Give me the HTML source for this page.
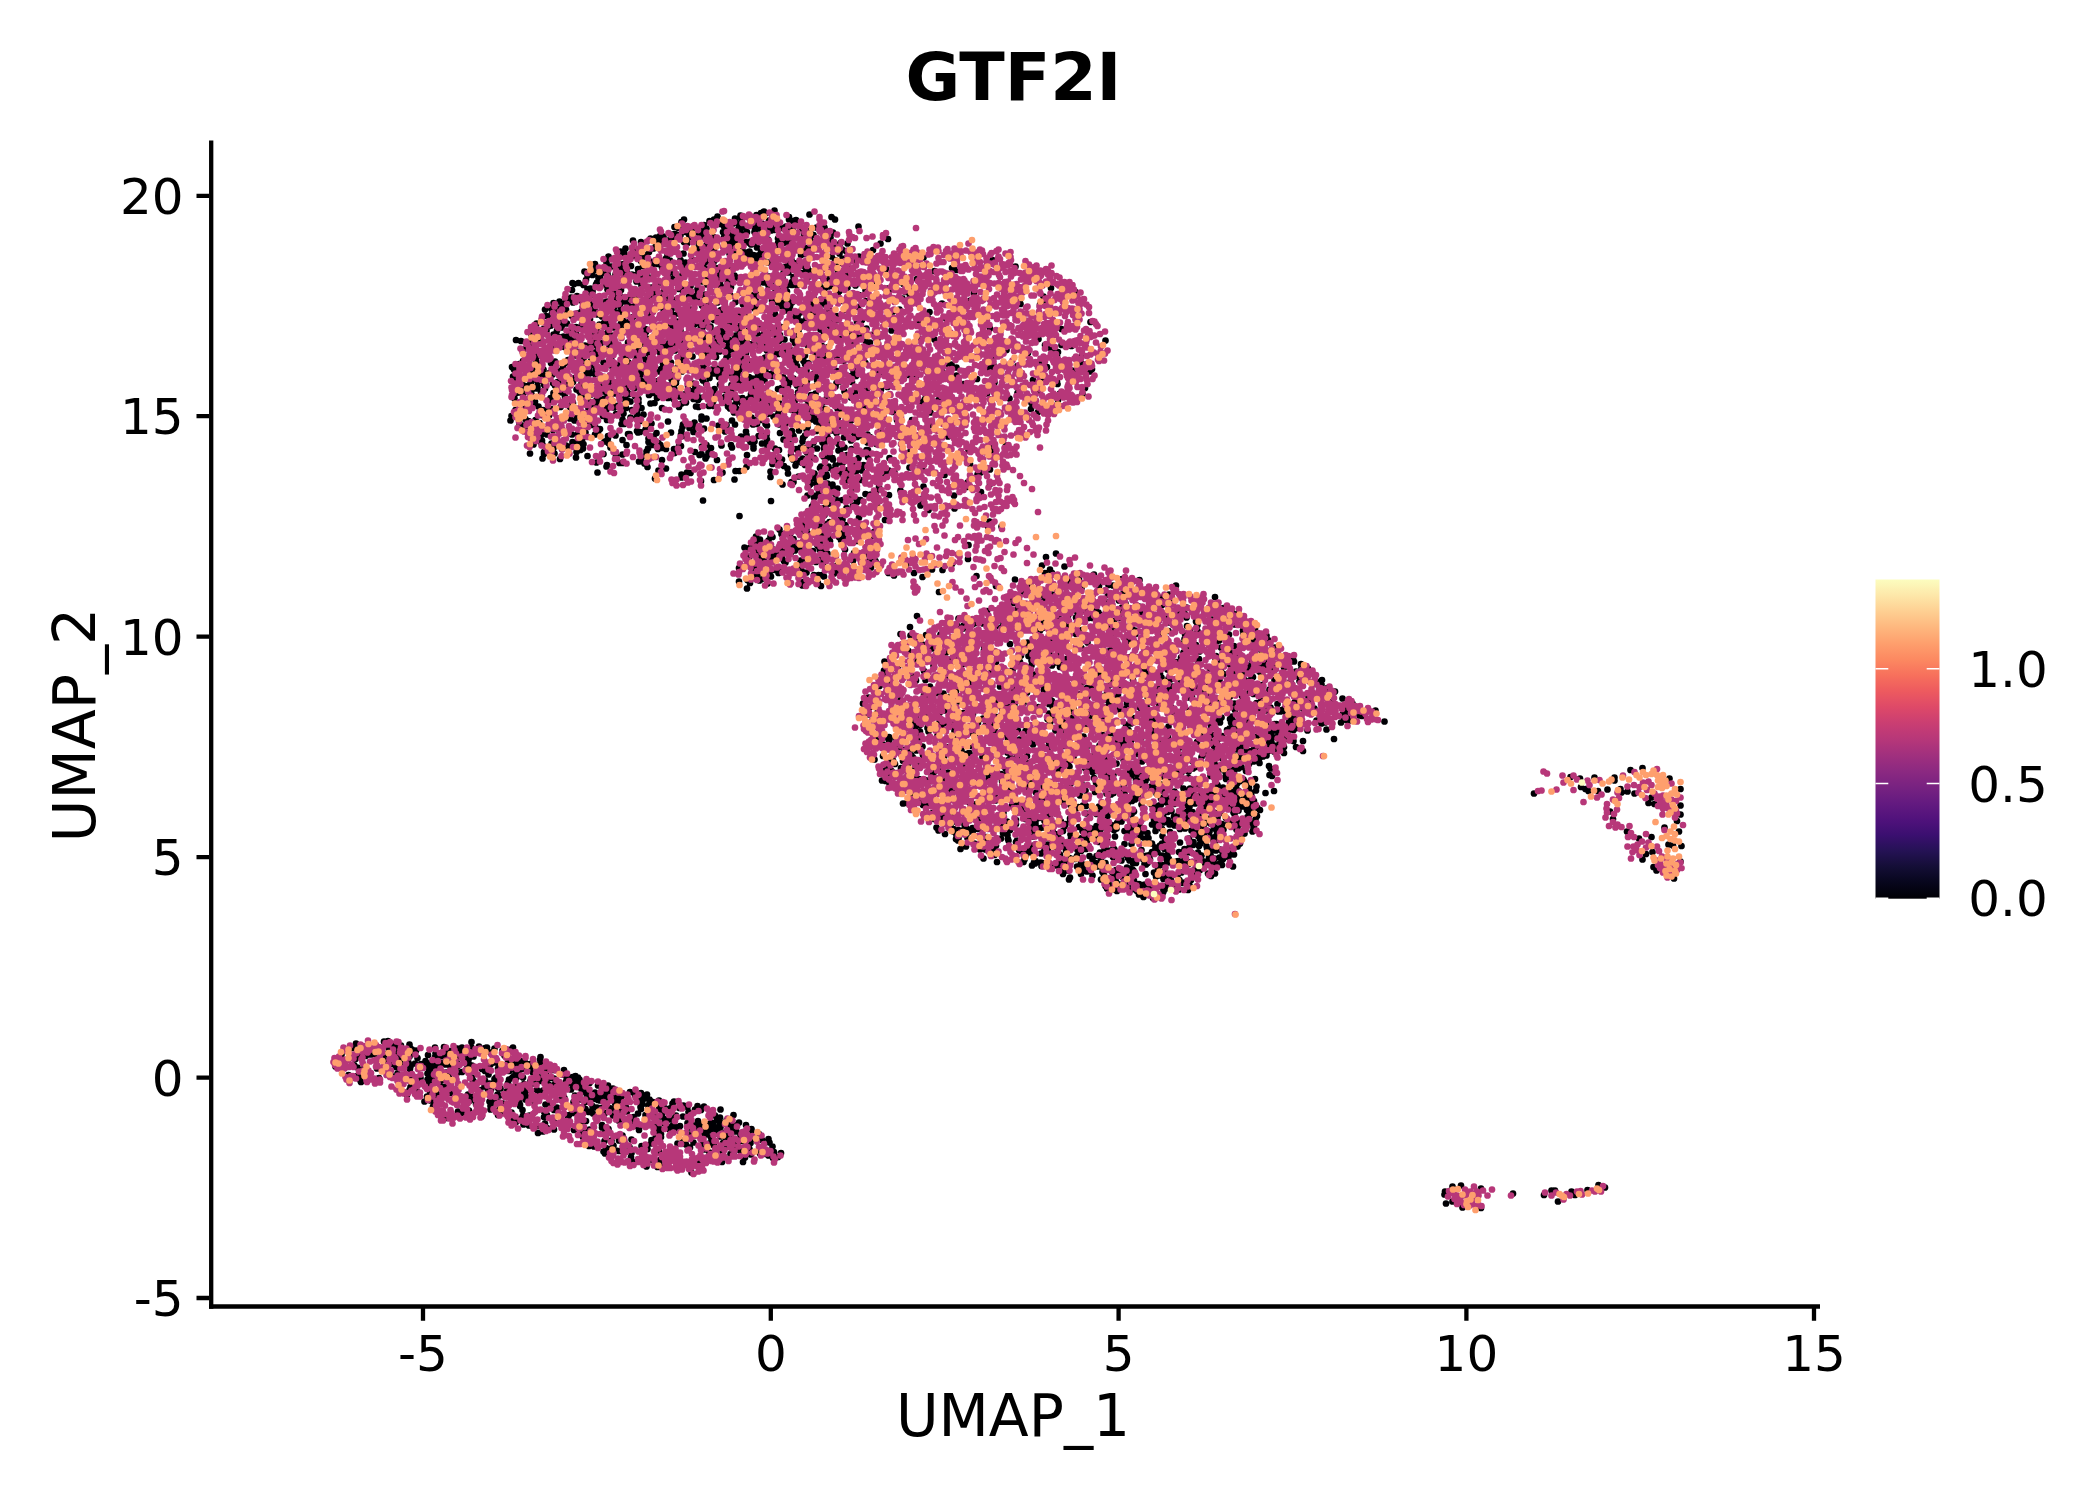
<!DOCTYPE html>
<html lang="en">
<head>
<meta charset="utf-8">
<title>GTF2I</title>
<style>
html,body{margin:0;padding:0;background:#fff;}
body{width:2100px;height:1500px;overflow:hidden;}
svg{display:block;}
text{font-family:"DejaVu Sans","Liberation Sans",sans-serif;fill:#000;}
.tk{font-size:50px;}
.at{font-size:58.3px;}
.tt{font-size:66.7px;font-weight:bold;}
.d{fill:none;stroke-linecap:round;stroke-linejoin:round;stroke-width:13.4;}
</style>
</head>
<body>
<svg width="2100" height="1500" viewBox="0 0 2100 1500">
<defs>
<linearGradient id="mg" x1="0" y1="1" x2="0" y2="0">
<stop offset="0" stop-color="#000004"/>
<stop offset="0.05" stop-color="#07061c"/>
<stop offset="0.1" stop-color="#140e36"/>
<stop offset="0.15" stop-color="#251255"/>
<stop offset="0.2" stop-color="#3b0f70"/>
<stop offset="0.25" stop-color="#51127c"/>
<stop offset="0.3" stop-color="#641a80"/>
<stop offset="0.35" stop-color="#782281"/>
<stop offset="0.4" stop-color="#8c2981"/>
<stop offset="0.45" stop-color="#a1307e"/>
<stop offset="0.5" stop-color="#b73779"/>
<stop offset="0.55" stop-color="#ca3e72"/>
<stop offset="0.6" stop-color="#de4968"/>
<stop offset="0.65" stop-color="#ed5a5f"/>
<stop offset="0.7" stop-color="#f7705c"/>
<stop offset="0.75" stop-color="#fc8961"/>
<stop offset="0.8" stop-color="#fe9f6d"/>
<stop offset="0.85" stop-color="#feb77e"/>
<stop offset="0.9" stop-color="#fecf92"/>
<stop offset="0.95" stop-color="#fde7a9"/>
<stop offset="1" stop-color="#fcfdbf"/>
</linearGradient>
</defs>
<rect width="2100" height="1500" fill="#fff"/>
<text class="tt" x="1013.5" y="100" text-anchor="middle">GTF2I</text>
<g class="d" transform="scale(.5)">
<path stroke="#000004" d="M1670 439h0m-7-5h0m-44-5h0m-41 5h0m0 5h0m-29-18h0m-2 6h0m-15-1h0m-4-3h0m-6 3h0m-9 4h0m-30 8h0m-2-7h0m-11 6h0m-35-4h0m-7 6h0m-60 0h0m-19 15h0m8 2h0m6-12h0m29 15h0m13-7h0m3-2h0m5 7h0m6-15h0m8 3h0m13 3h0m8 5h0m9 1h0m9-7h0m11 0h0m0 10h0m9-2h0m3-2h0m15-4h0m6-1h0m0 11h0m8-2h0m1-4h0m8-5h0m11-7h0m2 14h0m8 5h0m1-9h0m13 5h0m10-3h0m13 5h0m1-16h0m6-2h0m12 17h0m29-2h0m16 0h0m68-2h0m59 25h0m-110-13h0m-5 10h0m-34-5h0m-7-8h0m-12 7h0m-30-5h0m-18 13h0m-4 0h0m-14-16h0m-6 18h0m-27-15h0m-15 0h0m-12 3h0m-8 5h0m-8 0h0m-4-9h0m-1 8h0m-4 2h0m-2-3h0m-2 9h0m-5-5h0m-2-10h0m-19 10h0m-16-6h0m-3 5h0m-5-13h0m-2 12h0m-11-7h0m-7-4h0m-4 13h0m-1-5h0m-6-5h0m-11 6h0m-7 0h0m-4-2h0m-1 8h0m-4-7h0m-4 8h0m-14 0h0m0-4h0m-7-1h0m-8 3h0m-5 4h0m-6-2h0m-50 20h0m15-16h0m16 3h0m25 13h0m5-6h0m2-6h0m2-3h0m10 3h0m42-1h0m7 2h0m17-4h0m5 12h0m16-4h0m15 9h0m21-15h0m7 3h0m6 7h0m1-13h0m3 4h0m3 12h0m2-16h0m2 10h0m11 6h0m8-13h0m5 1h0m4-2h0m1 6h0m7-5h0m5 11h0m42-9h0m2 11h0m9-11h0m8-2h0m8-3h0m23 14h0m7 1h0m7-2h0m1-13h0m4 4h0m1 9h0m32-7h0m11 1h0m12-2h0m3 13h0m11-12h0m51 13h0m15-13h0m86 28h0m-122 2h0m-7-4h0m-24 2h0m-2-13h0m-7 15h0m-6-10h0m-9 13h0m-7-7h0m-55-10h0m0 5h0m-6 2h0m-19 10h0m-56-2h0m-2-3h0m-3-11h0m-4 13h0m-3-6h0m-2 6h0m-6-7h0m-8-7h0m-2 10h0m-1 4h0m-4-12h0m-17 2h0m-6-6h0m-10 6h0m-28 12h0m-34-17h0m-12 17h0m-18-12h0m-32 3h0m-3 7h0m-34-13h0m-6 6h0m-2 4h0m-6 4h0m-6-11h0m-12-6h0m0 11h0m-17-4h0m-8-5h0m-24 10h0m-27 27h0m0-12h0m3 12h0m9-1h0m11-14h0m9 8h0m13-2h0m6-2h0m2 10h0m4-11h0m15 4h0m14 6h0m6-16h0m4 10h0m15-9h0m5 5h0m9 0h0m9 7h0m16-14h0m21-1h0m5 11h0m5-6h0m35 10h0m4-10h0m5-4h0m1 17h0m11-13h0m1 10h0m9 1h0m23-4h0m76-7h0m35 9h0m5-11h0m2 17h0m4-12h0m12-2h0m7 4h0m8 2h0m6 4h0m41 1h0m15-14h0m0 12h0m7-9h0m19 9h0m11-14h0m64 17h0m132-2h0m81-16h0m46 13h0m-118 7h0m-44 2h0m-35 16h0m-141-11h0m-17-2h0m-14 14h0m-3-9h0m-5 10h0m-10-7h0m-22-10h0m-7 13h0m-3-16h0m-9 6h0m-16 8h0m-10-9h0m-10 1h0m-2 9h0m-27-2h0m-65 2h0m-4-4h0m-4 7h0m-9-2h0m-11-12h0m-5 8h0m-1-4h0m-17 9h0m-8 2h0m-49-10h0m-19-5h0m-1 13h0m-5 0h0m-5-7h0m-37 5h0m-11-3h0m-12-4h0m-4 3h0m-7-2h0m-11-5h0m-1 9h0m-3-1h0m-18-3h0m-14 5h0m-2-7h0m-2-5h0m-8 4h0m-4 1h0m-1 7h0m-3 2h0m0-3h0m-12-3h0m-10 1h0m-6-8h0m-25 37h0m1-14h0m3 2h0m9-2h0m10 4h0m5-10h0m3 18h0m6-1h0m11-8h0m2-4h0m17 4h0m4 10h0m24-2h0m3 3h0m31-17h0m8-2h0m2 10h0m20 4h0m16-10h0m21-3h0m18 16h0m9-5h0m14-1h0m14 6h0m9-15h0m10 6h0m24-9h0m2 12h0m0-9h0m0 4h0m7 8h0m9-10h0m6 9h0m54-1h0m6-9h0m6 1h0m9 6h0m7 1h0m20 2h0m11-4h0m8-3h0m1-3h0m0 6h0m10 1h0m45 0h0m2 6h0m9-1h0m7-3h0m5-1h0m9 3h0m24 0h0m16-4h0m20 9h0m15-10h0m29 7h0m5 2h0m27-11h0m295 8h0m49 8h0m-64 9h0m-47 6h0m-92-13h0m-128 6h0m-9-8h0m-6 13h0m-87-7h0m-39-8h0m-4 7h0m-27 9h0m-19 1h0m-55-16h0m-25 3h0m-3 12h0m-28-10h0m-6 10h0m0-6h0m-10-2h0m-41 1h0m-50-2h0m-4 1h0m-11-7h0m-2 17h0m-4-8h0m-2 2h0m-10-1h0m-13-13h0m-15 20h0m-16-4h0m-6-15h0m-7 11h0m-15-6h0m-1 7h0m-5 2h0m-29-1h0m-13 0h0m-3 1h0m-16-5h0m-8 5h0m-2-8h0m-44-4h0m0-2h0m-5 10h0m-26 1h0m-12 3h0m-52 24h0m13-1h0m2 2h0m2-4h0m0-10h0m3 13h0m9-2h0m0-14h0m6 9h0m7 7h0m0-15h0m8-2h0m6 3h0m18-3h0m17 5h0m4 12h0m5-1h0m16-9h0m1-4h0m7-2h0m14 11h0m5-14h0m7 12h0m1-9h0m8 0h0m7 6h0m6 5h0m9-9h0m30 15h0m26-2h0m16 1h0m38 0h0m23-8h0m4 0h0m9-4h0m18-2h0m7 15h0m29-16h0m15 5h0m21 5h0m2 3h0m5-2h0m30-14h0m5 1h0m7 3h0m6 0h0m1 7h0m8-10h0m8 17h0m1-6h0m3-12h0m1 4h0m37 0h0m3-2h0m5 12h0m1-10h0m14 2h0m9 5h0m3-6h0m2 13h0m22-17h0m36 12h0m16-12h0m67 17h0m85-12h0m57-6h0m100 7h0m39 1h0m3-2h0m8-3h0m-199 33h0m-33-13h0m-3 12h0m-70-13h0m-62 17h0m-33-20h0m-17 12h0m-43-7h0m-9-3h0m-9 15h0m-8-13h0m-8 4h0m-2 6h0m-8 0h0m-15-13h0m-22 7h0m-58 3h0m-12 0h0m-4-7h0m-40 7h0m-8 9h0m-21-2h0m-50-11h0m-9 3h0m-17-8h0m-34 10h0m-31 2h0m-26-10h0m-8 1h0m-5-3h0m-23 11h0m-9-4h0m-15 9h0m-17-15h0m-2 3h0m-6 1h0m-11 5h0m-9-4h0m-32 1h0m-1 4h0m-10-1h0m-21 21h0m2-6h0m14 11h0m12-6h0m3-1h0m18-6h0m3 10h0m2-6h0m9-2h0m18 7h0m12-5h0m15-5h0m20 5h0m1 3h0m8-6h0m6 9h0m3-12h0m10 12h0m14-6h0m2-4h0m4 11h0m0-14h0m5 6h0m6-4h0m33 14h0m47-4h0m5-2h0m11-9h0m35 6h0m5-3h0m7 12h0m1-7h0m3 4h0m5-8h0m11 6h0m17 6h0m2-2h0m10-12h0m12 6h0m12 6h0m5-5h0m37 3h0m35 2h0m12-3h0m40-11h0m38 16h0m19-7h0m5 5h0m3-13h0m7-4h0m39 3h0m19 14h0m104-12h0m143 12h0m143 1h0m58-14h0m-104 34h0m-208 1h0m-27-1h0m-59-17h0m-27 15h0m-8-8h0m-22 1h0m-5 7h0m-9-3h0m-11-7h0m-20 12h0m-34-15h0m-50-1h0m-4 16h0m-1-11h0m-2 7h0m-4 5h0m-17 0h0m-9-9h0m-6-3h0m-1 5h0m-11-8h0m-16 6h0m-12-3h0m-16-7h0m-12 19h0m-7-18h0m-2 19h0m-6-9h0m-1 3h0m-12 6h0m-7 0h0m-3-16h0m-7 6h0m-15 1h0m-2-8h0m-15 6h0m-48-8h0m-68 16h0m-1-13h0m-69 7h0m-11-3h0m-18-5h0m-5 16h0m-4-10h0m-33-5h0m-1 14h0m-12-16h0m-1 8h0m-5 7h0m-6-4h0m-3 5h0m-8-5h0m-2-12h0m-7 8h0m-14-8h0m-17 16h0m-13-8h0m-31 11h0m10 2h0m5 17h0m14-7h0m2-10h0m43 11h0m23 1h0m5-9h0m6-5h0m30 11h0m5 5h0m2 4h0m5-15h0m4 0h0m2 5h0m7 3h0m7-7h0m17 6h0m7-6h0m3 7h0m27-8h0m14 12h0m7-4h0m10-6h0m31 9h0m8-6h0m4 9h0m3-10h0m6-5h0m3 10h0m9-5h0m14-6h0m7 17h0m4-8h0m34-11h0m13 12h0m7-10h0m7 10h0m16 1h0m5-5h0m6 10h0m15-16h0m3 12h0m7-6h0m5-4h0m10 3h0m9 3h0m20-5h0m25-4h0m13 14h0m8 1h0m11-11h0m25 4h0m29 2h0m12 2h0m52-10h0m24-1h0m8 2h0m0 11h0m273 4h0m77-10h0m9 5h0m24-5h0m20 2h0m68-11h0m-47 30h0m-48-7h0m-2 7h0m-4-9h0m-54 4h0m-70 10h0m-241-4h0m-71 2h0m-22 1h0m-4-4h0m-7 3h0m-9 3h0m-3-13h0m-19 7h0m-16 3h0m-4-2h0m-1 4h0m-20-15h0m-12 7h0m-3-6h0m-5 4h0m-14 11h0m-1-16h0m-4 14h0m-38-9h0m-6 12h0m-29-17h0m-1 10h0m-3 4h0m-14-12h0m-4-2h0m-3 13h0m-16-3h0m-1-7h0m-12 3h0m-18 6h0m-26 1h0m-9-13h0m-30 4h0m-21 4h0m-4-4h0m-10 9h0m-9-12h0m-3 16h0m0-8h0m-21 8h0m-4-5h0m-25 7h0m-21-11h0m-4-2h0m-2 8h0m-3-11h0m-6 1h0m-20 12h0m-2-6h0m-12-8h0m-1 8h0m-16 9h0m-63-6h0m-4-2h0m-45 22h0m4 5h0m10-11h0m8-6h0m17 11h0m9-11h0m1 13h0m4-6h0m6 9h0m4 1h0m15-13h0m6 1h0m2-4h0m16 12h0m6-9h0m34 4h0m2 8h0m10 0h0m3-7h0m1-9h0m10 16h0m15-13h0m18 9h0m10-4h0m22-5h0m35-5h0m30 18h0m4-10h0m0 12h0m16-15h0m1 10h0m14-3h0m6-9h0m7-3h0m28 19h0m7-5h0m3 1h0m16 4h0m10-2h0m9 0h0m26 2h0m10 0h0m2-6h0m8-4h0m15-4h0m23-2h0m4 14h0m1-14h0m58 7h0m2-9h0m2 11h0m4 8h0m9-18h0m3 6h0m7-2h0m33-5h0m37 1h0m44 4h0m161 2h0m11 1h0m10 6h0m62 0h0m6-3h0m4-7h0m2 5h0m1 9h0m45-2h0m2-5h0m45-4h0m14 6h0m68-8h0m22 12h0m-4 5h0m-32 4h0m-4-6h0m-190 17h0m-41-7h0m-28-7h0m-53 9h0m-14-3h0m-60-4h0m-46 6h0m-5-11h0m-3 10h0m-30-9h0m-37 15h0m-3 3h0m-3-7h0m-3-6h0m-15-6h0m-26 16h0m-16 2h0m-5-5h0m-22-7h0m0 5h0m-10-5h0m-12 6h0m0-10h0m-3 15h0m-3-7h0m-6 7h0m-5-1h0m-4 0h0m-3-3h0m-22-7h0m-2 8h0m-3-7h0m-9-2h0m-15 7h0m-5-5h0m-4 6h0m-1-13h0m-9 6h0m-7 0h0m-2 9h0m-15 1h0m-40-14h0m-11 16h0m-10-10h0m0 9h0m-24-15h0m-30-2h0m-6 2h0m-1 6h0m-8-4h0m-83-3h0m-1 6h0m-11-1h0m-6 0h0m-24 9h0m-22-15h0m-9 1h0m-13 7h0m-6-3h0m-12 5h0m-7-1h0m-10-7h0m-2 16h0m-5-11h0m-37 5h0m7 10h0m12 12h0m1-5h0m8 2h0m5-2h0m3-5h0m3 13h0m5-4h0m4 3h0m1-3h0m1-11h0m12 6h0m2 8h0m16-11h0m4 5h0m5-7h0m11 2h0m9 2h0m11-4h0m7 15h0m10-12h0m3 5h0m37-1h0m10-2h0m8-4h0m27 4h0m4 9h0m15-8h0m2 6h0m14-14h0m10 10h0m2-10h0m21 0h0m23 9h0m8-11h0m2 18h0m3-12h0m24 6h0m10-5h0m4 11h0m5-2h0m11-15h0m6 6h0m17 11h0m11-9h0m23 1h0m11-5h0m8 0h0m21 3h0m2 10h0m24-17h0m27 17h0m7-2h0m9-10h0m4 6h0m4-8h0m14 7h0m7-1h0m8 1h0m5-10h0m19 10h0m5-10h0m33 12h0m2-7h0m6-3h0m25 1h0m58 15h0m13-5h0m152-6h0m62-3h0m77-5h0m19 3h0m29 0h0m1 5h0m55 8h0m-5 12h0m-45-1h0m-4 13h0m-37-19h0m-44 5h0m-16 11h0m-45-10h0m-97 13h0m-27-2h0m-117-17h0m-23 5h0m-1-4h0m-3 7h0m-4 6h0m-13-12h0m-35 12h0m-23-8h0m-9 3h0m-10 8h0m-13-15h0m-3 2h0m-5 13h0m-1-4h0m-20-1h0m-50 5h0m-14 1h0m-4-11h0m-4 9h0m-7 3h0m-6-4h0m-7 1h0m-13-3h0m-2-13h0m-13 13h0m-1-14h0m-21 3h0m0 3h0m-4-3h0m-24 12h0m-6-8h0m-7 11h0m-2-16h0m-14 6h0m-12 5h0m-12 5h0m-11-2h0m-22 0h0m-7-10h0m-4-2h0m-5 6h0m-21 8h0m-7-6h0m-12-4h0m-3-3h0m-6 13h0m-14-11h0m-5 0h0m-4-4h0m-10 10h0m-2 3h0m0-10h0m-5 11h0m-2-14h0m-4-2h0m-1 18h0m-20-10h0m-8 7h0m-10 0h0m-2-5h0m-3-8h0m-29 10h0m-1-10h0m-4 2h0m-8 0h0m-6-1h0m-4 2h0m-6 10h0m-19-12h0m-19 4h0m-16-2h0m-7-1h0m-7 1h0m-4 11h0m2 23h0m21-7h0m16-7h0m2-3h0m7 10h0m9 7h0m15-19h0m1 17h0m19-4h0m19 0h0m4-5h0m2-3h0m31 11h0m4-13h0m5 4h0m4 2h0m3-10h0m5 5h0m9 10h0m6 4h0m6-7h0m7-4h0m2 7h0m9-4h0m10 2h0m3-3h0m2 6h0m3-15h0m6 2h0m3 17h0m13-15h0m6 11h0m18-9h0m8-1h0m15 10h0m34-2h0m5-7h0m9-2h0m20 8h0m4-13h0m1 14h0m21-2h0m6-7h0m3 7h0m0-11h0m21 4h0m8 8h0m4 4h0m5-6h0m5 2h0m3-10h0m1 15h0m5-17h0m4 5h0m55 0h0m12 11h0m8 3h0m0-14h0m26 14h0m5-15h0m28 0h0m2 11h0m25-10h0m6 12h0m25-1h0m5 2h0m42-2h0m11-2h0m110-11h0m219 14h0m1-12h0m13 18h0m-215 1h0m-37 15h0m-38-16h0m-110 11h0m-18 2h0m-25-2h0m-4-4h0m-6 8h0m0-14h0m-6 15h0m-24-20h0m-1 4h0m-2-2h0m-34 7h0m-9 4h0m-12-5h0m-12 12h0m-14 0h0m-6-5h0m-35-10h0m-55 12h0m-10-4h0m0 6h0m-116-10h0m-13 4h0m0-9h0m0 6h0m-13 5h0m-14-8h0m-2 12h0m-13-11h0m-22-7h0m-4 11h0m-51-1h0m-4-3h0m-11 9h0m-42-6h0m-6-10h0m-9 9h0m-32 8h0m-28-6h0m-2 9h0m18 6h0m10 4h0m3 2h0m5-11h0m14-2h0m8 6h0m27 14h0m13-9h0m30-10h0m23 6h0m6 3h0m4 0h0m8 1h0m10 7h0m14-18h0m29 8h0m5 0h0m32-6h0m11 17h0m5-7h0m7-5h0m33-4h0m29 11h0m1-5h0m13 7h0m10-11h0m1 7h0m18 5h0m29-6h0m14 6h0m2-7h0m11-9h0m6 8h0m36 0h0m8-1h0m17 0h0m3 3h0m25-2h0m7 0h0m6-3h0m41 13h0m2-5h0m17-11h0m3-1h0m4 10h0m2-3h0m16 1h0m25 1h0m20-10h0m92-1h0m68 10h0m34 23h0m-97 1h0m-38-13h0m-21 13h0m-5-5h0m-12 2h0m-9 3h0m-3-1h0m-2-6h0m-4-4h0m-17 12h0m-15-9h0m-9-5h0m-8 15h0m-2-8h0m-21-6h0m-23 9h0m-4 5h0m-8-15h0m-11 11h0m-3-10h0m-17 17h0m-7-13h0m-26 13h0m-1-9h0m-4 0h0m-12 2h0m-19 7h0m-5-9h0m-1-7h0m-10 10h0m-32-10h0m-63 1h0m-20 8h0m-4-10h0m-1 7h0m-20-4h0m-29 1h0m-6 7h0m-10 4h0m-17-13h0m-4 1h0m-2-3h0m-15 6h0m-3 0h0m-25 3h0m-15 5h0m0-4h0m-20-7h0m-6 4h0m-19-4h0m-6 12h0m-9-9h0m-12 1h0m-25-6h0m-25 6h0m-11 0h0m-4 0h0m-13 2h0m1 18h0m13-6h0m4-2h0m1 8h0m18-2h0m4 9h0m21-2h0m4-3h0m5 2h0m8-9h0m6 1h0m9 1h0m1 14h0m5-3h0m1-9h0m42-5h0m8 3h0m4 9h0m24-15h0m8 10h0m43 7h0m1-13h0m8 6h0m11 8h0m1-12h0m4 4h0m1 4h0m3 2h0m7 2h0m16 0h0m10-6h0m4 0h0m42 1h0m9-3h0m9 6h0m21-5h0m19-1h0m2 5h0m37-11h0m6 13h0m0-4h0m2-10h0m15 4h0m9-1h0m2 8h0m15 3h0m8 3h0m19-16h0m15 14h0m9-3h0m4-12h0m6 13h0m10 0h0m6-11h0m7 12h0m11-12h0m3 11h0m1-9h0m0 13h0m28-12h0m12 7h0m13-14h0m1 17h0m32-13h0m18 3h0m229 8h0m30-5h0m-24 14h0m-51-4h0m-116 1h0m-42 14h0m-43-16h0m0 14h0m-1-6h0m-2-8h0m-16 16h0m-23-6h0m-4 2h0m-10-11h0m-3 0h0m-11 18h0m-1-3h0m-6-9h0m-3-2h0m-1 10h0m-8-2h0m-19 3h0m-9 2h0m-5-13h0m-9 12h0m-10-17h0m-9 19h0m-4-9h0m-18 9h0m-11 1h0m-59-10h0m-60 10h0m-12-12h0m-5-3h0m-4 8h0m-2 4h0m-8-9h0m-4 2h0m-9-6h0m-41 2h0m-56-3h0m-1 8h0m-47-2h0m-13 3h0m-25-4h0m-32 4h0m-22-8h0m-1 11h0m-32 3h0m-11-11h0m-21-3h0m0 4h0m-3 9h0m-25-10h0m133 18h0m20 8h0m1-3h0m25-4h0m6 0h0m33-3h0m4-3h0m7 7h0m6 7h0m29-14h0m8 17h0m161-3h0m52-6h0m23 4h0m7 5h0m16-6h0m6-9h0m6 3h0m7 5h0m30 6h0m2-3h0m15 0h0m0 3h0m9 4h0m5-9h0m10-6h0m4 1h0m21 5h0m21-1h0m92 5h0m25 0h0m96-7h0m40 11h0m-19 6h0m-6 4h0m-66 1h0m-100-5h0m-11-4h0m-9 5h0m-45-5h0m-12 2h0m-9 3h0m-7-6h0m-3 15h0m-12-8h0m-27 5h0m-1-3h0m-4 5h0m-3-4h0m-16 7h0m-1-10h0m-10 12h0m-22-6h0m-21-6h0m-35-4h0m0 11h0m-62-12h0m-8 0h0m-2 17h0m-24-14h0m-64 1h0m-7-1h0m-11 10h0m0-6h0m-46-8h0m-7 16h0m-115-12h0m207 17h0m26-2h0m137 9h0m18-5h0m4 0h0m30 2h0m1 5h0m3-3h0m12-1h0m10 4h0m12-4h0m2 7h0m6-2h0m2-3h0m10 8h0m21-16h0m11 14h0m14-15h0m37 14h0m89-1h0m86 1h0m2-9h0m45 3h0m-18 16h0m-54 7h0m-67 7h0m-40-17h0m-23 9h0m-26-5h0m-11 4h0m-10-1h0m-10 12h0m-8-1h0m-12-5h0m-30-5h0m-8-7h0m-25 1h0m-6 8h0m-4 4h0m-13-4h0m-209 10h0m136 1h0m82 11h0m3-4h0m21 7h0m7-8h0m10-1h0m5 2h0m6-8h0m9-1h0m8 16h0m13-5h0m8-7h0m40 6h0m87 1h0m68 6h0m-52 3h0m-139 15h0m-33 4h0m-3-6h0m-33-3h0m-170 2h0m80 27h0m44-11h0m6 8h0m4 1h0m1-7h0m24-3h0m0 5h0m7 3h0m9-7h0m5-4h0m32 6h0m32 3h0m47-13h0m206 13h0m3-10h0m24 10h0m-255 11h0m-5 8h0m-51 5h0m-3-9h0m-8-6h0m-3 12h0m-21 2h0m-11-5h0m-7 4h0m-23-8h0m-13 0h0m-16 11h0m-7-10h0m-17 0h0m-18 6h0m-4-1h0m-21 6h0m-8-6h0m-23 22h0m10 1h0m11-6h0m7-1h0m2-6h0m18-2h0m10 18h0m16-8h0m2 9h0m17-15h0m2 6h0m7 4h0m5-5h0m0 5h0m8-1h0m31-3h0m3-8h0m1 13h0m6-9h0m15-5h0m22-2h0m8 19h0m25-17h0m222 8h0m175 17h0m-20 7h0m-156 4h0m-198-8h0m-30-4h0m-53 1h0m-9-5h0m-2 3h0m-1 13h0m-3-18h0m-14 2h0m-16 15h0m-20-16h0m-8 4h0m-18 10h0m-7-5h0m-2 4h0m-8-5h0m-4 6h0m-15 1h0m-5-7h0m-2 6h0m-6-7h0m-3-5h0m-13 10h0m-21 23h0m31 0h0m16-11h0m23 15h0m20-18h0m3 3h0m30-4h0m1 13h0m30-10h0m15 1h0m27 6h0m32-10h0m34-1h0m2 15h0m9-13h0m62 6h0m51 11h0m40-11h0m180 3h0m16 8h0m29-6h0m150 27h0m-35-2h0m-56-9h0m-30 9h0m-54-12h0m-14 4h0m0-4h0m-60 13h0m-77-7h0m-68-12h0m-40 14h0m-17-8h0m-40 5h0m-11-5h0m-77 4h0m-27-5h0m-5 2h0m-20 6h0m-4-3h0m-7 0h0m-9 0h0m-15-5h0m-9-2h0m-43-2h0m-4 5h0m-15 7h0m-2-10h0m-11 11h0m-6-9h0m-1 14h0m-8-6h0m-5 0h0m-31 10h0m16 14h0m1-17h0m5 6h0m19-5h0m16 6h0m66-3h0m4 7h0m4-8h0m27 3h0m6 6h0m350 0h0m69-1h0m78-9h0m24 14h0m35-4h0m19-2h0m9 1h0m126 0h0m78 23h0m-92-5h0m-14 6h0m-76 3h0m-1-12h0m-31 4h0m-112-1h0m-23 1h0m-34-7h0m-169 1h0m144 17h0m5 5h0m8 12h0m53-16h0m62 17h0m29-10h0m13 8h0m23-12h0m23-4h0m6 14h0m7-8h0m27 6h0m2 7h0m44-10h0m20-9h0m29 14h0m74 1h0m30 10h0m-12 0h0m-41 13h0m-51-4h0m-3-7h0m-14-6h0m-22 15h0m-48-12h0m-8 6h0m-34-9h0m-5 14h0m-37-6h0m-5-5h0m-3-1h0m-9 12h0m-8 0h0m-5-13h0m-18 0h0m-2 12h0m-16-3h0m-19 1h0m-143-11h0m-57 15h0m-83-5h0m-14 22h0m94-3h0m2 5h0m10 1h0m1-6h0m4 1h0m15-4h0m7-2h0m13 1h0m25 6h0m12-12h0m1 13h0m35-7h0m37 7h0m8-10h0m1 12h0m48-9h0m2 4h0m29 9h0m51-9h0m10 3h0m3-12h0m35 15h0m76-12h0m35 7h0m18-9h0m3 7h0m75-1h0m1-4h0m39 12h0m26 23h0m-3-9h0m-26 8h0m-20-12h0m-1-6h0m-28 8h0m-63-7h0m-15-1h0m-10 7h0m-1 10h0m-32-16h0m-17 5h0m-49 1h0m-1-7h0m-12 16h0m-31-12h0m-66-3h0m-9 6h0m-72-7h0m-199 8h0m-29 1h0m-17 8h0m-14-7h0m-20-3h0m44 21h0m19 8h0m104-5h0m52-4h0m34 6h0m1-9h0m46-4h0m30 17h0m32-2h0m12-11h0m48 14h0m34-16h0m109 5h0m7 11h0m19-9h0m40-6h0m6-3h0m4 14h0m26-3h0m35 1h0m46 5h0m1-3h0m36 22h0m-63-16h0m-19 18h0m-28-4h0m-15-9h0m-29 6h0m-1 7h0m-32-16h0m-1 15h0m-31-13h0m-5 10h0m-102-1h0m-44-11h0m-83 15h0m-15-15h0m-5 11h0m-14-6h0m-37-6h0m-3-1h0m-2 11h0m-15-1h0m-74-11h0m-52 17h0m-15 2h0m-9-14h0m-30 15h0m-45-18h0m-2 3h0m-46 18h0m6 6h0m22 2h0m38-8h0m32 8h0m58-3h0m67-4h0m48 0h0m23 7h0m0-10h0m41 10h0m9-6h0m7 9h0m3-5h0m163 9h0m49 1h0m18-15h0m43-1h0m24 14h0m16-14h0m24 6h0m5 10h0m31-2h0m1-6h0m5 8h0m20-12h0m6-6h0m1 11h0m23-4h0m16 7h0m17-12h0m3 0h0m14 5h0m1 7h0m13 2h0m-18 16h0m-6-10h0m-49-3h0m-20 7h0m-4-4h0m-13 11h0m-5 6h0m-12 0h0m-3-10h0m-14-5h0m-25 3h0m-5-7h0m-3 19h0m-50-1h0m-48 0h0m-4-2h0m-14-2h0m-3-8h0m-25 1h0m-3-6h0m-92 6h0m-6 2h0m-30 9h0m-96-10h0m-43-9h0m-42 4h0m-93 11h0m-39 5h0m-3-18h0m-21 11h0m-59-4h0m0-8h0m-9 31h0m22-10h0m51-1h0m28 12h0m79-12h0m6 4h0m55 8h0m26-2h0m62 9h0m0-7h0m76-8h0m10 11h0m8-1h0m5-4h0m31 0h0m6-6h0m14 7h0m28-12h0m51 18h0m18 1h0m10-6h0m16-7h0m18 11h0m16-2h0m20-3h0m107-2h0m17 9h0m10-19h0m32 3h0m18-1h0m38 2h0m6 5h0m1-9h0m11 16h0m30 21h0m-15-14h0m-53 11h0m-26 1h0m-53-11h0m-31 4h0m-8-3h0m-15 7h0m-24 1h0m-23 4h0m-24-7h0m-5-9h0m-21 3h0m-3 9h0m-4 0h0m-3 2h0m-56-12h0m-8 11h0m-18 0h0m-59-5h0m-7 5h0m-8 2h0m-6 4h0m-1-14h0m-9 7h0m-30 0h0m-19-5h0m-2 1h0m-55 4h0m-45-8h0m-28-3h0m-114 0h0m-15 12h0m-10-7h0m-12-1h0m0-5h0m-17 13h0m-10-4h0m-47 10h0m-64-5h0m-11 12h0m4-5h0m11 12h0m150 3h0m27-14h0m70-1h0m4 6h0m12 10h0m12-10h0m10-7h0m3 8h0m18-2h0m30 7h0m21-6h0m6-6h0m1 11h0m43 6h0m64-5h0m7-5h0m4-7h0m16 17h0m10-1h0m5-11h0m3 1h0m23 7h0m14 0h0m23-9h0m25 8h0m74-1h0m9-6h0m44 0h0m44-1h0m3 2h0m2 7h0m4-13h0m5 16h0m14-3h0m14-7h0m13 10h0m21-13h0m6 6h0m1-8h0m10 14h0m14-15h0m9 15h0m32-13h0m30 14h0m3 1h0m11-12h0m46 14h0m-27 11h0m-5-1h0m-24-1h0m-8 5h0m-2-6h0m-91 5h0m-9 3h0m-3 3h0m0-17h0m-4 11h0m-6-9h0m-8-5h0m-3 3h0m-4 0h0m-25-2h0m-9 3h0m-30 13h0m-23-17h0m-6 13h0m-4 5h0m-17-3h0m-12 2h0m-52-16h0m-30 8h0m-42 11h0m-12-1h0m-13-13h0m-14 10h0m-64 0h0m-16-3h0m-12 1h0m-2-6h0m-25 9h0m-7-1h0m-3-13h0m-33 5h0m0 6h0m-3 6h0m-5-13h0m-3 11h0m-99-4h0m-8-2h0m-22 5h0m-20-9h0m-20-2h0m-37-5h0m-10 5h0m-25 3h0m-22 5h0m-77-9h0m-19 4h0m-4-4h0m92 17h0m6 16h0m3-9h0m7 1h0m15 6h0m24-12h0m4 7h0m9-5h0m8 6h0m5-4h0m42 12h0m9-15h0m16 4h0m12-1h0m6 9h0m110-11h0m22 9h0m5-11h0m43 12h0m82-7h0m5 11h0m5-13h0m41 11h0m34-5h0m85-2h0m15-9h0m3 3h0m14 15h0m5-3h0m3-12h0m7-2h0m2 11h0m23-5h0m39 2h0m16-3h0m4 0h0m0 4h0m6 4h0m15-5h0m1 6h0m3-15h0m9 18h0m3-17h0m3 13h0m40-15h0m4 1h0m6 5h0m7-2h0m3 14h0m29-14h0m11-5h0m7 1h0m69 2h0m-101 35h0m-53-17h0m-40 17h0m0-13h0m-5 4h0m-12-1h0m-2 4h0m-7-11h0m-4 1h0m0 13h0m-2-5h0m-2 8h0m-8-16h0m0 6h0m-11 3h0m-10 3h0m-41-7h0m-27 5h0m-9 8h0m-5-10h0m-6 0h0m-23-4h0m-65 9h0m-31-11h0m-60 7h0m-14-1h0m-12-3h0m-14 3h0m-38 3h0m-36-7h0m-20-5h0m-60 1h0m-12 17h0m-3-18h0m-20 17h0m-4-9h0m-23-6h0m-38 4h0m-7-1h0m-29 12h0m-6-16h0m-2 15h0m-32-6h0m-18-8h0m-17 0h0m-2 12h0m-47 2h0m-13-3h0m-11 1h0m-9-3h0m-12 5h0m8 3h0m12 9h0m12-8h0m17 15h0m13 4h0m37-7h0m52 1h0m47-2h0m119-7h0m3 4h0m31 5h0m1-10h0m29 8h0m49-1h0m23 0h0m33-11h0m4 17h0m0-10h0m10 3h0m5-9h0m11 0h0m20-1h0m39 7h0m37 9h0m36-12h0m26-1h0m8 9h0m47 7h0m5-2h0m0-8h0m4 2h0m24 0h0m4 3h0m20 3h0m1-5h0m5-9h0m5 2h0m10 6h0m2 3h0m5-13h0m8 13h0m19-12h0m5 12h0m14-12h0m0 20h0m-38 4h0m-20-3h0m-11-1h0m-4 9h0m-7 2h0m-6 2h0m-3-7h0m-11 10h0m-4-16h0m-9 0h0m-7 13h0m-9-2h0m-10-2h0m-23 5h0m-11-15h0m-20 7h0m-10 6h0m-44-5h0m-86-1h0m-26 11h0m-37-2h0m-25-4h0m-38 1h0m-43 4h0m-50-6h0m-20 1h0m-13 2h0m-6-10h0m-50 9h0m-26-8h0m-4 1h0m-3 7h0m-9-13h0m-35 14h0m-42-5h0m-13-9h0m-7 14h0m-3-4h0m-3-11h0m-54 12h0m-17 7h0m25 18h0m3-12h0m9-4h0m4 7h0m12 8h0m4-14h0m10 7h0m13 11h0m10-11h0m43 5h0m43-5h0m58 7h0m28 1h0m6-17h0m39 6h0m66 6h0m14-6h0m3 7h0m31 3h0m3-9h0m8 12h0m52-12h0m26 12h0m25-16h0m102 0h0m0 14h0m5-3h0m5-2h0m33-5h0m1 3h0m35 9h0m9-17h0m3 15h0m6-3h0m15-6h0m9-5h0m12 3h0m19 6h0m3 5h0m9 2h0m711 1h0m24-4h0m54 21h0m-110-2h0m-40 0h0m-29 2h0m-19-3h0m-597-2h0m-5-2h0m-29 8h0m-18-16h0m-5 17h0m-19-13h0m-8 8h0m-2-11h0m-2 13h0m-3-9h0m-1 11h0m-1-14h0m0 9h0m-14-11h0m-16 10h0m-44-9h0m0 13h0m-14-11h0m-7-2h0m-24 3h0m-6 7h0m-26 2h0m-20-8h0m-6 2h0m-2 11h0m-5-17h0m-5 8h0m-3-4h0m-32 2h0m-9 7h0m-6-8h0m-20-6h0m-4 14h0m-3-12h0m-64-3h0m-4 0h0m-103 16h0m0-9h0m-12 0h0m-25 10h0m0-8h0m-81-5h0m-4 5h0m-3 8h0m-21-14h0m-4 6h0m-13 10h0m-13-2h0m-4 1h0m-8-4h0m-43-13h0m-2 5h0m-16-5h0m-1 19h0m7 1h0m8 5h0m83-5h0m43 17h0m99-17h0m16 18h0m31-2h0m4-3h0m1-5h0m9-6h0m22 9h0m55-7h0m21 1h0m29-2h0m4 4h0m25 8h0m22 2h0m5-6h0m34-11h0m3 13h0m6-13h0m11 11h0m1 6h0m7-10h0m13 0h0m1 11h0m13-17h0m21 6h0m9 8h0m13 0h0m9-1h0m6-5h0m40-1h0m11 5h0m26 1h0m1-7h0m2-3h0m6-4h0m13 4h0m4 9h0m15-2h0m649 1h0m9 4h0m44 1h0m14-18h0m12 17h0m120 0h0m-58 17h0m-34-8h0m-14-4h0m-12 2h0m-47-3h0m-19 0h0m-109 5h0m-520-5h0m-17 4h0m-19-5h0m-9 11h0m-1-7h0m-4 9h0m-10-7h0m-1 11h0m-11-17h0m-2 14h0m-5-12h0m-11-2h0m-11 10h0m-17-3h0m-12-3h0m-1 15h0m-3-14h0m-6 13h0m-10-7h0m-12-5h0m-5 10h0m-12-14h0m-20 0h0m-1 13h0m-10 1h0m-10-14h0m0 11h0m-6 3h0m-9-10h0m-3-5h0m-34 11h0m-2 3h0m-4 3h0m0-5h0m-21-8h0m-5 1h0m-17-1h0m-5 3h0m-9-2h0m-23-3h0m-19-3h0m-11 10h0m-36 4h0m-33 1h0m-11 1h0m-8-12h0m-82 8h0m-91-4h0m-7-8h0m-69 7h0m-17 19h0m8-1h0m27-5h0m5 9h0m9 2h0m84-7h0m13 3h0m39-7h0m33 10h0m12-6h0m3-3h0m10 11h0m2 5h0m76-13h0m7-1h0m7 6h0m11 7h0m5-3h0m9-3h0m6 1h0m13 4h0m13-3h0m5 2h0m52-8h0m9-5h0m19 7h0m20 0h0m6 3h0m6 8h0m1-4h0m2-5h0m4-2h0m12-4h0m13-3h0m1 6h0m18 1h0m9 2h0m3-11h0m1 13h0m11-6h0m13 11h0m4-9h0m8 5h0m4-5h0m1-5h0m10-4h0m22 13h0m3 1h0m12 3h0m6-2h0m3-6h0m1-7h0m7 11h0m5-12h0m5 19h0m1-18h0m4 12h0m6-10h0m3-2h0m7 14h0m5 4h0m777-14h0m12 2h0m52 3h0m0 18h0m-135 9h0m-6-15h0m-706 9h0m-3 7h0m-8-15h0m-4 6h0m-2-7h0m-2 11h0m-18-13h0m-8 7h0m-2-3h0m-15 11h0m-12-10h0m-5 9h0m-4-9h0m-11 11h0m-23-6h0m-12-7h0m-9-1h0m-3 13h0m-8-14h0m-8 7h0m-9 4h0m-5-11h0m-7 18h0m-1-16h0m-8 11h0m-19 4h0m-40-16h0m-5 6h0m-18 8h0m-30-5h0m-1-6h0m-1-4h0m-15 4h0m-5 2h0m-20-1h0m-33 10h0m-41-3h0m-6-9h0m-15 11h0m-22 3h0m-5-1h0m-44-13h0m-52 6h0m-48 3h0m-21-1h0m-17 5h0m-4-12h0m8 29h0m12-13h0m16 10h0m6 6h0m7-13h0m3 15h0m12-3h0m0-8h0m2 4h0m7 7h0m7-4h0m12 2h0m2-15h0m39 7h0m11-3h0m5-4h0m18-3h0m0 8h0m32 12h0m0-19h0m1 9h0m6-2h0m0-5h0m10 13h0m5-1h0m3-13h0m23 5h0m10-4h0m8 9h0m1-4h0m9-5h0m18 11h0m17 4h0m7-1h0m9 0h0m2-5h0m8 7h0m22-9h0m10 7h0m1-11h0m9-3h0m17 13h0m2-9h0m4-1h0m3 11h0m10-11h0m1 8h0m24-5h0m7-1h0m1 8h0m2-10h0m10 12h0m3-13h0m7-3h0m5 7h0m9-5h0m1 7h0m11 7h0m4-7h0m6 6h0m1-17h0m18 14h0m5 3h0m3-4h0m1-6h0m9 6h0m4-8h0m10 2h0m7 6h0m3 5h0m5-1h0m8-9h0m3 11h0m10-14h0m9 1h0m7 13h0m2-5h0m3-11h0m0 6h0m19-2h0m3-1h0m7 10h0m1-4h0m821 3h0m25-13h0m4 21h0m-55 11h0m-25 3h0m-24-14h0m-749 0h0m-16 4h0m-5 2h0m-9 10h0m-39-3h0m-2-10h0m-4 8h0m0 4h0m-9-4h0m-1 3h0m-1-14h0m-9 1h0m-3 12h0m-7 2h0m-4-6h0m-5-8h0m-8-3h0m-5 16h0m-38-13h0m-15 8h0m-14-10h0m-14 14h0m-2-10h0m-5 11h0m-5-14h0m-4 11h0m-2-5h0m-4 9h0m-17-11h0m-9-5h0m-19 11h0m-2-13h0m-14 20h0m-18-13h0m-1 9h0m-11-14h0m-5 12h0m-3-5h0m-3 8h0m-8-15h0m-1 14h0m-12-4h0m-10 4h0m-1-7h0m-15-7h0m-9 13h0m-6-7h0m-5-4h0m-34-1h0m-6 10h0m-46-13h0m-4 18h0m-1-8h0m-9-4h0m-4 11h0m-25 1h0m-3-4h0m-27-14h0m-6 3h0m-6 13h0m-18 1h0m-4-6h0m-1 7h0m-5-15h0m-17 5h0m-13-7h0m39 20h0m5 17h0m11-5h0m17-6h0m11 12h0m10-19h0m1 19h0m15-4h0m3 1h0m3-5h0m25-10h0m15 3h0m2-3h0m12 19h0m5 0h0m8-2h0m8-7h0m22 8h0m2-10h0m5 0h0m16 5h0m11-5h0m3 3h0m32 3h0m8-15h0m4 10h0m2 8h0m3-8h0m0-10h0m23 4h0m11 13h0m18-1h0m2 3h0m20-11h0m14 0h0m20 12h0m12-16h0m9 3h0m7 8h0m9-4h0m4-4h0m3 2h0m2 9h0m1-16h0m30 3h0m9 13h0m8-1h0m3-7h0m6 0h0m1-6h0m11 8h0m2-4h0m5-6h0m8 10h0m1 5h0m10 1h0m8-17h0m8 18h0m33-8h0m2 2h0m5-6h0m857 2h0m9 2h0m17 1h0m-58 12h0m-13 4h0m-7 11h0m-817-10h0m-8-8h0m-3 13h0m-1-6h0m-10 10h0m-1-14h0m-3 13h0m-3-2h0m-7-14h0m-3 16h0m-7-4h0m-1-4h0m-1-5h0m-2 10h0m-15-3h0m-7-6h0m-14 0h0m-10 1h0m-14-2h0m-20 14h0m-3-8h0m-2 8h0m-2-3h0m-7-4h0m-9-7h0m-11 0h0m-3 5h0m-1 10h0m-5-8h0m-5 1h0m-4 6h0m-16 0h0m-14-2h0m-6-7h0m-24 5h0m-9-13h0m-17 4h0m-7 7h0m-8 6h0m-6-6h0m-17-10h0m-7-2h0m-1 12h0m-4 6h0m-4 0h0m-7-2h0m-7-15h0m-12 8h0m-24-8h0m-14 6h0m-19-2h0m-11 5h0m-3 9h0m-7-17h0m-4-2h0m-49 10h0m-8-9h0m-14 16h0m27 7h0m53 0h0m17 7h0m4-6h0m2 2h0m1-5h0m10 3h0m2 7h0m2-6h0m16 4h0m12 1h0m8-5h0m2 13h0m3-13h0m6-4h0m22 11h0m8-7h0m1 13h0m4-10h0m3 4h0m15-11h0m6 4h0m3 7h0m3-6h0m5-7h0m3 16h0m6-10h0m21 14h0m5-1h0m6-18h0m11 14h0m4 2h0m1-16h0m6 18h0m1-13h0m6 0h0m17 2h0m3 1h0m3-3h0m21 10h0m3-6h0m8 0h0m8-7h0m5 2h0m13-2h0m4-1h0m10 0h0m9 2h0m1 4h0m14 9h0m4-13h0m5 16h0m5-10h0m2 4h0m2-11h0m10-1h0m8 3h0m11 3h0m6 2h0m22 3h0m841 1h0m54-11h0m-13 34h0m-35-16h0m-883 6h0m-4-5h0m-4 10h0m-6-5h0m-31-2h0m-22 0h0m-4 15h0m-4-9h0m-13 0h0m0 9h0m-12-8h0m-1-9h0m-2 15h0m-6-7h0m-9 2h0m-4-8h0m-17 3h0m-24-7h0m-1 3h0m-8-3h0m-5 6h0m-7 8h0m-7-10h0m-10 6h0m-3 6h0m-1-12h0m-17 5h0m-3-6h0m-3 15h0m-17-8h0m-11-8h0m-12 5h0m-22 7h0m-2 4h0m-2-18h0m-10 7h0m85 24h0m3 5h0m3-12h0m5 8h0m3 1h0m4 5h0m3-16h0m7 6h0m20-4h0m2 13h0m2 1h0m5-18h0m10 7h0m6 7h0m1-5h0m5-1h0m11 5h0m25 3h0m4-4h0m0 5h0m3-6h0m14-2h0m11 9h0m8-13h0m3-1h0m7 15h0m4-18h0m1 12h0m1-14h0m-55 23h0m-2 4h0m-19 9h0m-19-2h0m-9-5h0m-4-7h0m-40 0h0m-1529 314h0m7-9h0m56-4h0m8-1h0m2 17h0m8-8h0m5 3h0m2-7h0m9 4h0m17-2h0m1 6h0m4 4h0m46-4h0m18-1h0m21 2h0m6 1h0m7 2h0m2-4h0m19 0h0m0-11h0m15 9h0m12 3h0m4-1h0m15 2h0m32 2h0m5-4h0m55 19h0m-1 5h0m-71-8h0m-4-10h0m-24 4h0m-34 8h0m-9 2h0m-13-4h0m-7-2h0m-6 6h0m-12-13h0m-5 0h0m-2 13h0m0-3h0m-11 0h0m-5 3h0m-6-8h0m-1 7h0m-14-4h0m-21 6h0m-3-15h0m-8 5h0m-5 7h0m-19 6h0m-6-13h0m-1 8h0m-23-6h0m-4 2h0m-17-2h0m-6 1h0m-5 0h0m-7 3h0m-14-1h0m-5 0h0m-1 7h0m-28-9h0m0 8h0m-12 16h0m38-2h0m6 4h0m13 2h0m26 0h0m1-4h0m19-12h0m9 7h0m9 6h0m14-4h0m8-7h0m3 2h0m3 13h0m1-5h0m9-6h0m12 1h0m9-3h0m0 7h0m0-10h0m3 4h0m2 9h0m4-7h0m2 9h0m6-4h0m1-11h0m2 15h0m0-5h0m2-6h0m5 10h0m6-10h0m5-1h0m2 4h0m7-7h0m1 8h0m15-4h0m1 7h0m13-12h0m6 8h0m3-9h0m2 10h0m5 1h0m2 3h0m18 4h0m12-6h0m5-3h0m10-4h0m5 12h0m20-12h0m8 1h0m8 2h0m5 3h0m5-9h0m5 16h0m3-13h0m9 3h0m3 5h0m19-7h0m10 14h0m15 0h0m22 0h0m31 19h0m-3-4h0m-5-3h0m-1 6h0m-5-4h0m-12 0h0m-6-5h0m-19 8h0m-4-1h0m-11-5h0m-5 6h0m-11-3h0m-11-9h0m-20 10h0m-9-10h0m0-4h0m-4 14h0m-2-12h0m-3 9h0m-3 3h0m-7 4h0m0-17h0m-26 13h0m-3 3h0m-12-9h0m-7-7h0m-26 16h0m0-3h0m-20-11h0m-10 2h0m-16 7h0m-6-8h0m-30 5h0m-7 9h0m0-12h0m-14 9h0m-21-4h0m-25-5h0m-13 4h0m-24 5h0m-40-3h0m-4-1h0m-17-2h0m23 10h0m2 4h0m97 16h0m2-6h0m5-5h0m3 5h0m29-5h0m7-9h0m18 13h0m1-13h0m5 14h0m58-12h0m13 18h0m9-7h0m1-12h0m6 19h0m3-13h0m3 12h0m10-16h0m4 13h0m5 1h0m15-11h0m14 7h0m18-5h0m6 7h0m7-13h0m5 5h0m3-3h0m11-2h0m13 0h0m4 7h0m11 1h0m24-7h0m2 4h0m8 12h0m4-10h0m9-7h0m1 12h0m3-4h0m4 8h0m16-12h0m17 5h0m20 0h0m4 8h0m6-2h0m73 22h0m-5-10h0m-4 8h0m-5-6h0m-3-5h0m-12 4h0m-10-6h0m-16 8h0m-9-2h0m-4 5h0m-13-11h0m-6 11h0m-3-12h0m-3 6h0m0 11h0m-4-4h0m-2-4h0m-4-2h0m-4 6h0m-2-11h0m0 13h0m-2-8h0m-6 8h0m-3-13h0m-5 8h0m-3-11h0m-5 2h0m-4 15h0m-12-8h0m-21 5h0m-7 3h0m-36-18h0m-7 6h0m-5-7h0m-17 15h0m-4-1h0m-1-12h0m-1 17h0m-4-9h0m-7-9h0m-26 1h0m-15 9h0m-4-2h0m-48 4h0m-11-4h0m-36-3h0m-26 2h0m-6 6h0m-1-10h0m-7-1h0m-6 10h0m-19-9h0m-21 6h0m35 13h0m12-2h0m5 12h0m0 5h0m3-16h0m71-1h0m12 7h0m27-5h0m2 16h0m0-7h0m6-9h0m9 1h0m10 3h0m32-3h0m2 5h0m0 3h0m28-10h0m23 7h0m10 0h0m7 11h0m6-5h0m33-11h0m19 11h0m5 3h0m0-14h0m14 8h0m9 3h0m2-15h0m4 1h0m1 15h0m18 0h0m8 1h0m3-11h0m4 0h0m5 14h0m2-19h0m10 10h0m2 6h0m26-15h0m2 12h0m1 4h0m3-10h0m12 6h0m1-5h0m8-5h0m12 13h0m0-16h0m2 13h0m7-4h0m0 4h0m12 3h0m6-10h0m3-4h0m11 13h0m8-5h0m8 3h0m15 5h0m5-7h0m5 5h0m2 3h0m6-7h0m33 6h0m26 11h0m-27 5h0m-10-4h0m-53-7h0m-11 9h0m-14-2h0m-9 6h0m-3 2h0m-4-18h0m-6 17h0m-6-8h0m-1-10h0m-1 13h0m-13-3h0m-18 0h0m-15-3h0m-9 7h0m-4 2h0m-9-13h0m-14 16h0m-14-8h0m-16-5h0m-24 1h0m-3-5h0m-5 2h0m-7-1h0m-3 1h0m-18-1h0m-5 3h0m-7 4h0m-2 6h0m-42-6h0m-6 4h0m0-11h0m-29 8h0m-11 5h0m-2-5h0m-1-11h0m-3 17h0m-15 1h0m-4-13h0m-15-4h0m-7 6h0m-3-7h0m-2 10h0m-33 3h0m-25-12h0m-12 5h0m-10-3h0m-23 13h0m139 8h0m15 5h0m11 2h0m17 1h0m15-5h0m4 9h0m14 3h0m1-14h0m39 15h0m14-14h0m6 11h0m4-15h0m7 17h0m25-9h0m0 5h0m13 3h0m20-17h0m25 1h0m12 10h0m5 1h0m31-5h0m8 9h0m10-11h0m4 9h0m7 4h0m5-7h0m4-1h0m5 6h0m7-5h0m15-6h0m3 9h0m5-8h0m12 3h0m1-8h0m7 7h0m4 0h0m1 6h0m8-7h0m4 5h0m3-8h0m3 5h0m3 4h0m2 5h0m3-18h0m4 12h0m0 4h0m3-12h0m0 9h0m12-13h0m5 4h0m3 10h0m5-6h0m12-4h0m14 5h0m11 8h0m34 20h0m-19-10h0m-13 9h0m-2-15h0m-3 9h0m-5-10h0m-14 10h0m-8-8h0m-4 0h0m-9 9h0m-2-11h0m-7 14h0m-1-10h0m-9 8h0m-11-5h0m-8-7h0m0 14h0m-9-6h0m-1-8h0m-5 2h0m-5 4h0m-11-3h0m0-4h0m-11 9h0m-58 5h0m0-6h0m-4-5h0m-7 13h0m-1-12h0m-32-4h0m-15 19h0m-18-8h0m-35-5h0m-44 8h0m-1-8h0m-79-3h0m-10 3h0m102 26h0m10 1h0m21-11h0m3 14h0m10 1h0m1-16h0m4 10h0m11-10h0m21 13h0m24-2h0m12 6h0m7-11h0m1-7h0m5 3h0m47 4h0m11-6h0m1 2h0m5 6h0m8 6h0m7-10h0m19 2h0m4 12h0m10-13h0m8 5h0m18-5h0m7 3h0m17-8h0m4 14h0m0-9h0m10-4h0m15 16h0m2-12h0m23-6h0m15 5h0m6 8h0m17 13h0m-6 8h0m-8-10h0m-1 5h0m-1 7h0m-9-5h0m-5-3h0m-12-1h0m-1-6h0m-17 8h0m-12 6h0m-10-14h0m-13 5h0m-6 2h0m-16-5h0m-26 2h0m-99 15h0m-2-17h0m-55 3h0m-1 8h0m-24-12h0m-6-1h0m-22 6h0m-3-4h0m58 20h0m28 10h0m10-13h0m12 14h0m4-11h0m9 10h0m70-10h0m46 1h0m42 0h0m-103 21h0m1522 28h0m17-2h0m40 6h0m213 3h0m22-10h0m13 5h0m-60 15h0m-7-7h0m-33-2h0m-7 0h0m-15 9h0m-62-3h0m-136-4h0m-1 6h0m3 18h0m13-4h0m20 12h0m37 1h0m154-13h0"/>
<path stroke="#b73779" d="M1639 434h0m0 4h0m-10-15h0m-56 7h0m-20 0h0m-9-1h0m-1 9h0m-4-13h0m-15 10h0m-11 4h0m-1-5h0m-9 1h0m-2-3h0m-1 7h0m-2-10h0m-7 5h0m-5-2h0m-38-10h0m-3 1h0m-125 36h0m44-12h0m5 6h0m6-1h0m5 3h0m6-3h0m3-2h0m5 5h0m9-5h0m18-4h0m4 4h0m7 0h0m2-7h0m22 6h0m3-5h0m2 10h0m7-10h0m17 2h0m10 5h0m4 1h0m6-7h0m15 2h0m8 9h0m4-8h0m8 2h0m1-5h0m5-1h0m8 5h0m6-4h0m17 6h0m13 0h0m7 1h0m5-9h0m5 12h0m6-5h0m25 9h0m1-9h0m9-5h0m184 11h0m-60 10h0m-6 4h0m0 5h0m-21-2h0m-12 3h0m-14-14h0m-9 14h0m-5-2h0m-5 1h0m-1-6h0m-1-5h0m0 16h0m-24-11h0m-14-7h0m-4 8h0m-1-7h0m-2 15h0m-7-9h0m-4-9h0m-2 3h0m-6 13h0m-17-1h0m-3 4h0m-3-17h0m-2 16h0m0-13h0m-10 12h0m-4-12h0m-1 10h0m-3 2h0m-3 0h0m-5-2h0m-1-10h0m-3 5h0m-4 5h0m-2-4h0m-3-11h0m-4 13h0m-1 3h0m-7-6h0m-2-10h0m-21 6h0m-4 8h0m-1-5h0m-6 8h0m-3 0h0m-1-7h0m-7 3h0m-2-3h0m-5 10h0m-14-9h0m-7 2h0m-7-2h0m-3 5h0m-3-13h0m-5-2h0m-13 3h0m0 12h0m-18 2h0m-2-3h0m-7-15h0m-8 15h0m-3 3h0m-1-5h0m-2-8h0m-2 14h0m-14-2h0m-1-17h0m-8 15h0m-3-4h0m-13-11h0m-8 2h0m-4 17h0m-2-6h0m-3 4h0m-13-7h0m-5-4h0m-15-3h0m-90 36h0m32-4h0m4-8h0m9 10h0m5-7h0m3 2h0m9-9h0m4-3h0m3 17h0m19 1h0m9-10h0m1-7h0m2 7h0m5 1h0m5-3h0m3 12h0m9-4h0m18 1h0m14-10h0m19 9h0m10-12h0m1 17h0m4-5h0m4-4h0m2-7h0m8 4h0m12-7h0m0 14h0m12 0h0m14 2h0m10-11h0m5 7h0m17-6h0m10-5h0m4 3h0m7-3h0m1 15h0m2-13h0m3 4h0m1-4h0m1 15h0m5-17h0m1 7h0m2 11h0m5-8h0m1 4h0m15-5h0m10 9h0m5-4h0m7-7h0m3 5h0m0-4h0m11 0h0m1 4h0m4-1h0m3-6h0m14 1h0m9 5h0m3 7h0m0-16h0m0 4h0m6 12h0m3-18h0m2 8h0m7-7h0m1 12h0m3-7h0m6 11h0m1-6h0m7-8h0m4 15h0m6-6h0m2 3h0m3-12h0m22 14h0m48-7h0m46 8h0m3 1h0m1-7h0m3-1h0m21 7h0m4-3h0m28 3h0m8-5h0m9 1h0m19 3h0m14-1h0m9 1h0m19-11h0m23 12h0m37 0h0m24 15h0m0-10h0m-10 3h0m-11 11h0m-3-5h0m-1 3h0m-3-14h0m-10 4h0m-2 3h0m-8 7h0m-7-8h0m-2-7h0m-12 4h0m0 6h0m-11-7h0m-9-3h0m-10 12h0m-1-4h0m0-7h0m-9-1h0m0 17h0m-3 2h0m-1-15h0m-8 2h0m0 10h0m-8-15h0m-4 8h0m-11-8h0m0 14h0m-8-15h0m-8 7h0m-1-4h0m-3 5h0m-14-1h0m-9-4h0m-2 14h0m-1-17h0m-8 4h0m-1 6h0m-5-4h0m-1 10h0m-13-10h0m-4 3h0m-1 9h0m-4-5h0m-6-7h0m-2 12h0m-2-5h0m-13 0h0m-3 3h0m-3-15h0m-2 7h0m-7 3h0m-4 4h0m-9-1h0m-8-12h0m-6 5h0m-1 6h0m-18-1h0m-11-5h0m-2 6h0m-1-13h0m-1 11h0m-21-9h0m-8 1h0m-16 9h0m0-8h0m-5 4h0m-1 9h0m-11-4h0m-7 1h0m-3-10h0m-3 6h0m-2-8h0m-5 4h0m-19-6h0m-8 1h0m-1 7h0m-2 5h0m-5-9h0m-5 11h0m-2-12h0m0 9h0m-6-6h0m-4-7h0m-1 19h0m-6-2h0m-2-14h0m0 3h0m-5-4h0m-2 16h0m-1-8h0m-12-1h0m-2 2h0m-47-3h0m-2 10h0m-8-6h0m-12-9h0m-1 11h0m-9-13h0m-6 4h0m-8 10h0m-2-8h0m-1 11h0m-7-11h0m-5 13h0m-6-18h0m-2 9h0m-6 8h0m-2-3h0m-1-11h0m-2 14h0m0-5h0m-6-5h0m-5 11h0m-3-15h0m-7 5h0m-24 0h0m-2-4h0m-10-2h0m-5 3h0m-6-2h0m-1-4h0m-9 0h0m-3 0h0m-2 18h0m-2-6h0m-7 7h0m-15-4h0m-18 1h0m-3 1h0m-2-10h0m-8-3h0m-1 4h0m-3-1h0m0 10h0m-10-2h0m-12-1h0m-4 0h0m-1-11h0m-2 16h0m-3-4h0m-5 3h0m-17-1h0m-9 17h0m10-1h0m3 3h0m6 2h0m13-8h0m6-4h0m15 1h0m1 6h0m2 4h0m4-18h0m36 12h0m3-6h0m3 11h0m8 3h0m17-13h0m0 13h0m4-17h0m4 8h0m1-4h0m0-3h0m5 13h0m8-12h0m2 12h0m9-12h0m3 9h0m15 2h0m3-4h0m2-9h0m5 9h0m4 2h0m7-2h0m2 3h0m4 1h0m1-11h0m3 15h0m14-8h0m4-2h0m7 10h0m10-7h0m8-8h0m0-3h0m1 17h0m4-9h0m5-9h0m6 18h0m1-7h0m6 3h0m1-12h0m5 4h0m4 6h0m4-5h0m7-3h0m1-5h0m5 6h0m2 7h0m3-6h0m5 6h0m1-4h0m10 0h0m3-8h0m1 18h0m19-5h0m3-6h0m6 5h0m0-12h0m2 14h0m1-3h0m4 0h0m3 3h0m7-14h0m13 4h0m4 15h0m1-10h0m7 3h0m2 2h0m2-3h0m0-11h0m8 4h0m5-4h0m2 6h0m0 5h0m1-9h0m15 7h0m8 4h0m10-7h0m13 1h0m4 0h0m1 4h0m22-2h0m2-8h0m1 18h0m0-10h0m4 9h0m1-12h0m6-4h0m4 13h0m6-5h0m4-10h0m10 3h0m7 1h0m8 12h0m1-6h0m4-5h0m0 10h0m3-7h0m3-3h0m2-5h0m5 16h0m4-16h0m4 3h0m1 12h0m3-15h0m3 6h0m7-2h0m4 10h0m2-6h0m6-4h0m8 1h0m1-5h0m4 3h0m6 6h0m8-5h0m4 15h0m2-12h0m5-6h0m9-2h0m3 13h0m5 1h0m5-7h0m20 0h0m7-3h0m7 0h0m27-2h0m6 11h0m4 0h0m7-3h0m3 6h0m3 3h0m12-3h0m1-11h0m4-2h0m2 14h0m4-13h0m1 14h0m1-4h0m9 0h0m2-11h0m8 4h0m5 1h0m4-3h0m0 5h0m10 6h0m4-8h0m2 4h0m4-3h0m2 2h0m5-1h0m1-5h0m2 2h0m2-7h0m7 16h0m22-14h0m7 7h0m2 7h0m9-2h0m4-3h0m19 7h0m11-7h0m16 24h0m-6-3h0m-10-6h0m-3 10h0m-4-14h0m0 7h0m-7-5h0m-7 7h0m-1-10h0m-1 12h0m-4-3h0m-5-2h0m-1-7h0m-7 2h0m0 5h0m-4 9h0m-2-7h0m-6-5h0m0 15h0m-1-4h0m-6-8h0m-2 11h0m-2-13h0m-7-1h0m-5 1h0m-5 4h0m-1 3h0m-1-11h0m-10 2h0m-11 10h0m-2-4h0m-2-9h0m-8 3h0m-8-2h0m-3 9h0m-2-10h0m-2 15h0m-7-3h0m-2 3h0m-4-3h0m-2 5h0m-6-10h0m-25 10h0m-2-16h0m-3 0h0m-2 17h0m-5-1h0m-4-4h0m-6 5h0m-2-12h0m-8 0h0m0 10h0m-4-9h0m-3 12h0m0-15h0m-4-2h0m-4 0h0m-6 3h0m-1 14h0m0-17h0m-1 14h0m-10-3h0m-4-10h0m-3 1h0m-1 8h0m-6-2h0m-4 2h0m-3 0h0m-3-6h0m0 13h0m-2-18h0m-7-1h0m-2 5h0m-6 8h0m-3 4h0m-9-5h0m-5-10h0m-1 11h0m-7-13h0m-1 15h0m-6 4h0m-6-16h0m-2 10h0m-4 2h0m-15-11h0m-1 15h0m-3-5h0m-9-5h0m-2 8h0m-1-12h0m-4-1h0m-3 1h0m-5 1h0m-4 8h0m-1-4h0m-2-7h0m-5-1h0m-3 11h0m-3-9h0m-8 4h0m-4-1h0m-2-3h0m-5 12h0m-9-3h0m-1-13h0m-2 10h0m0 3h0m-4-9h0m-5 5h0m-3 9h0m-2-8h0m0 4h0m-5 5h0m-1-8h0m-2-11h0m-4 1h0m-11 10h0m-4-12h0m-5 11h0m-5 1h0m-2-7h0m-3 12h0m-1-5h0m-7-1h0m-10-1h0m-6 1h0m-7-4h0m-4 1h0m-3-7h0m-1 18h0m-16-16h0m-3 2h0m-5 5h0m-3 7h0m-5-6h0m-3 4h0m-4-11h0m-3 15h0m-2-8h0m-2 9h0m-3-6h0m-11-10h0m-5 8h0m-2 4h0m-7 1h0m-3-1h0m-2-16h0m-4 15h0m-1-11h0m-9 14h0m-6-5h0m-1 6h0m-8-5h0m-19 2h0m-1-6h0m-2-7h0m-5 8h0m-8-9h0m-2 10h0m0 6h0m0-10h0m-14 10h0m-3-9h0m-3-2h0m-6 3h0m-1-9h0m-9 3h0m-5 15h0m-5-11h0m-9 0h0m-7 7h0m0 3h0m-3-13h0m-4 3h0m-7 6h0m-2-10h0m-2-3h0m-8 16h0m-5-10h0m-17-2h0m0 10h0m-5-8h0m-1 13h0m0-18h0m-2 2h0m-12 4h0m-8 11h0m0-14h0m0 9h0m-10 5h0m-3-15h0m0 12h0m-2-3h0m-3-9h0m-9 2h0m-6 9h0m0 5h0m-6-7h0m-8-3h0m-5 1h0m-3 8h0m-5-2h0m-4 2h0m-3-13h0m-6 6h0m-2-11h0m0 4h0m-1 10h0m-10 2h0m-7-5h0m-1 5h0m-38-11h0m-40 32h0m36-14h0m20 10h0m8 2h0m2-2h0m5-11h0m9 5h0m9 9h0m1-10h0m6-4h0m0 6h0m0 6h0m3-10h0m3 7h0m10-1h0m10 0h0m1-10h0m4 16h0m8 1h0m13 0h0m2-17h0m2 6h0m2-3h0m6 9h0m13 3h0m2-5h0m4 4h0m3-14h0m5 2h0m5 11h0m3 2h0m3 3h0m9-14h0m0 11h0m9-10h0m2-4h0m3 13h0m3-3h0m2-8h0m11 5h0m2 5h0m9-8h0m7-5h0m5 8h0m2-8h0m7 16h0m16 2h0m0-5h0m2-10h0m1-4h0m2 9h0m3-9h0m3 11h0m3-5h0m9 13h0m4 0h0m7-10h0m0 3h0m13-7h0m13 1h0m1 14h0m0-19h0m10 19h0m1-4h0m1-6h0m6-10h0m2 14h0m4-9h0m3 8h0m1-6h0m2 13h0m1-8h0m3-3h0m1-5h0m21-4h0m1 3h0m2 4h0m6 7h0m9-7h0m0 12h0m11-8h0m2 9h0m1-11h0m2-6h0m21 1h0m10 0h0m5 1h0m1 7h0m5-12h0m1 3h0m8 13h0m2-8h0m4 1h0m2 10h0m3 0h0m7 1h0m7-19h0m15 4h0m10 4h0m3-2h0m7-4h0m0 7h0m1 7h0m4-9h0m3 12h0m1-9h0m1-8h0m7-3h0m5 7h0m4-5h0m2 6h0m2-6h0m10 5h0m3-6h0m5 9h0m5-5h0m1 8h0m6-9h0m7 11h0m11-2h0m9 3h0m3 4h0m10-6h0m2-3h0m2-5h0m3 14h0m7-15h0m15 10h0m1-13h0m1 17h0m9-16h0m3 12h0m10 3h0m1-16h0m4 10h0m3-6h0m4 0h0m3 7h0m5-12h0m2 3h0m0 4h0m10 3h0m6-1h0m0-6h0m8 6h0m3 6h0m8-10h0m10-4h0m2 17h0m2-14h0m1 13h0m3-4h0m6-4h0m0 4h0m6-1h0m6-6h0m1-6h0m2 11h0m3-5h0m1 6h0m1 6h0m7-6h0m4-11h0m3 12h0m4-6h0m2-3h0m4 3h0m4-5h0m9 0h0m1 7h0m4 8h0m2-12h0m9 1h0m8-1h0m6 12h0m1-3h0m0-7h0m6 2h0m0-6h0m2 16h0m4-17h0m6 10h0m6 1h0m2-5h0m3-1h0m6 6h0m1 4h0m8-3h0m1-3h0m9-8h0m15-2h0m3 16h0m2-2h0m1-11h0m6 6h0m7-8h0m8 1h0m5 1h0m1-2h0m8 5h0m4 3h0m6-6h0m1 6h0m4-7h0m1 7h0m9-7h0m1 14h0m1-7h0m4-1h0m3 9h0m20 19h0m-4 1h0m-3-14h0m-7 8h0m-6 7h0m-6-18h0m-11 0h0m-2 13h0m-2-7h0m-3 11h0m-3-12h0m0 11h0m-6-10h0m-3 5h0m-11-6h0m-5 9h0m-5 1h0m-10-10h0m-2-5h0m-11 9h0m-5 0h0m-18-6h0m-6 7h0m-2-12h0m-6 14h0m-3-12h0m-1 7h0m-1-4h0m-3 4h0m-7 4h0m-7 5h0m-1-11h0m-5 9h0m-9-7h0m-6 7h0m-9 3h0m-12-2h0m-6-13h0m-5 15h0m-3-4h0m-4-15h0m-2 15h0m-3 5h0m-9-13h0m-6 3h0m-1-5h0m-4-2h0m0 16h0m-6-16h0m-1 2h0m-3 10h0m-14 2h0m-5-10h0m-4-2h0m-3-4h0m-10 1h0m-8 2h0m-5 5h0m-3-8h0m0 10h0m-4 9h0m-12-19h0m-1 7h0m-4 10h0m-6-7h0m-2-10h0m-2 17h0m-1-5h0m-4-3h0m-7-9h0m-1 18h0m-10-16h0m-6 15h0m-1-16h0m-3 11h0m-1-12h0m-10 15h0m-9-7h0m-7 3h0m-13 2h0m-1 6h0m-16-3h0m-3-8h0m-3-4h0m-8 5h0m-7 2h0m-3 5h0m-3-9h0m-2 9h0m-6-11h0m-3 14h0m0-13h0m-9 7h0m-2 5h0m-13-3h0m-9-5h0m-12 2h0m0-6h0m-5 5h0m-7-7h0m-4 13h0m-12-12h0m-2 4h0m-2 7h0m-8-10h0m-4 10h0m-2 2h0m-11-3h0m-1-7h0m-2-4h0m-1 12h0m-3-15h0m-8 12h0m-17-9h0m-8 9h0m-4-11h0m-4 3h0m-1 7h0m-7-5h0m-3 5h0m-7-12h0m-1 11h0m-5 3h0m-9-3h0m-19 2h0m-9-6h0m-4 9h0m-3 3h0m-6-14h0m-9 8h0m-10-13h0m-4 0h0m-6 5h0m-2 13h0m-9-6h0m-4-2h0m-5 6h0m-4-13h0m-1 13h0m-3-13h0m-7 4h0m-15-2h0m-1 5h0m-16-8h0m-5 16h0m-1-18h0m-9 3h0m-4 8h0m-8 4h0m-9-12h0m-5 10h0m-1-10h0m-11 4h0m-3 11h0m-10-14h0m-3 11h0m-4 1h0m-9-11h0m-5-5h0m0 9h0m-3 2h0m-9-9h0m-4 7h0m-8-5h0m-3 3h0m-8 0h0m-11 6h0m-12 2h0m0-10h0m-14 4h0m-2 6h0m-4-12h0m-9 7h0m-10 1h0m-7 2h0m-7-5h0m-7 9h0m-6-5h0m-1-6h0m-9 7h0m-4 3h0m-3-1h0m-7-1h0m-17-7h0m-1 7h0m-35 15h0m14 3h0m1-5h0m14 11h0m10-11h0m17-4h0m2-3h0m12 13h0m1-6h0m2-4h0m10 14h0m12-17h0m2 11h0m5-7h0m3-5h0m1 8h0m3 10h0m9-9h0m5 8h0m0-12h0m3 4h0m0 11h0m3-6h0m3-8h0m6 3h0m4-1h0m11 10h0m5-3h0m11 2h0m0-16h0m9 16h0m2-12h0m3 0h0m4-2h0m7-3h0m0 8h0m3 9h0m3-14h0m5 7h0m2 7h0m3-16h0m5 15h0m4-6h0m1 5h0m8-11h0m9 4h0m1 8h0m8-15h0m4 9h0m1-4h0m8 2h0m2 11h0m0-3h0m7-10h0m3 13h0m5-15h0m1 9h0m3-1h0m10-7h0m4 10h0m3-10h0m9 1h0m5-3h0m2 15h0m5-4h0m5-13h0m6 11h0m2 5h0m1-3h0m11-12h0m8 2h0m2 12h0m2-7h0m0-7h0m4 15h0m3 2h0m5-2h0m3-8h0m18-7h0m5 18h0m4-15h0m2 6h0m1 8h0m6-7h0m1-5h0m4-7h0m10 7h0m8-2h0m3 7h0m2-11h0m4 15h0m10 1h0m1-9h0m5 10h0m4-1h0m21-7h0m15-8h0m10 3h0m4 15h0m7-12h0m5-7h0m0 5h0m2 9h0m11 4h0m6-6h0m0-3h0m4 5h0m2 3h0m14-3h0m6-13h0m0 8h0m4-10h0m12 7h0m15-1h0m5-6h0m2 4h0m4 10h0m8-2h0m13-7h0m2 3h0m3-4h0m10 11h0m0 4h0m9-8h0m0 8h0m2-10h0m1-9h0m5 15h0m5-9h0m7 8h0m3-3h0m5-2h0m13 10h0m1-15h0m20-1h0m3-2h0m1 3h0m1 7h0m2 6h0m2-11h0m1-3h0m1 15h0m2-11h0m3 0h0m2-4h0m9 5h0m29-8h0m3 8h0m5 7h0m7-5h0m11 0h0m13-7h0m5 9h0m2-9h0m3 16h0m7-14h0m1 6h0m6 0h0m2-11h0m1 18h0m4-5h0m1-5h0m10 0h0m3 8h0m5-1h0m1-5h0m8-8h0m3-2h0m1 19h0m14-8h0m3-2h0m8 4h0m0-8h0m9 0h0m3 14h0m4-3h0m1-11h0m6 7h0m0-7h0m7 1h0m5 6h0m0 8h0m5-8h0m2-6h0m18 9h0m3-2h0m24 0h0m12-1h0m7-8h0m2 7h0m9-11h0m2 18h0m10 1h0m3-3h0m2-12h0m10 12h0m8 1h0m1-16h0m4 17h0m8-12h0m2 12h0m4-11h0m2-2h0m8 4h0m5 5h0m0 12h0m-15 1h0m-4 12h0m-3-2h0m-5 2h0m-4-14h0m-1 5h0m-5-9h0m-9 4h0m-2 7h0m0-12h0m-12 6h0m-12 14h0m-6-8h0m-9-4h0m-2 6h0m-11-11h0m-4 12h0m-1 5h0m-10-8h0m-8-5h0m-7 1h0m-7-5h0m-6 12h0m-4 0h0m0 5h0m-1-12h0m-9-2h0m-8 5h0m-3-4h0m-1-4h0m-1 8h0m-3-1h0m-11 8h0m0-9h0m-9 3h0m-11-7h0m-11 2h0m-8-4h0m-5 4h0m-3 7h0m-7-8h0m-1 8h0m-2-3h0m-9 6h0m-2-3h0m-5-12h0m-3 4h0m-7 4h0m-4-1h0m-3 8h0m-3 1h0m-2-12h0m-3 13h0m-1-6h0m-8 0h0m-6-12h0m-7 4h0m-10 14h0m-11-8h0m-6-10h0m-1 15h0m-3-6h0m-2 7h0m-4-5h0m-5 5h0m-11-6h0m-4 5h0m-3-13h0m-7 2h0m-3-2h0m-1 14h0m-5-10h0m-2 8h0m-9 1h0m-6 1h0m-1-14h0m-2-2h0m-8 14h0m-5 0h0m-4-11h0m-4 4h0m-4 11h0m-2-7h0m-9 6h0m-2-4h0m-2 4h0m-3-8h0m-2-6h0m-1 8h0m-2 3h0m-3-10h0m-6 3h0m0-6h0m-2 15h0m-8-1h0m-5-16h0m-1 7h0m-1-4h0m-5-1h0m-2 9h0m-1-10h0m0 17h0m-1-4h0m-9-2h0m-3-4h0m-5 11h0m-8-1h0m-4-4h0m-1-11h0m-3 9h0m-2 3h0m-1-7h0m-1 3h0m-1 8h0m-8-11h0m-1 11h0m-2-13h0m-3-3h0m0 5h0m-5-5h0m-1 9h0m-2 7h0m-4-1h0m0-17h0m-6 14h0m-10-14h0m0 13h0m-2-4h0m-4-6h0m-16 0h0m-3-2h0m-10 6h0m-1 6h0m-14-10h0m-4 9h0m-4 4h0m-2 3h0m-9 0h0m-6-16h0m-1 13h0m0-5h0m-2-11h0m-8 13h0m-1-13h0m-8 0h0m-14 14h0m-9-12h0m-8 17h0m-2-7h0m-1-9h0m-9-3h0m-2 15h0m-2-15h0m-3 11h0m0 7h0m-5-8h0m-1-7h0m0 15h0m-10-12h0m0 7h0m-2-12h0m0 15h0m-1 3h0m-7-8h0m-9 6h0m0-14h0m-5-3h0m-4 12h0m-3-8h0m-3 2h0m-2 10h0m-2-10h0m-1-4h0m-1 6h0m-4-6h0m-1 9h0m-3-8h0m-3 10h0m-1-6h0m-2 4h0m-4-4h0m-7 6h0m0-8h0m-4 14h0m-3-17h0m-4 7h0m-2-8h0m-2 16h0m0-11h0m-7 0h0m-4 8h0m-2-8h0m-14 9h0m-8-9h0m0-4h0m-6 11h0m-3-9h0m-1 15h0m-5-12h0m-4 2h0m-2 6h0m-12-12h0m-2 12h0m-12 0h0m0-12h0m-9 14h0m-4-4h0m-3-12h0m-6 8h0m-2-10h0m-6 16h0m-7-5h0m-1-7h0m-20 5h0m-3 8h0m-6-11h0m0 5h0m-5 6h0m0-15h0m-8 4h0m-1 10h0m-4-16h0m-9 5h0m-11 4h0m-6 2h0m-4-8h0m-1 15h0m-3 2h0m-3-18h0m-1 8h0m-2-10h0m-6 10h0m-5 5h0m-5-8h0m-31-4h0m-4 13h0m-8-6h0m-2-4h0m0 12h0m-22-5h0m-1 5h0m-21 16h0m1 5h0m6-9h0m5 8h0m7 2h0m6-15h0m3 14h0m5-8h0m3-9h0m10 1h0m3 7h0m4 4h0m0-10h0m2 12h0m12-15h0m14 12h0m3 2h0m1-15h0m9 18h0m9-12h0m8 7h0m3 5h0m1-10h0m5 11h0m3-11h0m3 6h0m20 0h0m11 6h0m4-17h0m2 8h0m2-4h0m7 6h0m31 1h0m1-9h0m1 6h0m4 5h0m2-5h0m5-10h0m6 3h0m1 5h0m8-7h0m6 17h0m5-13h0m5-6h0m4 12h0m7-3h0m11-6h0m3 15h0m8-14h0m6-1h0m3 3h0m2 7h0m8 3h0m1-13h0m1 8h0m5-8h0m7 6h0m1-4h0m2 12h0m5-9h0m0-4h0m1 14h0m11-16h0m4-2h0m6 10h0m10-7h0m3 12h0m16 4h0m1-16h0m7 7h0m1-8h0m6 9h0m5 5h0m2-2h0m2-14h0m3 16h0m4 0h0m5-10h0m1 11h0m0-15h0m12-1h0m2 8h0m0 5h0m4-5h0m8 0h0m2 3h0m2-9h0m2 13h0m2-3h0m0-5h0m8-2h0m1 13h0m0-18h0m5 5h0m7 12h0m2-8h0m6-6h0m4 11h0m1-4h0m7 4h0m10-7h0m4 9h0m13 1h0m1-16h0m7-1h0m11 3h0m9 10h0m8-2h0m3 2h0m1-6h0m5 9h0m2-13h0m9 12h0m2-5h0m1-6h0m7-2h0m3 10h0m7-3h0m2-2h0m8-1h0m5 2h0m1 4h0m5-2h0m8 4h0m3-1h0m2-4h0m3 8h0m7 0h0m6 1h0m2-10h0m3 4h0m13-4h0m4 10h0m1-8h0m23-3h0m5 12h0m3-12h0m1 11h0m11-19h0m1 13h0m11-5h0m3-6h0m3 8h0m9 4h0m1-11h0m5 9h0m2-10h0m5 16h0m2-4h0m2-13h0m3 12h0m2-10h0m7 4h0m2 6h0m5-5h0m6 4h0m9 4h0m0-5h0m11-7h0m6 7h0m12 8h0m1-17h0m7-1h0m2 9h0m6 6h0m5-9h0m14-1h0m6 6h0m0-9h0m2 14h0m8-5h0m0-9h0m6 17h0m3-10h0m3-3h0m2 7h0m2-2h0m23-3h0m4 8h0m4-6h0m2-5h0m2-4h0m5 8h0m13 10h0m14-15h0m7-1h0m3 11h0m3-5h0m4 2h0m12-11h0m2 15h0m3 3h0m5-7h0m3-3h0m3-8h0m1 15h0m0-11h0m2 15h0m3-19h0m2 11h0m1-9h0m5 12h0m6-8h0m2 9h0m2-13h0m8 13h0m5-8h0m5-2h0m1 13h0m4-6h0m1-7h0m3 10h0m0-9h0m4 4h0m7 5h0m3-9h0m4-2h0m14 9h0m1-5h0m1-5h0m2 15h0m8-2h0m0-5h0m5 7h0m3-5h0m18 4h0m13-16h0m4 1h0m3 5h0m3 4h0m15 11h0m-10 5h0m-11 3h0m-4 1h0m-4 2h0m-2-12h0m-4 11h0m-2-12h0m-5 0h0m-7 11h0m-32-9h0m-11 16h0m-6-9h0m-3-5h0m-5 6h0m0-3h0m-4 10h0m-3-10h0m-4-2h0m-8 2h0m-2-5h0m-6 6h0m-8 7h0m0-16h0m-2 10h0m-7-6h0m-3 8h0m-2-4h0m-4 2h0m-2-2h0m-3 5h0m-9-3h0m-10-7h0m-1 16h0m-3-2h0m-22-13h0m0 5h0m-1 7h0m-2-3h0m-8 3h0m-13-11h0m-5 12h0m-3-12h0m-4 1h0m-1 11h0m-6 0h0m0-7h0m-16-5h0m-1-4h0m-9 19h0m0-10h0m-16-2h0m-4 6h0m-6-2h0m-5-7h0m-7 8h0m-5-6h0m-4-7h0m-1 5h0m-3 13h0m-11-11h0m-5 3h0m-2-3h0m-5 3h0m-2 6h0m-1-12h0m-3-3h0m0 6h0m-5-3h0m0-4h0m-1 17h0m-10-10h0m-29 1h0m-8-5h0m-5 3h0m-1 11h0m-15 0h0m-3-2h0m-5-5h0m0-9h0m-6 7h0m-1 5h0m-11 5h0m-3-5h0m-11-4h0m-6-8h0m-2 9h0m-2-6h0m-6 15h0m-3-16h0m-7 0h0m-3-2h0m-1 13h0m-7 5h0m-5-4h0m-6-1h0m-1 5h0m-4-13h0m-7-1h0m-5 11h0m-9-3h0m-3-10h0m-7 6h0m-3-5h0m-1-3h0m-4 18h0m-5-5h0m-8-4h0m-7 0h0m-6 10h0m-1-7h0m0-3h0m-6 2h0m-11 5h0m-15-15h0m-1 9h0m-12-5h0m-13 10h0m-2-3h0m-2-9h0m-2 16h0m-6-15h0m-6 3h0m-7-1h0m0 9h0m-4-10h0m-5 7h0m-8 6h0m-10 0h0m-1-14h0m-3 4h0m-9-4h0m-6 4h0m-7 6h0m-1-7h0m-21-1h0m-4-2h0m-4 9h0m-13 6h0m-3-6h0m-2-11h0m-5 1h0m-7 3h0m0 12h0m-5-10h0m-12-4h0m-6 10h0m-1-10h0m-2-3h0m-4 10h0m-2-10h0m-4 0h0m-5 8h0m-7 3h0m-3-5h0m-5 2h0m-7-3h0m-1 11h0m-7-15h0m0 6h0m-3 11h0m-3-16h0m-1 5h0m-6-7h0m-2 13h0m-2-12h0m-9 7h0m-1-7h0m-3 15h0m-1-9h0m-7-8h0m-2 18h0m-3-9h0m-9 10h0m-12-6h0m0-3h0m-2 7h0m-5-17h0m-1 18h0m-3-12h0m-3-4h0m0 7h0m-12-4h0m-3 6h0m-2-8h0m-9 1h0m-5 11h0m-6-14h0m-5 5h0m-3 12h0m-1-5h0m-7 1h0m-10 4h0m-7-11h0m-1-3h0m-5 10h0m-3-2h0m-4 1h0m-1-13h0m-11 10h0m-1-4h0m-1 7h0m-2-3h0m-9-10h0m-3 16h0m-1-5h0m-4 2h0m-7-3h0m-7-4h0m-11-6h0m-15 15h0m-8-2h0m-3 4h0m-4 0h0m-5 1h0m-3-9h0m-6-4h0m-4 3h0m-3 4h0m-4-7h0m-6-4h0m-1 5h0m-2-6h0m-14 3h0m-14 33h0m11-10h0m1-4h0m2 6h0m3 10h0m4-2h0m6-12h0m4 9h0m3-5h0m8-1h0m5-5h0m1 16h0m5-4h0m3 5h0m3-9h0m0-8h0m12 5h0m2 4h0m5 3h0m3-9h0m3-3h0m5 1h0m4 10h0m3 6h0m6-13h0m5 7h0m5-9h0m5 5h0m2-7h0m4 14h0m6-1h0m11-14h0m1 14h0m13-9h0m3 5h0m0 6h0m14-13h0m3-3h0m10 13h0m6-11h0m2 9h0m2 4h0m2-8h0m2 9h0m9-4h0m6 0h0m5-2h0m1-10h0m0 17h0m5-2h0m3-10h0m19-6h0m5 12h0m1-7h0m3 11h0m2-12h0m4 11h0m6-7h0m5 3h0m7-10h0m1 14h0m5-14h0m16 3h0m2-4h0m2 19h0m5-3h0m6-9h0m5 4h0m4 1h0m3-3h0m2 3h0m1-13h0m5 6h0m6 14h0m3-17h0m6 4h0m2 12h0m2-2h0m6 1h0m1-12h0m3 13h0m5-3h0m1-10h0m3 13h0m7-15h0m5 4h0m1 3h0m4 2h0m7 6h0m6-9h0m21-5h0m0 7h0m4-11h0m2 3h0m2 4h0m1 11h0m11-4h0m7-4h0m1 4h0m1-7h0m3 9h0m5 2h0m2-6h0m0 3h0m4-4h0m12-7h0m1 7h0m1-12h0m1 17h0m4-17h0m4 2h0m1 15h0m4-1h0m0-5h0m2-8h0m1 5h0m3 1h0m3-8h0m8 15h0m0-4h0m10 3h0m3-3h0m4 1h0m7-2h0m15 6h0m3-13h0m3 3h0m7 1h0m5-6h0m8 5h0m1 5h0m10-6h0m2 13h0m1-19h0m4 6h0m7 14h0m3-5h0m7 5h0m10-19h0m11 1h0m2 13h0m1-14h0m3 10h0m0-4h0m5 13h0m8-3h0m2-12h0m6 8h0m10-12h0m1 8h0m14 4h0m3 3h0m2 3h0m3-3h0m9-1h0m9 3h0m4-10h0m2 9h0m9-1h0m7-7h0m0-3h0m12 4h0m1 7h0m7-5h0m2-8h0m3 11h0m1-6h0m3-1h0m10 5h0m5 0h0m10-7h0m3 10h0m8-1h0m2-12h0m4 16h0m11-9h0m3 9h0m13-11h0m3 5h0m6-6h0m2-5h0m4 10h0m4-11h0m6 17h0m0-6h0m11-3h0m1-3h0m5 7h0m8 2h0m5-11h0m2 12h0m1-4h0m2-6h0m8 9h0m6-4h0m12-4h0m4 6h0m8 0h0m12-3h0m6-1h0m3 6h0m1-10h0m2 13h0m1-6h0m4-3h0m3 2h0m4-9h0m5 12h0m7-3h0m1-7h0m9 8h0m0-6h0m6 3h0m0 10h0m9-4h0m5 3h0m3-15h0m4 14h0m7-11h0m8-1h0m19 12h0m2-9h0m12 0h0m6 6h0m15-9h0m7 9h0m5-8h0m1 4h0m2-7h0m9-1h0m1 8h0m2-9h0m5-1h0m1 19h0m3-13h0m9 8h0m2-9h0m1 10h0m0-14h0m19 4h0m10 8h0m13 8h0m-5 6h0m-9-4h0m-4 8h0m-1 8h0m-8-14h0m-7 4h0m-7 3h0m-10-7h0m-2 12h0m-4 2h0m-6-6h0m-3 4h0m-19 2h0m-14-1h0m-4-10h0m-3 1h0m-7-2h0m-4 8h0m-11-2h0m-6 4h0m-10-10h0m-11 11h0m-1-18h0m-5 4h0m-4 7h0m-4-4h0m-1-7h0m-4 0h0m-13 2h0m-21 5h0m-6 4h0m-5 2h0m-3-2h0m-2-5h0m-4-5h0m-6 8h0m-1 3h0m-3-6h0m-2-6h0m-1 13h0m-8-4h0m-8-4h0m0 8h0m-11 0h0m-1 4h0m-4 2h0m-2-19h0m-2 16h0m-1-12h0m-8-2h0m-1 12h0m-3-2h0m-4-12h0m-4 14h0m-3-5h0m-3 11h0m-4-14h0m-7 8h0m-3-2h0m-4-7h0m-3 1h0m-8 12h0m-1-17h0m-3 16h0m-3-6h0m-3 7h0m-2-5h0m-9 7h0m-6-13h0m-2 4h0m0 6h0m-6-12h0m-2 14h0m-2-6h0m-8 2h0m-1-7h0m-3 3h0m-3-9h0m0 13h0m-4-10h0m-1 6h0m-5-9h0m-3 10h0m-3-10h0m-1 15h0m-4-7h0m-5 9h0m-1-3h0m-3-5h0m-2-11h0m-8 18h0m-5-3h0m-1-7h0m-4 2h0m-2-9h0m-4 5h0m-4 12h0m-2-12h0m-8-2h0m0 10h0m-9-2h0m0-7h0m-3 15h0m-18-4h0m-3-8h0m-4 4h0m-4-12h0m-2 11h0m-9-1h0m-1 7h0m-8 2h0m-2-16h0m-6 12h0m-1 4h0m-1-9h0m-6-2h0m-8-5h0m-1 4h0m-5 2h0m-1-3h0m-5 10h0m-17-12h0m0 4h0m-6-1h0m-10 9h0m-5-14h0m-19 8h0m-2-8h0m-8 4h0m-5-5h0m-3 2h0m-8 0h0m0 10h0m-3 4h0m-4 3h0m-3-9h0m-4-4h0m-16 9h0m-5-15h0m-2 7h0m-4 4h0m-16 6h0m-3-17h0m-8 16h0m-4-9h0m-1-6h0m-11 14h0m-2-15h0m-7 5h0m-7 5h0m-5 1h0m-1 7h0m-1-4h0m-3-5h0m-18-6h0m-22-4h0m-1 13h0m-2-7h0m-6 7h0m-4 5h0m-15-14h0m-4-1h0m-18 3h0m-3 7h0m-7-11h0m-1 6h0m-5-4h0m-7 11h0m-14-9h0m-1-5h0m-2 14h0m-3 1h0m-1-2h0m-4 3h0m-4-12h0m-1 11h0m-4 3h0m-2-3h0m-11-12h0m-2 15h0m0-4h0m0-9h0m-5 13h0m0-3h0m-15-9h0m-3-4h0m-4 8h0m-11-6h0m-6 6h0m-5-3h0m-7-3h0m-1-4h0m-6 6h0m-2 12h0m-11-15h0m-3 6h0m-1-5h0m-1-5h0m-5 13h0m-2 6h0m-2-14h0m-4-5h0m-2 8h0m-4 3h0m-1-11h0m-2 14h0m-1-9h0m-7 15h0m-10-11h0m-1 3h0m-3-1h0m-8-10h0m-2 11h0m-4-9h0m-6 5h0m-4 5h0m-1-8h0m-11 3h0m0-4h0m-2 12h0m-35-15h0m-7 15h0m-2 2h0m-1-9h0m-2 10h0m-2-10h0m-7 8h0m-2-16h0m-3 2h0m0 8h0m-2-4h0m-2-5h0m-11 1h0m-1 10h0m-1 3h0m-2-13h0m-4 5h0m-5 3h0m0 8h0m-5 0h0m-4-15h0m-14 24h0m8 10h0m3-10h0m6 2h0m5 4h0m7-6h0m1 8h0m23-3h0m1-4h0m0-7h0m18 16h0m3 2h0m6-7h0m3-6h0m25 7h0m0-12h0m8 10h0m0 4h0m1-11h0m6 6h0m0-5h0m3-3h0m0 15h0m1-10h0m2-4h0m0 10h0m5 0h0m10 0h0m0-4h0m10-7h0m5 3h0m4 7h0m1 5h0m5-2h0m5 1h0m5 1h0m2-7h0m5-3h0m8-4h0m3 2h0m0 10h0m5 3h0m10-3h0m3-8h0m9 7h0m9-7h0m4 4h0m1-9h0m1 4h0m6 7h0m2-14h0m5 15h0m2-5h0m2 7h0m8-6h0m3-7h0m0 11h0m3-2h0m4 6h0m3-4h0m1-3h0m0-10h0m5-1h0m17 15h0m3-7h0m1 10h0m6-7h0m15 6h0m9-6h0m6-9h0m3 3h0m1 9h0m6 1h0m4-4h0m3-5h0m5-2h0m1 10h0m5-12h0m4 1h0m7-2h0m5 4h0m1 13h0m12-11h0m14 0h0m4-4h0m2-2h0m4 4h0m0 13h0m1-5h0m9-12h0m4 5h0m1 6h0m7-6h0m1-4h0m13 10h0m0-9h0m4-4h0m1 12h0m6 0h0m0 7h0m6-18h0m3 12h0m2-11h0m6 11h0m4 7h0m1-7h0m1-7h0m5 5h0m7-9h0m3 11h0m4-11h0m6 15h0m4-13h0m11 6h0m4 10h0m3-15h0m9 5h0m1-8h0m3 8h0m7 7h0m15 3h0m9-7h0m4-4h0m8 5h0m5-11h0m4 8h0m2-9h0m2 16h0m3-17h0m5 8h0m4-5h0m2 13h0m4 2h0m1-19h0m2 7h0m8 4h0m5-9h0m8 0h0m3 14h0m4 4h0m3-7h0m12-7h0m1 10h0m3-5h0m1-11h0m10 18h0m1-5h0m1-13h0m4 20h0m13-9h0m7 1h0m5 1h0m6 3h0m2-5h0m9 5h0m4-15h0m2 10h0m1 7h0m4-9h0m9 8h0m4-4h0m7-8h0m6 12h0m2-1h0m10-1h0m5 4h0m4-9h0m4 9h0m0-15h0m3 11h0m7-5h0m4-8h0m3 14h0m4-7h0m11 3h0m0-7h0m4 5h0m4 7h0m3-2h0m1-12h0m5 6h0m4 11h0m5-7h0m3-9h0m9 15h0m6-1h0m34 0h0m5 1h0m7-9h0m9 2h0m5 4h0m0-8h0m4 9h0m1-6h0m1-8h0m3 3h0m7-2h0m7-1h0m5 15h0m2-3h0m8-3h0m1 7h0m6-6h0m3-4h0m6 3h0m0 7h0m7-4h0m0-14h0m12 16h0m1-7h0m12-1h0m3-2h0m4-2h0m3 4h0m2-4h0m9-1h0m1 4h0m4 7h0m5-2h0m8 2h0m1 3h0m0-15h0m16-2h0m2 4h0m4 12h0m0-3h0m6-12h0m1 14h0m3-11h0m0-3h0m8 7h0m0 4h0m2 6h0m2-6h0m4-13h0m1 17h0m0-8h0m14-9h0m2 16h0m10 0h0m5 2h0m2-10h0m3 4h0m1-5h0m4 7h0m3-7h0m1 5h0m14-10h0m10-1h0m-19 30h0m-4 7h0m-13-9h0m0 4h0m-11 5h0m0-13h0m-5 2h0m-1 4h0m-11-5h0m0 7h0m-8 3h0m-2-4h0m-1-5h0m-5-7h0m-8 14h0m-4-12h0m-9 16h0m-3-14h0m-3 11h0m-4 4h0m-7-8h0m-8-7h0m-4 8h0m-6-2h0m-6-3h0m-18 5h0m-4-6h0m-4 12h0m-1-4h0m-8-7h0m-8 8h0m-7-9h0m-13 4h0m-2 2h0m-2-3h0m-4-5h0m-6 12h0m-1-8h0m-4 10h0m-3-13h0m-7 2h0m-12-1h0m-15 9h0m-12-14h0m-1 8h0m-5 2h0m-2-9h0m-6-1h0m-3 14h0m-16-10h0m-3 15h0m-4-12h0m-6 10h0m-1-11h0m-4 12h0m-1-4h0m-4-7h0m-3 5h0m-6-1h0m-2 3h0m-2-8h0m-6 6h0m-5-8h0m-2 12h0m-1-15h0m-11 7h0m-6-1h0m-2-6h0m-9 5h0m0 12h0m-12-12h0m-4 11h0m-3-6h0m-1-5h0m-2 8h0m-10 5h0m-5-2h0m-1-12h0m-3 6h0m-7 2h0m-2-3h0m-3-9h0m-2 10h0m-6-10h0m-7 10h0m-2 6h0m-7-15h0m-4 15h0m-3 0h0m-1-7h0m-5 2h0m-9-2h0m-1-4h0m-5-2h0m-2-3h0m0 6h0m-13 10h0m-7-4h0m-5-5h0m-5 0h0m-3-5h0m0 7h0m-6-5h0m-10-1h0m-7-4h0m-7 9h0m-5 1h0m-2-9h0m-3 14h0m-3-12h0m-9-2h0m-9 7h0m-1 6h0m-4-1h0m-3-3h0m-5-5h0m-1-5h0m-6 10h0m-3-9h0m-3 17h0m-14-18h0m0 13h0m-2-3h0m0-5h0m-10-3h0m-6 16h0m-6-18h0m-1 8h0m-6 4h0m-15-1h0m-4-2h0m-20-8h0m-22 16h0m0-14h0m-4 6h0m-1 8h0m-15-1h0m-7 0h0m-2-14h0m-10 9h0m-2-4h0m-1 7h0m0 4h0m-6-2h0m-9-16h0m-27 12h0m-2-10h0m-8 7h0m-2 3h0m0-5h0m-6 1h0m-9 8h0m-2-16h0m-3 14h0m-2 3h0m-15-16h0m-2 12h0m-4-5h0m-1 4h0m-12-6h0m-1 5h0m-3 1h0m-3-1h0m-1-10h0m-4 14h0m-1-9h0m-1 5h0m-5 7h0m-11-11h0m-4-4h0m-5 8h0m-5 5h0m-2-4h0m-18 6h0m-2-8h0m-2-4h0m-1-6h0m-2 14h0m-2-10h0m-1-4h0m-7 4h0m-4 3h0m-1 9h0m-2-7h0m-1-8h0m-2 8h0m-5-5h0m-6 8h0m-3-11h0m-5 4h0m-4-4h0m-2 12h0m-3-4h0m-13 3h0m-7-3h0m-4-3h0m-20 12h0m-11-1h0m0-4h0m-10 3h0m-1-7h0m-6-9h0m-9 12h0m-2 4h0m-2-12h0m-2-4h0m-2 7h0m-6-3h0m-3 10h0m-4-4h0m-7-6h0m-10 13h0m-7 1h0m-13-19h0m-6 18h0m-3-1h0m-13 1h0m-5-15h0m-2 6h0m-2-9h0m-1 12h0m-5 6h0m-3-6h0m-2-5h0m-1 9h0m-7-9h0m-9 15h0m1 13h0m6-8h0m6 5h0m3-10h0m3 7h0m42-9h0m10 11h0m17-5h0m4 2h0m6 11h0m7-9h0m1-10h0m13 11h0m16 2h0m8-10h0m9 16h0m4-8h0m4-10h0m7 17h0m0-18h0m1 14h0m5-8h0m1-5h0m1 14h0m3-14h0m1 17h0m8-1h0m1-10h0m3-5h0m2 13h0m12-2h0m2-9h0m8 15h0m1-6h0m0-12h0m2 7h0m7 11h0m0-13h0m2-5h0m8 1h0m2 5h0m2 4h0m4 4h0m5-10h0m8 3h0m1 5h0m3 3h0m18-11h0m1 15h0m4-17h0m1-3h0m3 14h0m3 2h0m4-6h0m9 6h0m1-11h0m4 4h0m4 9h0m2-7h0m39-4h0m0 13h0m3-17h0m14 4h0m7 10h0m6 2h0m9-9h0m4 9h0m25-5h0m0-9h0m1 14h0m10-1h0m11-5h0m2-10h0m2 11h0m4 2h0m3-4h0m11-1h0m4-6h0m0 12h0m6-9h0m2 7h0m7-10h0m7-3h0m1 10h0m8 2h0m0-7h0m2 11h0m8-2h0m4-7h0m7-3h0m25 1h0m7 11h0m16-11h0m0-6h0m9 5h0m2 13h0m10-5h0m3-3h0m2 5h0m21 3h0m0-4h0m2-12h0m2-1h0m1 14h0m8 3h0m1-10h0m1-6h0m6 13h0m0-5h0m9 5h0m8-14h0m6 0h0m4 13h0m4-11h0m2-2h0m0 8h0m1-4h0m3-3h0m2-3h0m12 13h0m3 1h0m6 0h0m4-5h0m4-7h0m1 9h0m7-3h0m6 6h0m4-8h0m0-4h0m4-1h0m2 18h0m0-13h0m1 4h0m19-2h0m2 4h0m5-7h0m6 7h0m4 2h0m4-4h0m11-8h0m13 10h0m3 2h0m5-9h0m1 10h0m3-14h0m4-1h0m3 16h0m15 1h0m0-9h0m5 2h0m1-10h0m5 12h0m2 8h0m3-14h0m3 4h0m5-3h0m1 7h0m1 4h0m3-16h0m5 13h0m6 2h0m8 2h0m6-11h0m3-8h0m2 19h0m5-4h0m1-6h0m3-6h0m1 7h0m0 5h0m8 0h0m5 4h0m1-7h0m1-6h0m8 6h0m2-10h0m6 14h0m6 2h0m7-3h0m6 1h0m1-14h0m4 16h0m2-3h0m0-12h0m3 12h0m2-6h0m1-3h0m4 6h0m3-12h0m2 16h0m3 2h0m9-7h0m1-6h0m3-5h0m7 13h0m8-3h0m3-9h0m4 3h0m4 10h0m12-3h0m1 8h0m5-14h0m9 5h0m5-1h0m2 7h0m10-12h0m5 15h0m0-7h0m1-3h0m9-5h0m10 14h0m5-16h0m4 0h0m24 12h0m1-3h0m1-3h0m2 8h0m1-11h0m12-2h0m3 11h0m9 0h0m10-13h0m1 7h0m2 25h0m-12-9h0m-8 10h0m-9 1h0m-3-3h0m-2 6h0m-1-9h0m-5-2h0m0 8h0m-3-11h0m-4 10h0m-3 1h0m-4-12h0m-6 7h0m-3 6h0m-5-3h0m-2-6h0m-7 5h0m-3 2h0m-10 6h0m-3-9h0m-13-3h0m-3-7h0m-1 12h0m-11-2h0m-2-4h0m-10 6h0m-3-3h0m-2-7h0m-6 9h0m-19-3h0m-2-4h0m-2 11h0m-8-13h0m-4 7h0m0 9h0m0-15h0m-3 9h0m-5-3h0m-3-6h0m-8 14h0m-5-15h0m-6 5h0m-2 9h0m-2-8h0m-1 9h0m-2-17h0m-4 17h0m0-10h0m-9 4h0m-3-11h0m-6 7h0m-1 5h0m-15 0h0m-4-11h0m-15 12h0m-4-5h0m-5 1h0m-3-4h0m-3 11h0m-1-10h0m-4 2h0m-1 3h0m-10-4h0m-10 7h0m-6-10h0m0-5h0m0 13h0m-8-7h0m-9-5h0m-1 3h0m-3 11h0m-16-7h0m-2-8h0m-2 17h0m-5-6h0m-2-11h0m-1 16h0m-3-7h0m-2 3h0m-6-3h0m-16 1h0m-1-2h0m-16 6h0m-3-7h0m-5-5h0m-7 15h0m-1-14h0m-4 12h0m0 3h0m-7-10h0m0 6h0m-4-3h0m-6-7h0m-1 12h0m-4-15h0m-1 11h0m-8 2h0m-3 3h0m-4-1h0m-4-15h0m-2 10h0m-5-2h0m-17 5h0m-9 0h0m-8-11h0m-7 6h0m-17 9h0m-6-1h0m-7-4h0m-3 7h0m-4-2h0m-6-16h0m-3 15h0m-6 2h0m-4-11h0m0 8h0m-13-2h0m-1 5h0m-2-15h0m-8 9h0m-4 6h0m-1-14h0m-5-3h0m-14 15h0m-8-10h0m-1 7h0m-5-6h0m-2 12h0m-7-7h0m-4-7h0m-7 5h0m-1-11h0m-2 19h0m0-11h0m-10-5h0m-1 17h0m-20-19h0m-9 15h0m-3-7h0m-8-1h0m-3 4h0m-2-5h0m-2 9h0m0-5h0m-15 6h0m-2-10h0m-3 4h0m-14-7h0m-1 3h0m0 3h0m-2 6h0m-2 3h0m-4-10h0m-3 4h0m-14-10h0m-3 10h0m-8-2h0m-6-2h0m-1 5h0m-11-3h0m-7-8h0m-9 7h0m-1 4h0m-2-6h0m0-7h0m-10 9h0m-6 2h0m-1-11h0m-4 15h0m-3-10h0m-2 5h0m-5-7h0m-5-4h0m-3 0h0m-13 2h0m-6-1h0m-9 4h0m-6 4h0m-8-1h0m-15-1h0m-4-2h0m-8 14h0m-1-6h0m-6-11h0m-11 13h0m-4 3h0m-2-16h0m-16 6h0m-5 3h0m0-5h0m-7 2h0m-9-1h0m0-6h0m-11 3h0m-3-3h0m-19 12h0m-1 5h0m-7-15h0m-2 15h0m-4-18h0m0 19h0m-14 1h0m-30-18h0m-3 8h0m-23 1h0m-5-8h0m-6 14h0m-4-2h0m-19-9h0m-3-6h0m0 10h0m-1 4h0m16 10h0m0 10h0m12-10h0m4 8h0m5 0h0m0-7h0m5 11h0m28-15h0m3 10h0m12-6h0m15 5h0m0-6h0m10 6h0m12-8h0m9 15h0m9-7h0m7-9h0m1 7h0m2 2h0m4 0h0m8-6h0m7 13h0m10-4h0m20 2h0m0-11h0m16 10h0m3-3h0m30 8h0m2-6h0m1-12h0m56 18h0m20-10h0m0-5h0m5 4h0m14-6h0m37 10h0m15-5h0m13 7h0m2 5h0m8-13h0m10-5h0m4 3h0m6 11h0m3 0h0m18 1h0m1-3h0m0-11h0m3 15h0m3-5h0m5-6h0m2 12h0m9-6h0m1 8h0m3-5h0m0-7h0m5 5h0m5 3h0m2-8h0m5-7h0m3 11h0m4 5h0m8-15h0m2 6h0m1 9h0m1-3h0m14 2h0m4 0h0m2-6h0m10-4h0m2 13h0m3-10h0m3-2h0m3 11h0m7-6h0m7 1h0m7 0h0m3 4h0m11-6h0m15 7h0m2-10h0m5-7h0m8 3h0m7-3h0m3 7h0m1-5h0m5 9h0m5-9h0m7 10h0m7-12h0m1 18h0m6 0h0m7 0h0m5-18h0m6 10h0m1 3h0m3 0h0m0-8h0m1 11h0m5-10h0m3-2h0m4-4h0m7 11h0m1 7h0m3-4h0m5-10h0m0 8h0m10-6h0m3-2h0m16-1h0m1 6h0m2-3h0m4 11h0m1-10h0m1-4h0m1 8h0m4-10h0m0 7h0m6 9h0m7-4h0m8-12h0m2 2h0m1 14h0m4-4h0m2 6h0m3-7h0m3-10h0m8 0h0m5 11h0m3 3h0m8-6h0m4-6h0m4 11h0m2-8h0m6 5h0m1-10h0m8 2h0m4 13h0m4 2h0m2-15h0m2 11h0m6-15h0m5 11h0m3-10h0m4 13h0m3 3h0m0-15h0m5 1h0m1 13h0m0-17h0m4 19h0m7-3h0m0-7h0m2-3h0m7-4h0m2 14h0m4-3h0m13-2h0m11 2h0m3-8h0m12 13h0m3-11h0m2 6h0m1-4h0m25 6h0m10-5h0m2 8h0m2-10h0m1 9h0m5-5h0m3 4h0m0-13h0m18-1h0m13-1h0m7 10h0m1-10h0m4 12h0m2 2h0m10 0h0m16 1h0m1-6h0m10 6h0m11-4h0m5-3h0m9-5h0m6 1h0m8-1h0m-45 17h0m-1 7h0m-10-7h0m-2 9h0m-8-3h0m-4-6h0m-9 15h0m-3-2h0m-5-5h0m-9 11h0m-4-10h0m-4-5h0m-5 7h0m-4 3h0m-5-8h0m-5 9h0m-5 3h0m-2-16h0m-1 6h0m-1 5h0m-7-11h0m-13 6h0m-1-4h0m-5-2h0m-1 16h0m-6-18h0m-4 0h0m-2 6h0m-5 8h0m-8-10h0m-1 7h0m-15 7h0m-8-10h0m-13 6h0m-1-4h0m-3 8h0m-5-8h0m-8-4h0m-8-4h0m-11 14h0m-1-16h0m-13 18h0m-1-8h0m-3-10h0m-8 9h0m-14-8h0m-5 8h0m-1-9h0m0 18h0m-4-9h0m-8-1h0m-8-4h0m-1 14h0m-21-17h0m-7 12h0m-8-2h0m-1 3h0m-11-12h0m-14 11h0m-5-11h0m-3 5h0m-1-3h0m-5-4h0m-3 13h0m-6 0h0m-7 3h0m-1-7h0m-5 9h0m-2-10h0m-6-7h0m-1 11h0m-8-5h0m-5 10h0m-2-8h0m-5-6h0m-3 13h0m-3-11h0m-3 5h0m-3 8h0m-17-11h0m-2 8h0m-1-6h0m-7-1h0m-4-5h0m-6 9h0m-3-7h0m-3 3h0m-8 2h0m-6-6h0m-8-2h0m-10 12h0m-2-6h0m-3 6h0m-3-12h0m-1 6h0m-4-7h0m-1 8h0m-14 2h0m-2 6h0m-15-1h0m-3-8h0m-3 9h0m-7 2h0m-2-6h0m-16-11h0m-10 5h0m0-4h0m-1 16h0m-6-12h0m-4-1h0m-3 2h0m-18 10h0m-1-8h0m-7-7h0m-2 15h0m-1-7h0m-4-11h0m-4 11h0m-2-5h0m-11-6h0m-33 4h0m-66 8h0m-28-13h0m-24 15h0m-13-6h0m-1 8h0m-19 2h0m-8 1h0m-8-17h0m-5 16h0m-20-18h0m-6 10h0m-11 2h0m-6-2h0m-3-1h0m-6-1h0m-2-6h0m-5 2h0m-6-1h0m-8 8h0m-3-5h0m-3-5h0m-2 5h0m-8 13h0m-1-14h0m-9-5h0m-5-1h0m-12 2h0m-1 6h0m-11 2h0m-19 6h0m-5-9h0m-1-5h0m-15 11h0m-4 1h0m-10-10h0m-3 7h0m-18-9h0m-8-1h0m-16 1h0m-3 12h0m-3-10h0m7 32h0m3-13h0m15 7h0m2-3h0m8-3h0m4 12h0m5 1h0m11-2h0m4 3h0m10-9h0m2-5h0m4 13h0m3-13h0m2 12h0m3 2h0m1-13h0m4-4h0m7 11h0m2 7h0m3-18h0m10 11h0m6 5h0m12 2h0m3-13h0m2 14h0m6-4h0m9-2h0m5-13h0m8 1h0m1 4h0m2 13h0m4-18h0m25 15h0m1-15h0m31 4h0m6 5h0m16 1h0m24-11h0m3 18h0m20-7h0m49-9h0m3 6h0m5 0h0m18 8h0m1-4h0m27-4h0m18-6h0m4 11h0m4-4h0m11 11h0m29-20h0m2 11h0m11-7h0m4 2h0m6-3h0m6 16h0m13-18h0m22 7h0m12-2h0m0 10h0m4-14h0m0 15h0m8-16h0m4 8h0m5-8h0m8 7h0m47-7h0m4 5h0m5-5h0m3 11h0m12 4h0m1-15h0m5 11h0m6-4h0m2-2h0m7 10h0m0 4h0m3-11h0m1-5h0m10 9h0m1 5h0m4-3h0m11-7h0m4 4h0m1-10h0m3 17h0m7-10h0m1 3h0m0 4h0m4-5h0m4 0h0m6-6h0m7 3h0m5 1h0m0-7h0m3 12h0m4-5h0m2-2h0m7 3h0m8 6h0m8 0h0m4-10h0m5 5h0m0 9h0m16-5h0m4-9h0m12 1h0m7 9h0m9 1h0m5-3h0m1-7h0m2-5h0m7-1h0m5 10h0m2 9h0m14-16h0m1 4h0m6 10h0m2-18h0m6 9h0m3 5h0m4-8h0m4 13h0m7-15h0m5 12h0m2-7h0m6 1h0m2-9h0m15 15h0m0-11h0m3-4h0m1 6h0m2 8h0m2-9h0m0 11h0m11 1h0m0-11h0m1-4h0m14-2h0m0 11h0m1 7h0m2-14h0m6 5h0m4 2h0m3-2h0m10 3h0m1 6h0m1-12h0m21-3h0m3-4h0m4 20h0m1-18h0m2 2h0m7 10h0m16-9h0m2 5h0m12 5h0m15-6h0m3-8h0m-4 20h0m-16 0h0m-1 9h0m-4-9h0m-11 3h0m-9 11h0m-6-9h0m-4 1h0m-7 0h0m-12 4h0m-13 2h0m-2 6h0m-10-9h0m-10 10h0m-4-12h0m-3 5h0m-5-9h0m-3 2h0m-3-4h0m-10 2h0m-7 11h0m-2-13h0m-19 4h0m-10 5h0m-5-8h0m-4 5h0m-4 9h0m-2-16h0m-4 10h0m-4-8h0m-5 2h0m-8 10h0m-10-13h0m-4 13h0m-10 2h0m-2-14h0m-1 13h0m-3 4h0m-5-16h0m0 4h0m-8 3h0m-9-1h0m0 9h0m-8-9h0m-1 6h0m-5 3h0m-6-4h0m-8-1h0m-6-7h0m-5 6h0m-7-5h0m-5-2h0m-3-1h0m-1 9h0m-3-13h0m0 18h0m-1-5h0m-6-9h0m-13 0h0m-5 13h0m-7-2h0m-5 3h0m-2-6h0m-8-3h0m-9-5h0m-1-3h0m0 6h0m-8-7h0m-4 17h0m-7-16h0m-1 13h0m-5-8h0m-8-4h0m-10 14h0m-2-15h0m-15 0h0m-9 6h0m-4 9h0m-7 1h0m-4 0h0m-9-13h0m-11 2h0m-24 13h0m-12-4h0m0-9h0m-5 1h0m-1-3h0m-38-1h0m-6 9h0m-5-1h0m-1-11h0m-16 16h0m-12 0h0m-19 1h0m-4 0h0m-5-2h0m-3-8h0m-5 8h0m-2-14h0m-1 16h0m-19-5h0m-5 2h0m-28 4h0m0-18h0m-6 8h0m-10 11h0m-12-3h0m-1-8h0m-13 5h0m-36 1h0m-25-3h0m-8-6h0m-32 8h0m-21-13h0m-13 4h0m-4 4h0m-46 5h0m-8-2h0m-12 4h0m-18-15h0m-1 5h0m-5 11h0m-13-10h0m-5 7h0m-7-2h0m-5 1h0m-24-9h0m-3 11h0m-6-12h0m-4 2h0m-2 12h0m-3-1h0m-4-2h0m-3-10h0m-5-1h0m-17 12h0m23 16h0m5 3h0m13-12h0m11 9h0m8 3h0m18-8h0m7-4h0m8 17h0m2-12h0m1-7h0m19 14h0m34 1h0m22-7h0m68 4h0m38-12h0m4 2h0m2 12h0m42 3h0m1-14h0m47 13h0m4 0h0m1-10h0m33-1h0m36 5h0m6-9h0m1 11h0m3 3h0m4-1h0m48-1h0m3-6h0m30-4h0m1 7h0m8 0h0m1 6h0m34-8h0m11-6h0m24 13h0m8-15h0m1 4h0m2 10h0m5-10h0m16 4h0m29 3h0m29-3h0m0-4h0m6 1h0m9 5h0m4-9h0m4 1h0m19 7h0m3-3h0m15 2h0m2 11h0m1-16h0m8-1h0m7 10h0m1-3h0m20 5h0m6-6h0m0 11h0m6-4h0m3-8h0m5 11h0m9-16h0m2 7h0m3-7h0m3 17h0m2-4h0m3-6h0m5 8h0m4 1h0m3-4h0m5 1h0m3 3h0m7-12h0m8 3h0m0-8h0m6 3h0m8 3h0m1 7h0m5-1h0m7 3h0m1-11h0m5-1h0m10-4h0m2 18h0m3-5h0m11-6h0m13 1h0m0 5h0m3 7h0m16-4h0m2 4h0m6-10h0m4 7h0m12-4h0m47 2h0m-47 14h0m-4-9h0m-8 10h0m-6 1h0m-6-7h0m-3 5h0m-6 4h0m-8-4h0m-4 6h0m-1-3h0m-8 1h0m-8-8h0m-5 13h0m-5 0h0m-1-8h0m-3-3h0m-7-7h0m-9 4h0m-10 13h0m-3-9h0m-6-6h0m-38 9h0m-4 4h0m-2-11h0m-1 5h0m-5 7h0m-1-11h0m-14 7h0m0-7h0m-4 6h0m-11 6h0m-7-4h0m-6-1h0m-6 4h0m-9 0h0m-5-11h0m-22-2h0m-18 0h0m-9 7h0m-7-2h0m-9-1h0m-12-2h0m-7 3h0m-4-5h0m-2-2h0m-4 2h0m-3-2h0m-10 0h0m-2 8h0m-2 8h0m-9 0h0m-4-7h0m-5 9h0m-20-15h0m-10 1h0m-6 5h0m-13 9h0m-8-18h0m-1 10h0m-6 6h0m-3 3h0m-2-18h0m-14 5h0m-7 8h0m-8-12h0m-24 11h0m-4-12h0m-8 8h0m-3 5h0m-6-6h0m-3-6h0m-2 11h0m-3 4h0m0-17h0m-5 1h0m-3 13h0m-56 0h0m-7 5h0m-4-13h0m-25 3h0m-4-2h0m-42 8h0m-2-15h0m-14 19h0m-9-16h0m-15 5h0m-3 7h0m-28-2h0m-8 1h0m-6 3h0m-17-6h0m-2-7h0m0-4h0m-13 13h0m-12-11h0m-1 4h0m-19 11h0m-2-14h0m-2 14h0m-3-14h0m-23 3h0m-6 6h0m-6-1h0m-53-5h0m-16 5h0m-20-8h0m-7-1h0m10 18h0m78 3h0m16-1h0m26 9h0m21-9h0m6 4h0m40-2h0m30 6h0m54 2h0m9-10h0m3 16h0m8-4h0m3-6h0m3 2h0m20 4h0m17 3h0m17-9h0m35-7h0m8 4h0m10-6h0m1 5h0m14 1h0m20-4h0m11 9h0m4-4h0m46-1h0m11 8h0m1-10h0m2 4h0m30-4h0m1 13h0m22 3h0m12-4h0m5-14h0m11 14h0m0-7h0m7-9h0m5 14h0m3 0h0m1-6h0m18 5h0m3-5h0m0 8h0m2-15h0m1 9h0m5 9h0m6 0h0m2-19h0m4 13h0m6 3h0m0-5h0m4-5h0m4 10h0m10-15h0m6-1h0m2 8h0m3-3h0m2 10h0m12-13h0m18 13h0m2-7h0m2-5h0m10 11h0m2-5h0m7 1h0m7-9h0m5 3h0m3 12h0m0-14h0m11 1h0m8 6h0m1-4h0m5 11h0m2-11h0m15 14h0m1-17h0m4 11h0m24-7h0m17 9h0m5 5h0m2-4h0m17 0h0m10-8h0m4-8h0m1 9h0m15 2h0m1-8h0m1 16h0m6-10h0m2 5h0m25 18h0m-14-12h0m-32 11h0m-20 1h0m-4-9h0m-13 12h0m-2 4h0m-3-2h0m-4-1h0m-8-6h0m-28 1h0m0 6h0m-1-3h0m-4 3h0m-6-12h0m-9-4h0m-5 1h0m-6 8h0m-4 9h0m-6-14h0m-13 1h0m-4-3h0m-11 11h0m-1-11h0m-8 4h0m-2 7h0m-3-8h0m-1 10h0m-4-7h0m-6 6h0m-4-7h0m-6 7h0m-4-4h0m-3 8h0m-9-1h0m-1-9h0m-3 2h0m-2-9h0m-2 4h0m-10 8h0m-7 4h0m-5-14h0m-3 12h0m-5-9h0m-7 9h0m-10-3h0m-4-7h0m-2 4h0m0 7h0m-15-3h0m-2 3h0m-9-16h0m-2 9h0m-13-2h0m-3 7h0m-14-2h0m-5-3h0m-1-7h0m-24 2h0m-4 10h0m-15-10h0m-6 9h0m-1-13h0m-8 17h0m-3-7h0m-5 1h0m-12 3h0m-38-11h0m-111 4h0m-33-3h0m-7 3h0m-28 8h0m-19 3h0m-10 0h0m-20-11h0m-1-4h0m-94 2h0m-7-3h0m124 23h0m8 5h0m13-1h0m10-5h0m6-2h0m18-3h0m2 11h0m179-3h0m3 2h0m14 10h0m17-5h0m0-12h0m19 13h0m9-8h0m4 10h0m3-11h0m4 10h0m31-13h0m6 8h0m10-10h0m2 11h0m5-12h0m5 7h0m1 11h0m0-7h0m16-8h0m1 3h0m9 2h0m7-7h0m6 2h0m6 3h0m16 7h0m14-14h0m11 5h0m3 5h0m27-2h0m4 9h0m15-17h0m17 6h0m9 6h0m5-10h0m3 13h0m11-11h0m5 10h0m6 0h0m5-6h0m4 5h0m7-2h0m1-7h0m4 4h0m1 6h0m5-3h0m7-11h0m1 12h0m6 8h0m3-4h0m5 2h0m2-15h0m2 3h0m19 9h0m2-12h0m7 3h0m5 14h0m5-20h0m3 6h0m16 7h0m33-7h0m16 12h0m-39 16h0m-10 3h0m-1-17h0m-15 1h0m-2 10h0m-7-6h0m-8 4h0m-14 5h0m-9 2h0m-3-5h0m-3 7h0m-26-18h0m-8 4h0m-21 2h0m-6-5h0m-8-1h0m-7 19h0m-2-6h0m-13 2h0m-9-2h0m-1-12h0m-4 15h0m0-8h0m-11 10h0m-5-15h0m-2 9h0m-2-9h0m-6 3h0m-4 8h0m-5 4h0m-5-12h0m-3 12h0m-2-5h0m-1-7h0m-34 1h0m-5-7h0m-6 16h0m-5-6h0m-4-9h0m0 19h0m-7-8h0m-2 4h0m-30-3h0m-6-6h0m-3-3h0m-8 11h0m-18-8h0m-6-3h0m-4 15h0m-3-14h0m-2 12h0m-1-9h0m-8 6h0m-4-13h0m-4 13h0m-20-10h0m-13 13h0m15 21h0m3-4h0m1-9h0m2 9h0m3-5h0m7 7h0m1-15h0m4 1h0m8 17h0m15-9h0m4 4h0m3-6h0m17-4h0m3 16h0m5-19h0m7 13h0m5 1h0m1 4h0m6 0h0m6 1h0m2-17h0m1 12h0m5 5h0m8-8h0m1 3h0m8-3h0m1-10h0m3 17h0m1-15h0m5-2h0m11 10h0m0-12h0m0 17h0m7-8h0m3 10h0m24-15h0m14-3h0m3 3h0m3 2h0m1 12h0m3-15h0m3-2h0m17 4h0m4 11h0m1-3h0m8 0h0m8-1h0m0 5h0m9-15h0m12 16h0m0-7h0m9 1h0m11 0h0m2-3h0m4 3h0m11-1h0m2-11h0m3 12h0m1-9h0m11 15h0m8-16h0m6 15h0m10-3h0m13-5h0m4 8h0m6 1h0m0-14h0m5-3h0m3 2h0m2 15h0m4-12h0m7 6h0m2-9h0m12 1h0m1-4h0m2 8h0m46 16h0m-79-2h0m-11 7h0m-14 2h0m-22-5h0m-56 3h0m-8-2h0m-3 0h0m-5 6h0m-10-2h0m-19-3h0m-21 2h0m-23-2h0m-6-4h0m-4-1h0m-2 6h0m-11 1h0m-4 0h0m-2-8h0m-4 5h0m-15 3h0m-4 6h0m-14-15h0m0 4h0m-12 3h0m-5-3h0m-7-1h0m-17-2h0m-4 6h0m-3 2h0m-11-2h0m-3-5h0m-8 12h0m-1-8h0m-5-5h0m0 6h0m-10-3h0m-6 7h0m-2-7h0m-5 9h0m-8-10h0m-1 10h0m-3-6h0m-3-3h0m-7 11h0m-2-4h0m0-10h0m-4 5h0m-8 12h0m-1-10h0m-48 26h0m19-3h0m19-12h0m1 8h0m0 11h0m5-10h0m3 6h0m11-13h0m3 10h0m8-5h0m0 3h0m4 1h0m3-10h0m0 9h0m6-9h0m7 19h0m0-19h0m7 12h0m5-2h0m4-3h0m8 10h0m5-9h0m0-7h0m10 5h0m7 11h0m5-1h0m6-15h0m1 16h0m5-12h0m3 14h0m1-17h0m4 4h0m0 12h0m6-12h0m9 9h0m2-11h0m3 15h0m12-13h0m4 6h0m9-1h0m19-10h0m26-2h0m27 1h0m37 11h0m16-1h0m6-10h0m29 10h0m28 0h0m1-9h0m4 2h0m1 11h0m9-7h0m4 1h0m11 2h0m6-3h0m0 9h0m5-14h0m15 15h0m33 21h0m-44 1h0m-11-4h0m-8-2h0m-16-3h0m-9 1h0m-4 3h0m-8-2h0m-21 1h0m-6 6h0m-21-9h0m-17-10h0m-20 17h0m-21-1h0m-78 2h0m0-15h0m-4 6h0m-6-3h0m-8 1h0m-7 0h0m-7-3h0m-3 10h0m-1-7h0m-3 11h0m-4-10h0m-2-4h0m-10 12h0m-2-10h0m-21 3h0m-7 1h0m-10-10h0m-2 3h0m-1 5h0m-2-4h0m-4 12h0m-7 0h0m-5 1h0m-3-3h0m-4-14h0m-8 10h0m-2 7h0m-2-3h0m-4-3h0m-3-11h0m-11 9h0m-3-5h0m-6-4h0m-8 3h0m-2 13h0m-9-8h0m0-4h0m-3 4h0m-4 8h0m-23-10h0m-14-4h0m-11 2h0m-10 14h0m-5 20h0m0-14h0m9 8h0m9 6h0m2-9h0m10-5h0m3 12h0m7-8h0m0 9h0m11 1h0m5-6h0m2-5h0m8-7h0m2 11h0m5 3h0m1 4h0m3-14h0m6-3h0m12 4h0m7 0h0m2-4h0m1 7h0m2-6h0m2 6h0m0 7h0m6 3h0m10-14h0m7-4h0m0 6h0m7 6h0m11-7h0m1 10h0m8-6h0m27 5h0m1-11h0m11 2h0m6 0h0m25 8h0m5-10h0m2 15h0m2-17h0m3 3h0m2 11h0m0-6h0m9 10h0m4-20h0m3 8h0m55-8h0m22 8h0m36 7h0m54-13h0m2 10h0m23 0h0m2-9h0m8-2h0m13 14h0m4-2h0m10-10h0m7-1h0m15 0h0m19 4h0m23 10h0m96 19h0m-30-2h0m-53-4h0m-40 0h0m-18-5h0m-8 12h0m-6 2h0m-18-12h0m-7-4h0m-10 17h0m-8-1h0m-1-17h0m-15 8h0m-17 4h0m-4-4h0m-11-3h0m-10-3h0m-2 9h0m-13 3h0m-15-3h0m-11-5h0m-3 10h0m-19 1h0m-5-4h0m-15 5h0m-8-4h0m-50-6h0m-4 3h0m-7-8h0m-2 4h0m0 5h0m-13 6h0m0-15h0m-1 7h0m-8-2h0m0-3h0m0 11h0m0-5h0m-12-1h0m-3 1h0m-3 7h0m-11-4h0m-1-5h0m-16 2h0m-7 7h0m-10-4h0m-4-5h0m-3 5h0m-7-7h0m-11 4h0m-3-3h0m-5-4h0m-2 14h0m-1-17h0m-5-1h0m-2 10h0m-1-9h0m-2 7h0m-1 3h0m-5-7h0m-12 11h0m-8-15h0m-3 8h0m-3 9h0m-7-11h0m-6 0h0m-5 6h0m-1 4h0m-14-16h0m-6 2h0m-3 9h0m-3-3h0m-9-5h0m-12 8h0m-5-7h0m-2 5h0m-13 8h0m0-12h0m-4 5h0m-7 16h0m6 11h0m7-8h0m5-8h0m3 13h0m11-8h0m1-6h0m5 2h0m0 5h0m1 11h0m5-7h0m6-6h0m6 2h0m1-3h0m6 13h0m2-13h0m9 10h0m3-2h0m11 1h0m1 4h0m10 1h0m8-2h0m19-6h0m5-2h0m6 5h0m5-10h0m0 13h0m5-15h0m8-1h0m9 10h0m9-9h0m11 9h0m5 3h0m9 1h0m6 1h0m2-6h0m4-3h0m4 3h0m3 9h0m5-3h0m20-11h0m6 4h0m5 11h0m1-14h0m5 3h0m11-4h0m10 3h0m2 3h0m4-8h0m13 13h0m5-7h0m3 10h0m26-18h0m5 18h0m5-18h0m1 5h0m5-1h0m2 8h0m16 6h0m6-1h0m14-7h0m7-2h0m16 3h0m13 6h0m4-14h0m12 0h0m28 10h0m19-13h0m23 11h0m14 4h0m51-10h0m40-1h0m17 2h0m28-7h0m1 8h0m40 3h0m29 4h0m55 21h0m-3 4h0m-9-19h0m-2 13h0m-27 1h0m-2-14h0m-1 8h0m0 4h0m-3-8h0m-5 15h0m-10-9h0m-5 5h0m-7 0h0m-5-5h0m-6 6h0m-4-2h0m-1-4h0m-1 6h0m-8-8h0m-5-3h0m-9 13h0m-3-12h0m-1 12h0m-3-6h0m-14-2h0m-1 8h0m-5-2h0m-9-8h0m-9 1h0m-15 4h0m-4 1h0m-15 3h0m-10 0h0m-54-16h0m-27 13h0m-3-3h0m-30 5h0m-109-17h0m-32 9h0m-3-6h0m-6 0h0m-3 2h0m-9 3h0m-11-5h0m-22 1h0m-7 5h0m-8-1h0m-1-4h0m0 10h0m-10-14h0m-9 16h0m-7-1h0m-1-12h0m-2 4h0m-6 9h0m-3-11h0m-5 12h0m-5 0h0m-3-6h0m-3-9h0m-3 10h0m-17-8h0m0 10h0m-13-13h0m-23 12h0m-14 6h0m-6-9h0m-10 6h0m-3-15h0m-3 5h0m-8 0h0m-6-3h0m0 11h0m-4 1h0m-8-10h0m-32 6h0m-1-5h0m-1 10h0m-9-14h0m-8 18h0m0-18h0m-12 17h0m0-12h0m-24-3h0m-1 5h0m-10-2h0m63 24h0m5-8h0m12 4h0m33 2h0m2-3h0m15 2h0m15 4h0m5-7h0m5-3h0m11 6h0m26 4h0m7-11h0m6 4h0m19 2h0m2-7h0m134 3h0m0 11h0m3 2h0m1-3h0m4 4h0m70-13h0m6 11h0m39-1h0m9-6h0m13 12h0m11-19h0m7 4h0m7 8h0m29-2h0m13 4h0m2 4h0m1-10h0m1-7h0m2 14h0m4-5h0m2-5h0m1 8h0m6 6h0m6-17h0m11 15h0m1-12h0m2-6h0m4 1h0m3 18h0m12-6h0m4-11h0m6 6h0m5 10h0m8 0h0m1-14h0m0 9h0m8-10h0m1 12h0m4-2h0m10-5h0m0 7h0m4 4h0m6-8h0m4 6h0m5-11h0m18-2h0m9 0h0m1 5h0m3-4h0m13-1h0m4 16h0m6-16h0m17 12h0m7-3h0m2-11h0m2 14h0m6-10h0m7 3h0m4 8h0m1-11h0m10-4h0m4 12h0m1-11h0m2 7h0m3 8h0m10 0h0m5-5h0m14 1h0m32 0h0m8 6h0m56 18h0m-1-10h0m-4 7h0m-8 1h0m-14-3h0m-14 1h0m0-6h0m-6 7h0m-3-7h0m-11-4h0m-3 10h0m-9 5h0m-6-10h0m-14 1h0m-4-5h0m-9-5h0m0 14h0m-1 3h0m-1-14h0m-4 0h0m-1 12h0m-3-10h0m-2 13h0m-8-4h0m-5-5h0m-5 3h0m0 4h0m-6-4h0m0-4h0m-5-4h0m-2 9h0m-15 2h0m-4 4h0m-1-9h0m-4 0h0m-2-3h0m-1-6h0m-7 18h0m-4-13h0m0 6h0m-13-10h0m0 15h0m-6 0h0m-8-15h0m-2 3h0m-6 5h0m-19 6h0m-4-14h0m-14 5h0m-2 10h0m-9-7h0m-5-5h0m-1 4h0m-1 4h0m-3 6h0m-3-4h0m-4-8h0m-10 5h0m-4 6h0m-8-5h0m-2-8h0m-6 6h0m-3-9h0m-1 3h0m-11 10h0m-6-6h0m-5-8h0m-11 4h0m-2 5h0m-13 3h0m-3-3h0m-6-2h0m-7 3h0m-2-7h0m-4 8h0m-3 1h0m-6 2h0m-18 3h0m-11-14h0m-12-1h0m-34 14h0m-11-14h0m-88-2h0m-4 4h0m105 27h0m23-11h0m25 15h0m16 0h0m5-7h0m3 8h0m1-4h0m5-4h0m2-7h0m0 10h0m1-5h0m3 9h0m5 3h0m5-17h0m8 9h0m3-7h0m6 14h0m3-5h0m2 6h0m1-12h0m4 10h0m7-11h0m3 7h0m2-10h0m2-3h0m11 5h0m4 7h0m4-4h0m8-8h0m1 17h0m1-14h0m5 8h0m8 1h0m2-7h0m3-3h0m1 6h0m5 10h0m3-4h0m5 0h0m4 0h0m10 2h0m6-8h0m2 5h0m2 6h0m5-15h0m4 1h0m1 13h0m1-8h0m7-10h0m5 15h0m0-14h0m5 9h0m3-9h0m8 11h0m3-8h0m6 1h0m6 4h0m9 0h0m2-5h0m5 5h0m11 9h0m8-15h0m5 12h0m1-11h0m0 16h0m10-4h0m5-16h0m6 19h0m1-10h0m8 8h0m5-4h0m3 3h0m10-4h0m0-5h0m1 11h0m3-13h0m8-5h0m4 8h0m0-3h0m3 11h0m0-14h0m5 1h0m8 3h0m7 7h0m9-5h0m7 10h0m3-3h0m7 1h0m3-14h0m3 13h0m7 1h0m7-15h0m12 18h0m1-16h0m1 6h0m5 5h0m1-12h0m2 3h0m13 10h0m4-10h0m2 10h0m6 5h0m3-14h0m3 6h0m1-7h0m3 13h0m14-7h0m10 6h0m14 1h0m10 14h0m-7 4h0m-5 1h0m-2-3h0m-6-3h0m-6-6h0m-4 8h0m-4-11h0m-1 11h0m-2-8h0m-2-5h0m-8 6h0m-4 8h0m-2-8h0m-3 5h0m-11-5h0m-4 3h0m-1-7h0m-8 1h0m-1 7h0m-1 6h0m-6-1h0m-3 0h0m-4-10h0m-5 8h0m0-10h0m-4 1h0m-10 7h0m-9-6h0m-3 6h0m-1 8h0m-4-5h0m-8-6h0m-5-7h0m-3 12h0m-3 7h0m-4-15h0m-8 11h0m-1-5h0m-3-9h0m-3 14h0m0-9h0m-9 2h0m-7 9h0m-1-13h0m-6 12h0m-1-15h0m-1 6h0m-1 10h0m-1-17h0m-1 9h0m-9 6h0m-9-7h0m-2-5h0m-7-2h0m-5 11h0m-3-12h0m-3 11h0m-5-6h0m-1 13h0m-10-7h0m-2 3h0m-5-7h0m-5 1h0m-4-5h0m-1 15h0m-6-12h0m-1 6h0m-1-11h0m-2 6h0m-1 7h0m-1-4h0m-6 3h0m-4 2h0m-10-9h0m0 4h0m-11-6h0m-3 3h0m-5 10h0m-8-12h0m-2 3h0m-2 5h0m-13-13h0m-3 5h0m-6 11h0m-1-13h0m-2 4h0m0 5h0m-5-6h0m-8-1h0m-7 5h0m-5-4h0m-28 1h0m-3-2h0m-16-3h0m-6 15h0m-4 1h0m-6 0h0m-5-15h0m0 12h0m-6 2h0m-9 0h0m-1-7h0m-7-3h0m-5 2h0m-2-9h0m-3 17h0m-5-8h0m-1-6h0m-7-4h0m0 6h0m-2 11h0m-14-6h0m-7-6h0m-2-4h0m-5 2h0m0 11h0m-10 2h0m-4 2h0m-4 0h0m-16-8h0m-9 6h0m-1 3h0m-18-3h0m-6-1h0m-15-11h0m-40 17h0m29 14h0m1 4h0m7-6h0m7-7h0m7 0h0m2 5h0m3 3h0m2-9h0m7 4h0m1 11h0m5-2h0m1-10h0m11 9h0m7-16h0m5 11h0m3-4h0m4 4h0m1-4h0m14 11h0m1-13h0m11-4h0m4 11h0m1-10h0m5 16h0m6-19h0m3 19h0m3-11h0m4-6h0m8 16h0m4-17h0m1 11h0m7-9h0m3 15h0m3-9h0m1-4h0m7 0h0m0 10h0m7 3h0m7 2h0m0-12h0m3-1h0m7 5h0m10 2h0m5-5h0m8-9h0m4 12h0m12 2h0m5 5h0m4 0h0m8-15h0m3 13h0m1-13h0m1 3h0m1 7h0m5 3h0m3-17h0m3 15h0m10-15h0m2 2h0m7 15h0m2-6h0m6 5h0m1-13h0m8 0h0m8 1h0m11 9h0m4 7h0m4-2h0m3-9h0m0-7h0m4 1h0m4 15h0m0-17h0m6 0h0m0 7h0m6 8h0m6-11h0m8 5h0m12-1h0m2 6h0m3-6h0m0 5h0m4 5h0m0-11h0m5 6h0m6 3h0m3-11h0m4 2h0m7-1h0m7 3h0m4-8h0m7 14h0m0-3h0m4 1h0m5 4h0m0-5h0m7 6h0m2-16h0m3 11h0m6-1h0m1-11h0m2 14h0m2-2h0m9-7h0m13-1h0m2 4h0m5 6h0m1-16h0m4 5h0m0 4h0m3 3h0m1 4h0m19 2h0m13-2h0m19 1h0m0-14h0m6 1h0m1-4h0m1 17h0m1-3h0m4-11h0m1 3h0m0 8h0m6-13h0m2 8h0m1 10h0m5-3h0m3-16h0m1 3h0m3 3h0m1-4h0m5 11h0m7 2h0m3-13h0m1 5h0m9-7h0m4 10h0m9-5h0m0 6h0m4-11h0m3 19h0m2-16h0m4 11h0m2 3h0m2-15h0m5 10h0m42 26h0m-17-15h0m-2 13h0m-4-4h0m-1 5h0m-2-10h0m-3 3h0m-3-4h0m0 7h0m-9-4h0m-4-9h0m-5 4h0m-4 10h0m-10 3h0m-13-11h0m-18 10h0m-4-14h0m-14 11h0m-3-12h0m-5 18h0m-1-6h0m-3-7h0m-6 7h0m-2-11h0m-2 12h0m-1-4h0m-3 4h0m-2 3h0m-3-7h0m-1-3h0m-8 3h0m-3-1h0m-3 3h0m-6-4h0m-7-5h0m-2 9h0m-3 5h0m-8-15h0m-14 2h0m-6 3h0m-11 10h0m-5-16h0m-10 15h0m-3-10h0m-1 11h0m-3 1h0m-8-16h0m-1 17h0m-13-18h0m-2 15h0m-2-12h0m-3 12h0m-4-13h0m-12 9h0m-2-6h0m-4 7h0m-1-6h0m-5 3h0m-7 5h0m-8-6h0m-6 0h0m0-6h0m-5 15h0m-6-12h0m-1 14h0m-3-5h0m0-14h0m-6 11h0m-7-4h0m-2 10h0m-3-5h0m-2-9h0m0 13h0m-4 0h0m-7-14h0m-2 8h0m0-4h0m-2 9h0m-7-4h0m-3-2h0m-4 6h0m-2-9h0m-4 13h0m-5-12h0m-3-5h0m-15 5h0m-3 9h0m-4-17h0m-7 19h0m-1-15h0m-6 0h0m-1 12h0m-10-2h0m-7-1h0m-4-1h0m-10 6h0m-5-5h0m-7-3h0m-6-7h0m-4 15h0m-4-17h0m-6 0h0m-6 0h0m-7 3h0m-4 3h0m-4 12h0m-5-5h0m0-4h0m-5 3h0m-1-5h0m0-4h0m-5 3h0m-5 9h0m-1 3h0m-1-7h0m-2 4h0m-8-8h0m-3 12h0m-3-8h0m-4-7h0m-3 11h0m-8 2h0m0-10h0m-4 6h0m-1-11h0m-7 8h0m0 7h0m-1-12h0m-6 7h0m-5-9h0m-3-3h0m-1 12h0m-3 2h0m-8-12h0m-4 12h0m0-6h0m0-5h0m-7 10h0m-2 4h0m-6-6h0m-1-3h0m-6 11h0m-9 0h0m-2-6h0m-8-11h0m-3 15h0m-4-16h0m-1 9h0m-3-5h0m-1-6h0m-3 15h0m-1 5h0m-9-4h0m-5 1h0m0-7h0m-3-9h0m-4 2h0m-26 9h0m-3-1h0m-5-5h0m-19 8h0m-1-6h0m-22 22h0m7 8h0m6-8h0m1 10h0m7-12h0m10-2h0m10-4h0m4 2h0m5 2h0m1 6h0m3 3h0m5-4h0m10 6h0m4-7h0m0-4h0m2-4h0m6 4h0m3-3h0m6 12h0m9-12h0m1 17h0m7-10h0m6 5h0m6-9h0m4 11h0m9-11h0m2 9h0m0-4h0m1 9h0m5-16h0m6 13h0m1-8h0m4 5h0m1-13h0m9 17h0m2-9h0m6 7h0m2-3h0m1-9h0m5 3h0m10 8h0m1-4h0m1 7h0m4-16h0m6 2h0m13 3h0m5-1h0m32-4h0m3 9h0m3 3h0m2-3h0m9 6h0m17-14h0m0 3h0m6 14h0m1-15h0m1 10h0m3 3h0m3-5h0m0-11h0m3 3h0m4-1h0m2 11h0m5-12h0m3 11h0m0-8h0m4 2h0m2 11h0m6-11h0m2-8h0m0 17h0m5-1h0m2-4h0m1-11h0m4 9h0m2 5h0m2 3h0m5-16h0m3 11h0m16 1h0m8 4h0m1-14h0m8-3h0m5 1h0m3 17h0m6-5h0m10 2h0m3-6h0m5 0h0m6 2h0m3-8h0m7 5h0m5 0h0m6-4h0m3 7h0m2 8h0m1-6h0m1-12h0m1 3h0m2 4h0m2 6h0m7 1h0m4-11h0m0 3h0m2 7h0m4-1h0m12-13h0m4 15h0m6-10h0m6 2h0m4 11h0m5-18h0m1 17h0m1-14h0m3 1h0m4 14h0m4-10h0m8 6h0m4-2h0m8 4h0m5-7h0m3 7h0m1-7h0m2-8h0m1 12h0m5-4h0m6 3h0m5-12h0m2 3h0m3 5h0m8 2h0m2 4h0m9-13h0m2 6h0m3 4h0m0-12h0m3 19h0m1-18h0m0 8h0m5 6h0m8 0h0m4-14h0m2 7h0m3 12h0m9-10h0m5-9h0m2 12h0m2-9h0m4 9h0m16 1h0m4-12h0m2 7h0m1-3h0m7 8h0m0-6h0m1-7h0m18 10h0m6 5h0m2-14h0m6 9h0m3-5h0m1 9h0m9-4h0m4 8h0m1-7h0m3-6h0m3 10h0m0-15h0m5 17h0m8-10h0m0 10h0m10-12h0m3 11h0m13 3h0m5-3h0m26 13h0m-11 2h0m-6-2h0m-1 7h0m-7-1h0m-7-11h0m-5 9h0m-11 6h0m-7-10h0m-2-7h0m-5 16h0m-16-13h0m-3-1h0m-2 6h0m-1-3h0m0 8h0m-5-3h0m-3 2h0m-11-3h0m-3-2h0m-4-10h0m-6 17h0m-1-13h0m-3 11h0m-9-3h0m-5 3h0m-2-10h0m-7 1h0m-12 10h0m-6-4h0m-3-10h0m-4 0h0m-3 11h0m-3-9h0m-13-3h0m-10 3h0m0 7h0m-2-10h0m-2 17h0m-2-13h0m-1-4h0m-4 17h0m-5-11h0m-2-4h0m0 10h0m-5-3h0m-1 3h0m-2-2h0m-12-9h0m-6 5h0m0 4h0m-3 6h0m-2-6h0m-4-10h0m-4 10h0m-1 7h0m0-12h0m-9 2h0m-8-3h0m-4 0h0m-11-2h0m-1 13h0m-7-6h0m-6 7h0m-3-9h0m-6 10h0m-2-4h0m-6-13h0m-4 8h0m-13 5h0m-5-11h0m-6 3h0m-6-4h0m-1 10h0m0-6h0m-12-2h0m-2 11h0m-4 5h0m0-12h0m-7-5h0m-3 13h0m-3-9h0m-4 12h0m-2-15h0m-3 3h0m0 8h0m-9-12h0m0 10h0m-8-11h0m-2 15h0m-4-17h0m-3 8h0m-14 9h0m-5 3h0m-2-11h0m-2 6h0m-6-3h0m0 4h0m-4-10h0m-12-2h0m-1 14h0m0-4h0m-7-14h0m-6 11h0m-4 3h0m-11-7h0m-6 6h0m-4 3h0m-2-9h0m-5 2h0m-3 4h0m-3-10h0m-4 2h0m-3 4h0m-21-4h0m-7 4h0m-13-8h0m-14 6h0m-6 11h0m-3-10h0m-4-3h0m-3 12h0m-1-8h0m-3-7h0m-7 3h0m-7 7h0m-1-8h0m-4 7h0m-1 7h0m-3-9h0m0-4h0m-14 1h0m-4 10h0m-2-7h0m-4 8h0m-2-6h0m-1-4h0m-1 8h0m-9-9h0m-4 5h0m0-7h0m-4 1h0m-3 6h0m-4-2h0m-6-2h0m-3 6h0m-13 4h0m-7-14h0m-2 10h0m-3-7h0m-5 7h0m-5-4h0m-12 4h0m-2-10h0m-1 6h0m-3-5h0m-2 16h0m-3-2h0m-3-3h0m-4-11h0m-7 6h0m-5 1h0m-1-7h0m-1 9h0m-4 7h0m-9-11h0m-4-4h0m-2-3h0m-6-2h0m-10 11h0m-7-6h0m-5 11h0m-8 17h0m8-5h0m1 4h0m1-10h0m5 9h0m1 5h0m4-5h0m2 7h0m12-16h0m5 12h0m7-12h0m16 7h0m11 7h0m8-12h0m7-1h0m6 16h0m3-14h0m0 10h0m1-14h0m12 7h0m0-5h0m5-2h0m5 14h0m1-13h0m0 10h0m5 3h0m6-10h0m13-3h0m2 10h0m5 8h0m2-15h0m5 1h0m4 3h0m6-3h0m5 13h0m5-11h0m6 10h0m1-12h0m3-6h0m8 16h0m2-11h0m1 7h0m12-3h0m1 7h0m1-15h0m17 12h0m5 3h0m18-6h0m6 3h0m1-10h0m9 11h0m3-4h0m5 1h0m7 6h0m5 2h0m5-19h0m4 4h0m21 7h0m4-3h0m8-4h0m10-3h0m12 16h0m2-6h0m3 4h0m1-8h0m7-2h0m2 12h0m5-2h0m1-3h0m8 6h0m2-11h0m7-7h0m4 1h0m11 4h0m3 14h0m9-2h0m1 3h0m2-14h0m5 9h0m6 4h0m2-17h0m7 11h0m3-5h0m0 9h0m2-3h0m2-6h0m2-6h0m1 12h0m6-3h0m2-11h0m4 7h0m3-6h0m1 7h0m0 9h0m8 0h0m8-4h0m2-9h0m1 11h0m7-1h0m6-4h0m5 8h0m1-7h0m6-7h0m7 4h0m3 4h0m4-9h0m2 14h0m2-17h0m11 1h0m3 1h0m5 13h0m1 4h0m1-9h0m4 5h0m7-1h0m2-10h0m7 0h0m0 14h0m1-8h0m4 5h0m1-10h0m2 5h0m9-1h0m3-7h0m2 14h0m3 4h0m4-15h0m3-2h0m2 10h0m7-2h0m4 6h0m8-8h0m1 4h0m5-4h0m9-9h0m3 13h0m4 0h0m3 1h0m4 5h0m6-11h0m1 11h0m7-7h0m7-11h0m2 12h0m9-9h0m4-2h0m6 14h0m0-6h0m1 3h0m0-9h0m6 11h0m2-4h0m5-5h0m6 12h0m1-10h0m1 5h0m2-8h0m15-3h0m1 16h0m2-7h0m4-6h0m3 12h0m2-13h0m0 15h0m7 0h0m12 1h0m1-11h0m3 2h0m5-6h0m6 13h0m7-15h0m5 6h0m7-1h0m1 3h0m6-8h0m0 4h0m2 10h0m24 3h0m9-8h0m19 18h0m-2 7h0m-5-16h0m-3 7h0m-5 3h0m-3-2h0m0-8h0m-7 18h0m-3-5h0m-8-10h0m-8 5h0m-1 5h0m-5 3h0m0-14h0m-7 6h0m-4-1h0m-2 3h0m-1-6h0m-1 14h0m-3-14h0m-4 7h0m-12-6h0m-8 6h0m-10 8h0m-1-6h0m-2-12h0m-15-2h0m-8 3h0m-4 5h0m-4-1h0m-10 8h0m-3 0h0m-6-10h0m-1-4h0m-3 16h0m-5-3h0m-7-14h0m0 4h0m-2 7h0m-1-6h0m-1 14h0m-15-6h0m-3-2h0m0-8h0m-6 8h0m-2 6h0m-3-15h0m-6 18h0m-1-9h0m-8-4h0m-2 5h0m-3 2h0m-4-10h0m-4 7h0m-5 7h0m-10-8h0m-3 3h0m-3-12h0m-3 7h0m-4-6h0m-7 11h0m-8-11h0m-3-1h0m-4 17h0m-9-16h0m-2 10h0m-24 1h0m-1-8h0m-3 2h0m-5 9h0m-3 0h0m0-12h0m-5 15h0m-3-4h0m-9 0h0m-5-8h0m-6 1h0m-5 1h0m-6-7h0m-6 9h0m-12 3h0m-4 6h0m-1-9h0m-4-1h0m-5-7h0m-1 10h0m-2-9h0m-4 9h0m-7-6h0m-7-2h0m-8 10h0m0 4h0m-11-2h0m-5-6h0m-17 7h0m-2-13h0m-8-1h0m-1 6h0m-6-9h0m-1 9h0m-5 8h0m-10-1h0m-4-5h0m-2 3h0m0-10h0m-7 10h0m-4 0h0m-2-3h0m-1 5h0m-7-2h0m-1-7h0m-5 11h0m-3-9h0m-4 2h0m-2-10h0m-2 16h0m-3-15h0m-2 7h0m-8-2h0m-3 4h0m-1-11h0m-3 15h0m-12 3h0m-1-17h0m0 7h0m-2 6h0m-3-3h0m-14 1h0m0-9h0m-3 14h0m-1-7h0m-11-4h0m-4 7h0m-1-6h0m-1 11h0m-8-18h0m-4 5h0m-1 9h0m-3-5h0m-7 9h0m-1-11h0m0-5h0m-7 2h0m-1 4h0m-10 2h0m-3-3h0m-7-7h0m-11 10h0m-11-6h0m-2-2h0m-10 13h0m-5 2h0m-2-12h0m-8 7h0m-1-7h0m-3 10h0m-6-6h0m-6 7h0m-2-11h0m-9 2h0m-16 1h0m-6 7h0m-1-4h0m-3 7h0m-4-1h0m-5-13h0m-6 5h0m-4 3h0m-13-4h0m-4 8h0m-3 0h0m-6-16h0m0 3h0m-14 12h0m-3 4h0m-6-18h0m-8 8h0m-8 5h0m0-14h0m-5 3h0m-1 10h0m-11 2h0m-2-7h0m-23 29h0m8-8h0m5 1h0m4-11h0m5 6h0m9-4h0m0 6h0m1 4h0m7 1h0m5 0h0m2-9h0m4 12h0m2 4h0m6-7h0m5 4h0m4 3h0m13-18h0m1 8h0m8-1h0m12 5h0m5 4h0m0-5h0m4 0h0m18 6h0m9-8h0m2-5h0m4-6h0m2 11h0m3-2h0m2-8h0m1 10h0m8 9h0m1-10h0m4-9h0m1 17h0m2-10h0m9 4h0m4-7h0m11-3h0m2 8h0m8 6h0m7 2h0m1-12h0m2 2h0m5-7h0m2 11h0m9 6h0m0-15h0m4 12h0m2-5h0m2-9h0m10 11h0m0-5h0m13-3h0m10 4h0m1 6h0m6-13h0m2 14h0m3-6h0m2 4h0m6-12h0m2 1h0m3 6h0m2 11h0m9-8h0m3-3h0m2-8h0m2 11h0m9-2h0m9-2h0m3 11h0m1-5h0m5-3h0m5-3h0m10-5h0m4 0h0m7 11h0m2 7h0m4-18h0m3 5h0m3 11h0m2-6h0m1-8h0m2 14h0m3-13h0m1 7h0m5 3h0m4-9h0m4 4h0m7 6h0m8-1h0m4-8h0m1-6h0m4 14h0m8-12h0m13 2h0m4-1h0m3-1h0m0 4h0m4 6h0m5 6h0m1-17h0m7 9h0m6 1h0m0 7h0m11-10h0m6-6h0m2 15h0m4-11h0m6 1h0m6 6h0m1-8h0m2 4h0m4-1h0m1 2h0m5 0h0m6-7h0m2 13h0m10-8h0m2 6h0m8-7h0m7 6h0m2-7h0m10 6h0m10-11h0m0 4h0m8 10h0m2-8h0m0 4h0m8-4h0m14 5h0m4-3h0m5 10h0m2-5h0m5-11h0m1 13h0m6-6h0m14 1h0m1-5h0m12-6h0m1 14h0m0-5h0m4 3h0m3-9h0m13 6h0m5 7h0m1-6h0m5-2h0m12 2h0m4-3h0m6-8h0m4 18h0m0-5h0m7-9h0m0 12h0m4-7h0m7 10h0m1-9h0m6-6h0m0 9h0m5-9h0m6 11h0m0-8h0m3-3h0m1 10h0m5 1h0m0-11h0m2 4h0m3 10h0m5 0h0m2-11h0m9 7h0m1 5h0m2-7h0m15-3h0m4 8h0m7-7h0m2-2h0m3-7h0m6 7h0m2 9h0m6-10h0m6 12h0m3-7h0m4-3h0m0 11h0m6-4h0m6 2h0m4-12h0m5 6h0m13-9h0m4 15h0m10-9h0m5 10h0m3-3h0m7 2h0m11-5h0m39 25h0m-30-2h0m-1-12h0m-4-3h0m-3 4h0m-9 3h0m-1 7h0m-3 2h0m0-7h0m-4-5h0m-3 9h0m-5-3h0m-5-4h0m-4 10h0m-2-8h0m-1 3h0m-2 2h0m-6-8h0m-10 3h0m-2 9h0m-4-16h0m-4 12h0m-7-1h0m-6-6h0m-8 12h0m-2-18h0m-4 19h0m-3-12h0m-3 11h0m-1-18h0m0 11h0m-5 3h0m-2-10h0m-8 12h0m-1-13h0m-3-4h0m-7 10h0m-3 2h0m-4-6h0m-4 4h0m-5-3h0m-2 5h0m-1-10h0m-11 2h0m-3 2h0m-8 12h0m-3-5h0m-4 1h0m0-9h0m-4 1h0m-9 0h0m-3 5h0m-18 6h0m-1-4h0m-21 2h0m0-14h0m-2 19h0m-5-5h0m0-4h0m-5 7h0m-9-5h0m0-4h0m-10 3h0m-2-10h0m-5 2h0m-8 15h0m-2-11h0m-8 1h0m0-7h0m-4-1h0m-1 16h0m-2-10h0m-16 8h0m-2-15h0m-3 5h0m-3-1h0m-2 7h0m-2 3h0m-1-5h0m-3 1h0m-7-7h0m-2 16h0m-2-10h0m-4-9h0m-7 18h0m-5-15h0m-3 8h0m0 5h0m-7-1h0m-1-13h0m-1 5h0m-15-6h0m-1 9h0m-2 3h0m-3-13h0m-3 6h0m-5 10h0m-5-9h0m-3-7h0m-5 19h0m-2-5h0m-10 5h0m-5-17h0m-10 1h0m-4 7h0m-5-6h0m-18 9h0m-3-7h0m-3 12h0m-3-15h0m-1 4h0m-2 9h0m-2-6h0m-2-8h0m-10 6h0m-2-8h0m-1 15h0m-2-5h0m-5-4h0m-14-3h0m-3 11h0m-3-8h0m-6 10h0m-1-15h0m-4 1h0m-1 8h0m-5 8h0m-2-13h0m-4 12h0m-7-8h0m-10-1h0m-8-2h0m0 11h0m-4-1h0m-5 2h0m0-7h0m-3-1h0m-1 4h0m-3 4h0m-6-18h0m-2 9h0m-3-8h0m-5 15h0m-13-14h0m-1 14h0m-3-9h0m-8 6h0m-1-12h0m-2 8h0m0 7h0m-2-13h0m-2 6h0m-2 2h0m0-7h0m-5 10h0m-4-7h0m-3 3h0m-10-9h0m-2 9h0m0 4h0m-7-6h0m-1 9h0m-4-9h0m-7 6h0m-1-10h0m0 4h0m-4 8h0m-2 4h0m-1-5h0m-1-13h0m-7 11h0m-8 4h0m-3 0h0m-4-4h0m-1-8h0m-2 7h0m-1 4h0m-3-16h0m-6 4h0m-2-3h0m-2 11h0m-6-5h0m-2 7h0m-1-10h0m-5-3h0m-7 11h0m-7 8h0m-6-18h0m-25 13h0m-3-14h0m-9 2h0m-2 12h0m0-9h0m-4 9h0m0-5h0m0-9h0m-2 16h0m-7-10h0m-7 8h0m-1-14h0m-6 18h0m-4-18h0m-3 2h0m-2 14h0m-11 1h0m-5-3h0m-10-10h0m-3 4h0m-3-6h0m-6 7h0m-5-9h0m-10 18h0m-2-9h0m-4-7h0m-2 15h0m-8-10h0m-7 10h0m-3-16h0m0 9h0m-4-7h0m-5 11h0m-12-12h0m-3 13h0m3 12h0m3 7h0m4-15h0m5 12h0m6-10h0m6 9h0m2 6h0m1-14h0m15-3h0m10 14h0m0-7h0m6-6h0m8 5h0m3 7h0m6-8h0m0-4h0m10 10h0m1 5h0m4 0h0m6-9h0m5-3h0m2 5h0m7-5h0m5 6h0m0 6h0m1-10h0m4-2h0m2-3h0m5 14h0m5-11h0m3 9h0m2 7h0m7-17h0m4 9h0m3-12h0m2 7h0m1 6h0m8-8h0m4 4h0m2 7h0m14-1h0m17-14h0m0 12h0m1-6h0m5 10h0m1-14h0m5 15h0m3-12h0m3 6h0m11 0h0m5 5h0m1-16h0m6 6h0m6 9h0m8-11h0m0 4h0m3 7h0m5-4h0m10-4h0m2 7h0m5-15h0m1 4h0m4 14h0m1-16h0m6 14h0m4-4h0m10-10h0m4 15h0m5-6h0m13 6h0m2-8h0m7-1h0m1 8h0m13-1h0m3 4h0m4 1h0m0-13h0m10-5h0m15 10h0m1-6h0m15 4h0m8 0h0m2-8h0m1 5h0m9-4h0m13-2h0m1 14h0m3-12h0m5 13h0m0-15h0m3 6h0m0-4h0m3 3h0m6 13h0m1-10h0m7 0h0m6-4h0m2 3h0m1 3h0m6 2h0m0-13h0m15 15h0m2 4h0m5-6h0m0-11h0m3 5h0m10 4h0m18 9h0m4-19h0m1 9h0m3 9h0m1-4h0m1-4h0m9-9h0m4 9h0m2 4h0m0-11h0m1 4h0m1 11h0m3-7h0m1 5h0m9-13h0m7 16h0m0-14h0m3-3h0m1 15h0m8-1h0m4-12h0m3-1h0m9 2h0m1 9h0m6-9h0m1 13h0m1-17h0m6 15h0m10-11h0m7 11h0m2-9h0m2 5h0m14 4h0m4-14h0m6 9h0m0-11h0m2 19h0m8-17h0m3 16h0m3-10h0m2 5h0m8 1h0m5-2h0m2-10h0m1 12h0m7 5h0m2-6h0m6-8h0m2 4h0m7-6h0m8 1h0m0 10h0m15 0h0m3-10h0m3 10h0m0-8h0m1-3h0m6 12h0m2-10h0m2 3h0m0 3h0m3-6h0m3 1h0m5 11h0m6-9h0m9 3h0m9-8h0m0 7h0m4-3h0m7-3h0m1 13h0m1-17h0m14 18h0m17-9h0m8 10h0m2-12h0m6 1h0m0 5h0m9 2h0m3-2h0m1-4h0m3 3h0m1-3h0m0-8h0m6 0h0m0 8h0m2 2h0m2-6h0m6 6h0m3 5h0m1-8h0m18-5h0m0 5h0m1 5h0m2 5h0m9-10h0m3-4h0m1 13h0m1-7h0m2-3h0m6 6h0m4 1h0m0-7h0m7 3h0m3 0h0m3 7h0m5-9h0m7-8h0m3 15h0m0-4h0m1-5h0m1 4h0m2-9h0m5 15h0m3-5h0m1 4h0m8-4h0m16 4h0m20 24h0m-3-1h0m-9-16h0m0 11h0m-1 5h0m-5-16h0m-4 15h0m-3-10h0m-8-5h0m-9-1h0m-7 12h0m-4-13h0m-1 5h0m-11 9h0m-13-3h0m-7-10h0m-1 12h0m-7-10h0m-3 13h0m-4-11h0m-1 8h0m-5 3h0m-1-6h0m-6-1h0m-2 9h0m-2-15h0m-1 5h0m-3-6h0m-13 6h0m-1-3h0m-4 1h0m-3-5h0m-4-2h0m-1 5h0m-5 14h0m-1-6h0m-1-3h0m-5-2h0m-7-2h0m-19 8h0m-27-8h0m-4 4h0m-3 10h0m-5-5h0m-5-13h0m-1 14h0m-2-9h0m-3 1h0m-1 4h0m-10-10h0m-4 7h0m-6-9h0m-1 5h0m-3 8h0m-7-10h0m-3-2h0m-3 5h0m-3 7h0m-2 4h0m-6-8h0m-18-3h0m-16 4h0m-8-5h0m-3 9h0m-8-8h0m-9 3h0m-9-6h0m-1 16h0m-4-15h0m0 12h0m-4 1h0m-2-2h0m-2-12h0m-3 12h0m-4-11h0m-3 13h0m-8 0h0m-5-9h0m-3-4h0m-1 14h0m-5 1h0m-1-16h0m-1 8h0m-2 2h0m-10-10h0m-4-2h0m-3 6h0m-11 12h0m-9-5h0m-2-4h0m-11 1h0m-2-4h0m-1-7h0m-3 6h0m-4 11h0m-1-4h0m-3-5h0m0 4h0m-11-4h0m-2 6h0m-18-3h0m-8-9h0m-3 7h0m-17-6h0m-14 11h0m-6-10h0m-2 5h0m-4-2h0m-2-6h0m-2 10h0m-3 7h0m-6-16h0m-4 3h0m-13 5h0m-3 8h0m-5-8h0m-11 1h0m-4-5h0m-16 8h0m-4-2h0m-8-10h0m-1 16h0m-8-13h0m-4 3h0m-15 6h0m-15-5h0m-3-5h0m-9-2h0m0 14h0m-12-11h0m-1-5h0m-1 19h0m-4-17h0m-8 4h0m-5 13h0m-14-14h0m-9 13h0m-2-15h0m0 9h0m-4-5h0m-4 2h0m-7 8h0m-10 1h0m-1-9h0m-9 6h0m-6 5h0m-3-17h0m-6-2h0m-8 0h0m-8 11h0m-1 7h0m-3-13h0m-9 2h0m-8 2h0m-4 6h0m-8-8h0m-11 8h0m0-11h0m-4 6h0m-13-9h0m-2 16h0m-2-17h0m-1 15h0m-4-3h0m-3 2h0m-1-7h0m-7 10h0m-3-6h0m-4-9h0m-7 0h0m-2 13h0m-3-4h0m-1-6h0m-1 14h0m-7-18h0m-3 6h0m0 12h0m-4-7h0m-6 0h0m-1-10h0m-4 2h0m-2 12h0m-3 3h0m-4-18h0m-1 9h0m0 7h0m-3-10h0m-14 3h0m-2 2h0m-6-7h0m-5 13h0m0-17h0m-2 8h0m-3 5h0m-2 4h0m-2-9h0m-1-3h0m-6-1h0m-2 12h0m-1-15h0m-5 16h0m-15-11h0m-1-3h0m-13 7h0m-7 0h0m-8 23h0m17-4h0m1 7h0m3-13h0m13-4h0m10 5h0m2 10h0m2 3h0m5-9h0m6 0h0m14-10h0m4 7h0m5 8h0m3-3h0m8-6h0m2 14h0m1-11h0m9 7h0m6-4h0m17-7h0m5 3h0m11-4h0m4 4h0m15 3h0m3 4h0m9-12h0m4-2h0m3 18h0m6-5h0m1-10h0m11 7h0m2-10h0m1 8h0m4 8h0m5-11h0m1 12h0m2-13h0m3 11h0m11-4h0m13-3h0m6 9h0m10-4h0m10 1h0m0-11h0m7 14h0m7-13h0m10-3h0m2 8h0m5 3h0m6-3h0m5-9h0m4 14h0m0-5h0m2 8h0m3-5h0m1-8h0m10 4h0m4 1h0m9-3h0m8 3h0m1 8h0m13-5h0m1-4h0m2 9h0m5-3h0m1-5h0m1 8h0m8-6h0m18 3h0m1-14h0m4 3h0m16 12h0m3-9h0m6 12h0m1-16h0m1 10h0m5 6h0m1-16h0m5 10h0m3-11h0m6 16h0m1-4h0m2-11h0m3 1h0m4-2h0m4 1h0m2 4h0m2 3h0m1-5h0m1 15h0m5-1h0m17-15h0m7 14h0m0-5h0m1-10h0m1 5h0m9 5h0m3-4h0m1-6h0m6-2h0m13 2h0m3 15h0m2 2h0m10-19h0m6 4h0m8 13h0m5-16h0m2 3h0m5 3h0m1 4h0m3-10h0m8 17h0m1-9h0m2-3h0m13 2h0m3-7h0m1 17h0m5-3h0m8-16h0m11 4h0m10 7h0m4-4h0m8 4h0m1 4h0m3-9h0m7-6h0m4 12h0m1-8h0m1 10h0m6-6h0m5 8h0m1-8h0m2 5h0m5-3h0m4-5h0m0 5h0m4 7h0m2-11h0m9-4h0m5 15h0m0-14h0m4 6h0m2 7h0m2 4h0m38-14h0m10-3h0m5 16h0m1-19h0m4 11h0m5 4h0m4 4h0m1-13h0m1 10h0m3 3h0m1-17h0m4 17h0m1-17h0m4 1h0m1 12h0m0-6h0m14-4h0m7 11h0m8-7h0m4 6h0m8-2h0m7-9h0m3 7h0m3 2h0m1 6h0m12-4h0m2-3h0m8-11h0m8 17h0m2-15h0m7 5h0m5 9h0m2-11h0m13 0h0m3 13h0m4-1h0m17-14h0m5-3h0m3-1h0m2 14h0m1-7h0m30 5h0m15-10h0m4 1h0m22 1h0m-148 29h0m-4 0h0m-8-3h0m-11-7h0m-2 7h0m-8 7h0m-19-3h0m-6-11h0m-3 16h0m0-10h0m-1-9h0m-3 8h0m-5-4h0m-12-1h0m-1 11h0m-8-2h0m0 7h0m-10-16h0m0 16h0m-5-8h0m-2-10h0m-6 11h0m-7-12h0m-2 4h0m-7 1h0m0 12h0m-4-12h0m-3 13h0m-7-1h0m-7-15h0m0 4h0m-1 7h0m-3-5h0m-2 11h0m-12-17h0m-2 13h0m-2 3h0m-1-5h0m-2-9h0m-2 11h0m-8 3h0m-4-2h0m-1-5h0m-7-9h0m-2 8h0m-18 8h0m0-4h0m-6 1h0m-4-2h0m0-8h0m-10 15h0m0-6h0m-1-5h0m-1-4h0m-7-2h0m-7 2h0m0 5h0m-5-9h0m-2 18h0m-1-14h0m-9 9h0m-1-4h0m-1 7h0m-1-16h0m-4 18h0m-12-2h0m0-4h0m-1-12h0m0 5h0m-7 6h0m-2-3h0m-6 6h0m0-6h0m0-7h0m-3 13h0m-5 4h0m-5-13h0m-2 9h0m-9-9h0m-2 12h0m-8-10h0m-1-6h0m-4 1h0m-3 4h0m0 11h0m-3-2h0m-1-12h0m-3 10h0m-1-8h0m-8 14h0m-7-18h0m-7 11h0m-1 7h0m-11-8h0m-1-10h0m-2 12h0m-6 5h0m-2-16h0m-4 11h0m-1-3h0m-19 8h0m-6-12h0m-10 0h0m-6 10h0m0-10h0m-2 8h0m-1-8h0m-4-5h0m-3 9h0m-4 5h0m-7-13h0m-2 8h0m-8 8h0m-7-8h0m-5 9h0m-3-5h0m-10-4h0m-8 2h0m-4-6h0m-3 10h0m-3-17h0m-4 13h0m0-6h0m-3-3h0m-2 8h0m-1 6h0m-8-1h0m-4-9h0m-13-2h0m-4 8h0m-2-8h0m-5 8h0m-3-9h0m-1 4h0m-1-6h0m-10 1h0m-3 11h0m0-12h0m-4 3h0m-5 9h0m-5-3h0m-4 4h0m-4-6h0m-5-3h0m-2 8h0m-13 1h0m-8-16h0m-11 0h0m-4 0h0m-4 10h0m-6 4h0m-2-4h0m-8 5h0m-4-13h0m-18 15h0m-3-1h0m-1-13h0m-9 16h0m-3-19h0m-4 15h0m-5 2h0m0-16h0m-11 12h0m-3 4h0m-10 1h0m-4-7h0m-12-7h0m0 13h0m-1-3h0m-8-11h0m-10 6h0m-6 10h0m-2-4h0m-37-4h0m-3-10h0m0 17h0m-3-7h0m-1-9h0m-14 9h0m-10-6h0m-4-3h0m-4 36h0m3-11h0m7-4h0m1 11h0m3-14h0m2 3h0m2-3h0m2 9h0m2 5h0m2 3h0m1-11h0m6 0h0m5 10h0m0-4h0m7 8h0m1-8h0m4-2h0m9 1h0m0 6h0m2-4h0m2-5h0m1 11h0m2-15h0m6-2h0m3 9h0m14 2h0m11-3h0m1-8h0m1 5h0m2-4h0m8 4h0m3 13h0m18-17h0m12 4h0m12 12h0m1-16h0m4 8h0m0-9h0m3 16h0m7-18h0m3 13h0m4-8h0m2 9h0m1-11h0m6 5h0m10 2h0m4-1h0m21 0h0m1 9h0m2-3h0m3-8h0m7 0h0m1-4h0m3 8h0m5 9h0m2-18h0m8 4h0m9 6h0m1-4h0m4-7h0m6 5h0m2 7h0m2 6h0m11-7h0m3-4h0m3-3h0m1 13h0m7-13h0m7-2h0m2 9h0m4-8h0m4 6h0m6-2h0m2 11h0m1-17h0m1 3h0m20 0h0m3 0h0m2 8h0m3-12h0m1 12h0m1 4h0m1-17h0m4 18h0m12-9h0m1 4h0m4 4h0m0-9h0m5-7h0m6 4h0m1 10h0m1-3h0m8-7h0m4 8h0m8 5h0m8-1h0m6-15h0m5 11h0m4-8h0m1 3h0m5 8h0m3-16h0m4 9h0m9 7h0m7 4h0m6-4h0m2-10h0m3-3h0m2 6h0m12-1h0m7 1h0m2 5h0m3 5h0m4-8h0m12 7h0m3-5h0m4 0h0m4-13h0m4 10h0m8 9h0m6-11h0m1 8h0m5-12h0m2 15h0m5-11h0m8 8h0m0-14h0m1 10h0m4 4h0m9 1h0m4-9h0m6 12h0m0-10h0m6 1h0m4-6h0m1 9h0m1 4h0m1-15h0m2 10h0m3 2h0m1 3h0m2-12h0m1-4h0m7 10h0m5 3h0m2-13h0m1 6h0m8 4h0m4-1h0m0 9h0m6-13h0m1-6h0m2 1h0m1 15h0m5 3h0m4-11h0m2 7h0m7 3h0m4-5h0m9 5h0m0-19h0m4 5h0m0 6h0m5-4h0m13-1h0m3 12h0m2-6h0m10 7h0m1-8h0m8-4h0m5 1h0m4 10h0m0-12h0m2 5h0m1-10h0m5 6h0m10-4h0m9 9h0m1-6h0m4-1h0m6 3h0m10-2h0m1 5h0m4-1h0m1-4h0m5 11h0m3-5h0m6 8h0m11-6h0m14 2h0m4-8h0m3-7h0m1 8h0m12-8h0m21 17h0m3-3h0m43 17h0m-86-10h0m-5 13h0m-2-5h0m-9-9h0m-17 7h0m-2-6h0m-4 2h0m-11 0h0m-1 13h0m-8-10h0m-9 5h0m-10-8h0m-15 13h0m-3-14h0m-3 10h0m-3-2h0m-2-11h0m-4 1h0m-4 17h0m-3-8h0m-3-3h0m-7 6h0m-1-9h0m-1 13h0m-2-4h0m-3 5h0m-5-3h0m-1-7h0m-1-5h0m-3 8h0m-1 4h0m-12-8h0m-21-2h0m-4 7h0m-4 0h0m-4-8h0m0 7h0m-3-4h0m-1 12h0m-2-2h0m-10-12h0m-2 10h0m0-3h0m-2-11h0m-2 12h0m-2 3h0m-3 1h0m-5-6h0m-4 7h0m-3 2h0m-2-4h0m-3-10h0m-7 3h0m-8 4h0m-6 4h0m0-12h0m-2 4h0m-2-8h0m-4 12h0m-2-11h0m-3 18h0m-2-12h0m-2 8h0m-8-3h0m0-8h0m-16 9h0m0-9h0m-4 7h0m-8 7h0m-7-17h0m-2 9h0m-7 3h0m-1-12h0m-10 7h0m-7 4h0m-7-13h0m-3 8h0m-4 4h0m-4 1h0m-1-11h0m-3 10h0m0 7h0m-6-13h0m-2 12h0m-1-3h0m-1-14h0m-5 17h0m-2-4h0m-3-3h0m-4-8h0m-1 13h0m-3-16h0m-1 13h0m-2 3h0m-2-8h0m-6-3h0m-8 2h0m-7 13h0m0-7h0m-2-3h0m-14 8h0m-3-8h0m-3-2h0m-1-5h0m-4 15h0m-4-4h0m-6 0h0m-4-4h0m-2 5h0m-1-9h0m-1 12h0m-10-6h0m-3 6h0m-3-4h0m-7-13h0m-1 6h0m-5 7h0m-1-13h0m-11 0h0m-8 15h0m-3-13h0m-1 16h0m-5-15h0m-1 4h0m-2-7h0m-3 8h0m-1-4h0m-9 14h0m-2-14h0m-7-3h0m-10 18h0m-1-17h0m-3 1h0m-2 12h0m-4 3h0m0-6h0m-2-13h0m-11 12h0m-2 3h0m-2-8h0m-2-7h0m0 19h0m0-15h0m-6-1h0m-10 2h0m-9 1h0m-1 12h0m-5-4h0m-11 4h0m-5 1h0m-16-4h0m-5-8h0m-8 4h0m-3-10h0m-2 6h0m-16 13h0m-2-4h0m0-12h0m-2-4h0m-5 13h0m-7-4h0m-4-8h0m-4 17h0m-6-7h0m-7-8h0m-6 17h0m-6-1h0m-11-1h0m-2-9h0m-3 11h0m0-8h0m-6-10h0m-1 14h0m-6-7h0m-7-4h0m-7 5h0m-6-9h0m-34 8h0m-2-4h0m-2 3h0m-4 7h0m-6-11h0m23 29h0m1 4h0m2-2h0m7-6h0m6-3h0m8 5h0m27 5h0m3-7h0m10-6h0m9 7h0m3-9h0m2 14h0m5 1h0m4-5h0m2-10h0m2 10h0m7 0h0m3 5h0m2-10h0m0 13h0m5-10h0m9 5h0m2-10h0m7 1h0m4 10h0m3-6h0m4 3h0m3-7h0m1 7h0m5-7h0m4 12h0m3-12h0m2 15h0m3-18h0m5 8h0m0 3h0m6 6h0m4-16h0m3 1h0m1 13h0m5-5h0m2 4h0m1-10h0m0 14h0m3-10h0m5-9h0m3 1h0m4 14h0m1-3h0m2 7h0m3-16h0m9 6h0m1-3h0m2-2h0m11 11h0m14-12h0m6 8h0m4-8h0m4 4h0m3 7h0m0-12h0m3 8h0m14-10h0m3 9h0m8 6h0m1-11h0m1 8h0m10-4h0m4 4h0m2-10h0m4-1h0m7 12h0m0-14h0m5 17h0m3-7h0m1-7h0m2 17h0m4-18h0m1 11h0m4 7h0m3-17h0m4 15h0m6-2h0m6-5h0m3-6h0m7 2h0m3 1h0m4 2h0m27 2h0m1-4h0m10 4h0m2-3h0m5 2h0m8-4h0m3-2h0m4 8h0m1-8h0m6 5h0m5-1h0m2 11h0m2-16h0m0 8h0m1-5h0m6 10h0m0-12h0m4 6h0m4-9h0m0 9h0m5-9h0m1 7h0m19 4h0m2-8h0m7 10h0m6-8h0m5 3h0m5-3h0m0 10h0m2-14h0m2 10h0m3 7h0m8 0h0m5-1h0m7-2h0m1-11h0m3 3h0m1-6h0m4 7h0m2 6h0m1-16h0m6 16h0m3-10h0m2 12h0m3 1h0m0-6h0m2-9h0m5 8h0m9 2h0m4-13h0m2 15h0m3-1h0m1-14h0m3 6h0m1-4h0m2 12h0m3-10h0m4 2h0m1 12h0m6-10h0m1-6h0m5-2h0m3 18h0m2-2h0m7-12h0m1 5h0m0-9h0m12 16h0m1-15h0m14 0h0m2 15h0m4-11h0m7 10h0m4-1h0m9-6h0m10-3h0m6 5h0m3-3h0m2-6h0m9 7h0m7-3h0m10-3h0m7 14h0m0-5h0m2-10h0m53 13h0m763 3h0m-45 6h0m-23 7h0m-92 8h0m-7-8h0m-22 0h0m-31-4h0m-7-4h0m-532 17h0m-1-14h0m-3-2h0m-49 16h0m-5-16h0m-13 12h0m-11-1h0m-2 3h0m-2-8h0m-5 6h0m-2-11h0m-4 2h0m-19 7h0m-2-5h0m-2-3h0m-2 5h0m-1-10h0m-5 13h0m-1-8h0m-6-1h0m-14 8h0m-14 5h0m-10 0h0m-12-1h0m-2-16h0m-7 10h0m-4 0h0m-8 8h0m-4-7h0m0-12h0m-7 12h0m-1-12h0m-3 8h0m-2 5h0m-13-5h0m-25-5h0m-2 8h0m0-5h0m-3-2h0m-4 10h0m-11-11h0m-17 16h0m-4-7h0m-5-6h0m-3 12h0m-5-12h0m-4-4h0m-10 13h0m-2-10h0m-5-2h0m-8 13h0m-5-13h0m-4 8h0m-6-9h0m-6 17h0m-15-3h0m-2-11h0m-5 11h0m-5 4h0m-5-17h0m-2 12h0m-2-10h0m-1 6h0m-5 4h0m-6-4h0m-8 8h0m0-8h0m-7-10h0m-12 17h0m-3-5h0m-2 4h0m-2-9h0m-9-5h0m-2 2h0m-8 9h0m-6-5h0m-5-2h0m-12-7h0m-2 14h0m-7-8h0m-2 10h0m-5 3h0m-1-13h0m0 5h0m-10 4h0m-1-7h0m-14 6h0m-7-12h0m-7 12h0m-7-2h0m-4 2h0m-4-3h0m-1-7h0m-7 11h0m-1 5h0m0-15h0m-16-5h0m-5 18h0m-1-9h0m-4 1h0m-2 9h0m-5-5h0m-5-10h0m-2 7h0m-4 3h0m-4-12h0m-1 16h0m-3-8h0m-7 3h0m-2 5h0m-2-16h0m0 12h0m-11-7h0m0 5h0m-4 6h0m-7 0h0m-4-7h0m-1 8h0m-10-14h0m-1 6h0m-3-3h0m-8-7h0m-2 15h0m-6 2h0m-4-3h0m-8-11h0m-7 14h0m-4 2h0m-10-13h0m-1-3h0m-8 3h0m-1 12h0m-7-15h0m-3-4h0m-1 14h0m-2-13h0m-7 2h0m-3 11h0m-3-9h0m-8 9h0m-2-9h0m-2 7h0m-7 7h0m-3-16h0m-4 12h0m0-8h0m-5 0h0m-5-4h0m-1 5h0m17 28h0m6-1h0m1-9h0m5 1h0m2 10h0m4-8h0m5-9h0m1 8h0m2 10h0m4-14h0m7 6h0m2-9h0m5 5h0m0 13h0m2-16h0m0 8h0m2 3h0m8-12h0m1 18h0m1-9h0m1-6h0m7 5h0m8-5h0m3 1h0m2 7h0m10-10h0m2 13h0m5-4h0m4 5h0m1-12h0m6 11h0m2-8h0m5 2h0m1 6h0m8-6h0m9-1h0m2 5h0m3-10h0m4 3h0m4-2h0m1 13h0m6-17h0m2 12h0m4-9h0m0 13h0m5 2h0m3-13h0m8 6h0m10 1h0m4-7h0m3 2h0m4 9h0m6-13h0m3-2h0m1 12h0m3 3h0m4-15h0m0 8h0m1 6h0m6 3h0m8-8h0m1 5h0m5-13h0m13 1h0m16 6h0m4-1h0m2 9h0m2-4h0m4-11h0m10 15h0m10-17h0m1 12h0m2-4h0m1 5h0m7-13h0m3 3h0m5 15h0m9-16h0m1 13h0m5-3h0m2-8h0m6 10h0m7-4h0m4 4h0m2-13h0m6 13h0m1-9h0m6-1h0m3 13h0m3-14h0m10 11h0m3 4h0m7-7h0m1 8h0m9-10h0m10 6h0m19-1h0m5-2h0m7-5h0m0 8h0m3-10h0m4 2h0m5 8h0m0-16h0m4 11h0m4 7h0m7-13h0m6 12h0m2-14h0m6 2h0m1 14h0m3-3h0m3-1h0m8-10h0m4 3h0m5-2h0m5 14h0m3-3h0m3-4h0m14-10h0m13 14h0m8-5h0m9 8h0m4-7h0m3-7h0m5-3h0m7 8h0m6-7h0m27 3h0m4 12h0m6-15h0m3 4h0m10-8h0m2 20h0m9-3h0m2-5h0m6-11h0m2 2h0m28 3h0m8-2h0m75 6h0m570 9h0m14-14h0m48-4h0m4 9h0m20-10h0m56 13h0m13-3h0m11 4h0m7-9h0m11-2h0m6 7h0m40-3h0m18 28h0m-18 4h0m-8 0h0m-9-8h0m-8 2h0m-4 4h0m-5-10h0m-15-7h0m-3 16h0m-14-11h0m-39 11h0m-3-11h0m-9 14h0m-23-10h0m-9 6h0m-47-15h0m-64 1h0m-7 1h0m-571 14h0m-14-13h0m-12 0h0m-11 12h0m-6-4h0m-2 6h0m-3-6h0m-2 8h0m-4-13h0m-1-5h0m-5 19h0m-6-17h0m-1 10h0m-5 6h0m-10-5h0m-13 1h0m-4-9h0m-5-5h0m-3 16h0m-6-5h0m-2 4h0m-9-15h0m-5 7h0m-4-1h0m-6 4h0m-6-1h0m-7-3h0m-8-1h0m-1 7h0m-13-5h0m-14-4h0m-14-2h0m-8 4h0m-4 5h0m-4-5h0m-4 13h0m-10-14h0m-9 0h0m-5 9h0m-3 4h0m-5-5h0m-11-5h0m-8-7h0m-5 1h0m-11 7h0m-6-9h0m-10 11h0m-22 0h0m-1 6h0m-22-17h0m-2 7h0m-8-2h0m-1 5h0m-3 8h0m-2-10h0m-6-1h0m-6 1h0m-7-8h0m-2 10h0m-6 2h0m-1 4h0m-2 2h0m-4-6h0m-6-4h0m-1-7h0m-2 19h0m-8-9h0m-5-6h0m-8 6h0m-5 7h0m-10-16h0m-2 10h0m-1 6h0m-1-13h0m-5 0h0m-14-2h0m-7 9h0m0-11h0m-10 6h0m-6-2h0m-3 9h0m-4 0h0m-5-8h0m-3 11h0m-5 2h0m-2-15h0m-1-4h0m-6 9h0m-3 11h0m-3-13h0m-6 2h0m-1 6h0m-5 5h0m-5-4h0m-5-4h0m-6 0h0m-11-4h0m-1-5h0m-6 2h0m-1 11h0m-4-1h0m-2-9h0m-1-5h0m0 10h0m-3 7h0m-1-12h0m-3 1h0m-2-4h0m-4 15h0m-7-11h0m-3 5h0m-10-6h0m-1 4h0m-5-3h0m-8 1h0m-10 11h0m-1-10h0m-9 3h0m-2 7h0m-5-15h0m-5-3h0m-1 14h0m-1-3h0m-3-8h0m-18 14h0m-1-16h0m-10 0h0m-16 5h0m23 23h0m0-4h0m1-5h0m8 8h0m0 7h0m5-15h0m3 5h0m13-5h0m3 16h0m1-17h0m10 7h0m1 6h0m7 5h0m3-12h0m6 10h0m7-8h0m2 3h0m5-9h0m3 14h0m0-5h0m4-11h0m2 16h0m6-15h0m1 15h0m1-9h0m10-6h0m0 10h0m6 7h0m4-15h0m10 11h0m1-12h0m0 9h0m9 4h0m7-2h0m1 4h0m2-9h0m3 2h0m1 4h0m3 4h0m9-12h0m0 5h0m2 8h0m7-17h0m1 14h0m13 0h0m4-4h0m7 0h0m3 5h0m9-15h0m4 14h0m6 2h0m3-2h0m3 4h0m5-14h0m7 4h0m2-4h0m1 10h0m14 4h0m4-17h0m0 8h0m9-1h0m2-5h0m2 4h0m8 6h0m4-6h0m7 9h0m0-16h0m4 10h0m4-3h0m1 3h0m1 7h0m3-18h0m12 10h0m17 4h0m1-12h0m23-2h0m33 3h0m8 7h0m4-5h0m1-5h0m1 14h0m6-2h0m13-5h0m3 8h0m2-9h0m1-7h0m8 10h0m3-10h0m13 19h0m20-2h0m3 0h0m16 2h0m2-16h0m17-2h0m13 15h0m4 2h0m1-14h0m3 3h0m10 0h0m3-7h0m6 15h0m1-11h0m33 0h0m3 11h0m3-11h0m17 8h0m10-3h0m5 0h0m9 3h0m6-4h0m5 11h0m5-16h0m5 4h0m2-6h0m40 12h0m4-3h0m15-3h0m640-3h0m46 13h0m1-9h0m20 11h0m82-7h0m4-4h0m2-6h0m4 15h0m3-9h0m4 2h0m4 7h0m15-15h0m2 25h0m-2-6h0m-2 14h0m-4-10h0m-21 4h0m-97-1h0m-14-3h0m-3 10h0m-713 3h0m-13-1h0m-11-17h0m-2 16h0m-2-16h0m-2 18h0m-13 0h0m-11-18h0m-7 7h0m-4 1h0m-8-7h0m-1 8h0m-6-7h0m-11 2h0m-4 14h0m-2-18h0m-3 1h0m-4 19h0m-1-10h0m-11 0h0m-16-1h0m-1 8h0m-7-15h0m-6 17h0m-22-18h0m-4 18h0m-4-10h0m-1 10h0m0-18h0m-3 13h0m-5 2h0m-3-6h0m-7 1h0m-14-5h0m-1 8h0m-1 3h0m-1-9h0m-30 0h0m-4 8h0m-1-12h0m-3-3h0m-6 11h0m-6 3h0m-13-13h0m-13 0h0m-4 3h0m-2 6h0m-3 7h0m0-8h0m-11-8h0m0 4h0m-3-3h0m-5 1h0m-2 12h0m-11-10h0m-13 12h0m-1-9h0m-1 3h0m-8-5h0m-3 12h0m0-5h0m0-4h0m-6-6h0m-18 12h0m-3-9h0m-4 1h0m-8-1h0m-1 13h0m-11-18h0m-1 15h0m-4-7h0m-4-9h0m-2 13h0m-4-14h0m-6 7h0m-2 9h0m-4-7h0m-6 1h0m-2-5h0m-7 7h0m-4 5h0m-3-11h0m-4 0h0m-10 10h0m-21-2h0m-4-11h0m-1 14h0m-7-7h0m-5 4h0m-5-1h0m-3-7h0m-1 6h0m-5 1h0m-5 4h0m-6-2h0m-7-7h0m-8 12h0m-4-15h0m-20 2h0m0 12h0m-3-17h0m-8 10h0m-3-3h0m-2 8h0m-9-1h0m-6-8h0m-2-6h0m-2 15h0m-3-14h0m-8-3h0m0 5h0m-5 0h0m-1 11h0m-6-10h0m-5 5h0m-6-4h0m-10 6h0m-2-5h0m-24-8h0m20 23h0m16 1h0m16-1h0m9 16h0m7-11h0m7 0h0m0 8h0m15-15h0m4 6h0m3-6h0m13 6h0m7-6h0m15 10h0m3 3h0m1-6h0m9-3h0m9 3h0m1 10h0m2-6h0m1-12h0m6 1h0m0 17h0m7-7h0m3-5h0m2-3h0m6 15h0m3-16h0m2 16h0m15-4h0m5 1h0m2-11h0m14 14h0m2-5h0m10-9h0m0 12h0m14 2h0m20-8h0m2-2h0m13 8h0m0-8h0m2 5h0m11-4h0m7 0h0m14 10h0m3-12h0m5 12h0m23-7h0m2-4h0m0-7h0m5 14h0m22-13h0m3 12h0m5-12h0m1 8h0m5 5h0m0-10h0m4-1h0m0 14h0m37-4h0m5-11h0m9 6h0m13-6h0m6 13h0m30-4h0m40 2h0m1-5h0m22-5h0m5 7h0m8 3h0m0-4h0m30-1h0m13-5h0m25 10h0m7-3h0m16-4h0m2 13h0m2-10h0m3 9h0m0-16h0m1 4h0m1 6h0m19-7h0m705 6h0m8-8h0m5 11h0m4-6h0m8 5h0m16-2h0m107-2h0m-37 10h0m-37 8h0m-24 6h0m-6-8h0m-6 8h0m-737-6h0m-6-7h0m-32 5h0m-3-1h0m-2-2h0m-3 10h0m-12 4h0m-14-8h0m-3 5h0m-1-13h0m-3 5h0m-25 10h0m-2-16h0m-26 9h0m-12 8h0m-25-3h0m-1 3h0m-1-9h0m-3 8h0m-4-7h0m-7 9h0m-62-13h0m-2 13h0m-4-11h0m-2 7h0m-10-1h0m-1 3h0m-37-4h0m-2-10h0m-3 12h0m-5-4h0m-4 0h0m-21 0h0m-13-3h0m-19 10h0m-26 2h0m-2-15h0m-11 12h0m-4-8h0m-5 2h0m0 7h0m-5-10h0m-5 9h0m-8 2h0m-8-7h0m-5 2h0m-11 2h0m-2-9h0m-3 13h0m-4-13h0m-5 7h0m-2-3h0m-1 10h0m-2-18h0m-5-1h0m-4 8h0m-38 7h0m-6-10h0m-3 14h0m-19-14h0m0 8h0m-9-2h0m-27-3h0m-7-4h0m-6 7h0m19 13h0m12 4h0m2 10h0m10-12h0m7 6h0m9-6h0m1 7h0m6-2h0m6-12h0m4 6h0m4-5h0m16 15h0m6-5h0m3 6h0m4-2h0m11-7h0m3 8h0m9 0h0m6-5h0m3-5h0m12 13h0m2-11h0m9 4h0m5-8h0m7 12h0m13-15h0m0 8h0m8 2h0m4-10h0m0 3h0m4 10h0m12-7h0m1-3h0m4 9h0m4-9h0m2 12h0m6-4h0m12-10h0m0 17h0m16-7h0m3 5h0m11-14h0m14 8h0m1-6h0m6 4h0m1-5h0m12 4h0m17 9h0m21-16h0m15 7h0m45 6h0m7-2h0m6-2h0m2 9h0m4-17h0m3 9h0m32-7h0m48 7h0m1-6h0m13-5h0m5 19h0m7-18h0m1 10h0m13 2h0m1 5h0m14-15h0m774 10h0m12 0h0m6 7h0m2-11h0m9-6h0m8 12h0m5-10h0m17 8h0m19 26h0m-9-6h0m-6-11h0m-39 8h0m-14-6h0m-3 13h0m-808-17h0m-5 10h0m-23 7h0m-27-1h0m-5-2h0m-3-4h0m-5-3h0m-6-6h0m-8 15h0m-2-13h0m-7 7h0m-18-7h0m-24 15h0m-12-10h0m-13 7h0m-15-12h0m-6 15h0m-7-12h0m0 4h0m-7-6h0m-3 4h0m-3 0h0m-5-5h0m-4 3h0m-2 2h0m-7 4h0m-2-7h0m-6 6h0m-4-9h0m-6 7h0m-2-3h0m-7 3h0m-4 3h0m-9-2h0m-31 5h0m-4 3h0m-21-18h0m-11 17h0m-12-1h0m-2-13h0m-3 7h0m-8-4h0m-7 5h0m-5-7h0m0 8h0m-21-5h0m-25 3h0m-14 2h0m-8-2h0m-2 9h0m-2-15h0m-9 16h0m-1-3h0m-7-3h0m-7-11h0m-15 9h0m-5-9h0m-15 8h0m52 13h0m23 0h0m2 4h0m47 5h0m13-7h0m0 12h0m5 0h0m7-12h0m16 6h0m13-1h0m1-5h0m37 9h0m3-5h0m26 9h0m7-5h0m13-8h0m10-6h0m1 16h0m4 2h0m42-1h0m16-15h0m10 8h0m21 5h0m15-4h0m23 2h0m3 2h0m13-12h0m6 6h0m8-5h0m9 13h0m7-7h0m8 5h0m11 0h0m24-5h0m2-6h0m854-3h0m2 9h0m4 6h0m0-11h0m6 7h0m7 4h0m8-4h0m9 4h0m6-9h0m5-2h0m2 11h0m-9 4h0m-13 5h0m-6 10h0m-9-10h0m-904-1h0m-4 6h0m-22-1h0m0 10h0m-11-4h0m-1-14h0m-2 9h0m-9-7h0m-4-1h0m-12 2h0m-8 6h0m-5-3h0m-6 0h0m-13-1h0m-53 4h0m-2-5h0m-5 8h0m-12-12h0m-3 0h0m-3 6h0m-9 5h0m-14-10h0m-1 16h0m-5-2h0m-3-16h0m-33 0h0m-16 19h0m-27-18h0m-21 1h0m65 18h0m26 8h0m5 5h0m16-3h0m11 9h0m6 0h0m1-16h0m5 12h0m9-11h0m6 11h0m1-5h0m4 1h0m1 7h0m22-15h0m2 3h0m9 3h0m6 0h0m2 6h0m9-4h0m12-8h0m7 3h0m0 10h0m3-10h0m10 2h0m0 8h0m12 4h0m5-11h0m2-8h0m0 12h0m19-1h0m-42 11h0m-9 17h0m-18-6h0m-2 3h0m-6-9h0m-4-2h0m-4 13h0m-2-17h0m-8 9h0m-3-10h0m-9 1h0m-28 3h0m-41 2h0m252 41h0m-1783 267h0m13-4h0m21-2h0m7 3h0m7 4h0m1-15h0m7 12h0m7 3h0m2-6h0m6 4h0m8 1h0m5-9h0m6 3h0m3-5h0m6 15h0m7-16h0m4 1h0m4 15h0m1-4h0m11 2h0m28-1h0m18 3h0m12-1h0m21-3h0m15-3h0m2 8h0m25-5h0m17 3h0m9-1h0m35-7h0m17 8h0m54 20h0m-15-3h0m0-3h0m-13-1h0m-2 3h0m-3 3h0m-2-13h0m-4 2h0m-4 12h0m-3-15h0m-2 3h0m-6 9h0m-8-9h0m-12 10h0m-3 2h0m-4-7h0m-2-2h0m-15 10h0m-7-12h0m-11 0h0m-8 2h0m-3-5h0m-8 2h0m-7 11h0m-1-4h0m-11-6h0m-12 7h0m-15-10h0m-5 2h0m-15 14h0m-34-11h0m-14 6h0m-2-3h0m-5-11h0m-5 9h0m-5-5h0m-9 12h0m-2-3h0m-4-9h0m-5 4h0m-1 10h0m-14-14h0m-4 2h0m-1 9h0m-6 3h0m-15-19h0m-4 5h0m-10-1h0m0 11h0m-2 3h0m-5-17h0m-5 5h0m-5 3h0m-1 8h0m-3-6h0m-2-2h0m-8-7h0m-4 17h0m-12-6h0m-3 7h0m-6-4h0m-2 8h0m3 6h0m5 7h0m7-14h0m3 13h0m4 1h0m1-13h0m2 9h0m4-12h0m2 13h0m6-4h0m3 4h0m18-10h0m1 3h0m14-4h0m8-2h0m4 12h0m2-3h0m9 9h0m4-6h0m7 4h0m3-8h0m13-5h0m11 13h0m3-1h0m4 1h0m4-10h0m24 11h0m1-6h0m5 0h0m4 4h0m30-14h0m5 15h0m11-16h0m17 11h0m1 7h0m1-18h0m8 9h0m9-4h0m3 14h0m18-7h0m2 6h0m9-7h0m9-1h0m8-6h0m0 14h0m17-19h0m9 14h0m5 1h0m2-5h0m6 5h0m7 0h0m11 3h0m9-4h0m24-9h0m6 14h0m10-3h0m7-3h0m2-3h0m0-7h0m8 6h0m1 11h0m8-8h0m5 6h0m59 20h0m-39-11h0m-11 2h0m-11-8h0m-10 12h0m-11 5h0m-1-10h0m-2 3h0m-6-9h0m-7 14h0m-3-9h0m-6 9h0m-4 1h0m-8-14h0m-11 8h0m-29-10h0m-3 1h0m-5 3h0m-5 14h0m-4-8h0m-1-8h0m-14-2h0m-16 16h0m-5 2h0m-6-10h0m-10-6h0m-5 13h0m-3-10h0m-3-6h0m-21 19h0m-1-5h0m-1-11h0m-4 3h0m-4-4h0m-2 18h0m-1-19h0m-12 4h0m-8 8h0m-6-2h0m-2-8h0m-4 6h0m-27 0h0m-10 5h0m-7-6h0m-10 2h0m-2-2h0m-8 8h0m0-6h0m-8 1h0m-11 5h0m-3-15h0m-2 13h0m0-8h0m-5 2h0m-2 2h0m-13 9h0m-11-2h0m-7 2h0m0-13h0m-5 4h0m0-9h0m-11 0h0m-8 2h0m-6 14h0m-6-5h0m-1 4h0m-3-4h0m-9 7h0m-2-5h0m8 12h0m34-5h0m1 3h0m16 3h0m5-6h0m5 4h0m23 8h0m10 6h0m2-17h0m12 6h0m12-6h0m8 17h0m4-9h0m1-8h0m3 10h0m5-4h0m5-3h0m5 8h0m4 5h0m11-6h0m5-9h0m5 3h0m5 10h0m13-14h0m1 18h0m3-2h0m2-11h0m3 1h0m6 9h0m8-10h0m1 13h0m13-15h0m9 6h0m5-2h0m2 6h0m7-6h0m0 9h0m2-12h0m10-2h0m10 7h0m5-1h0m9 2h0m4 0h0m5 2h0m1-6h0m14 3h0m9 2h0m3 1h0m6-12h0m4 16h0m4-6h0m3 5h0m1-6h0m8-2h0m6 4h0m2 2h0m2-9h0m1 14h0m11-10h0m16-3h0m2 9h0m9-3h0m13 1h0m0-14h0m4 11h0m2-7h0m2 5h0m1 6h0m2-3h0m3 7h0m4-10h0m3 10h0m4-17h0m14 12h0m16-9h0m3 8h0m3-9h0m5 15h0m4-17h0m13 1h0m8 11h0m3-8h0m5 11h0m19 2h0m40 0h0m6 10h0m-6 6h0m-14 2h0m-2-8h0m0 4h0m-10-7h0m-8-1h0m-10-1h0m-6 10h0m-20-10h0m-17 6h0m-14 9h0m-10-10h0m-2 7h0m-1-3h0m-8 7h0m0-6h0m-22-5h0m-5-1h0m-5-5h0m-4 17h0m-2-9h0m-1-4h0m0-5h0m-6 9h0m-6 8h0m0-17h0m-7 5h0m0 6h0m-6-1h0m-4 0h0m-2 5h0m-9-5h0m-4 7h0m-3-11h0m0 7h0m-22-1h0m-5-7h0m-3 11h0m-2-14h0m0 9h0m-7 2h0m-2-14h0m-1 4h0m-2-1h0m-5 10h0m-4 0h0m-2-6h0m-17 6h0m-10-1h0m0-9h0m-3 6h0m-2-3h0m-12 12h0m0-5h0m-3-9h0m-5-4h0m-4 10h0m0 8h0m-9-18h0m-12 12h0m-2 5h0m-8-6h0m-6 1h0m-3-9h0m-2 10h0m-7 5h0m-6 0h0m-4-10h0m-2-5h0m0 11h0m-5-14h0m-1 5h0m0 4h0m-6 6h0m-13-16h0m-1 13h0m0-4h0m-25 4h0m0-8h0m-6 8h0m-4-5h0m-7-7h0m-7 5h0m-2 13h0m-6-12h0m0-3h0m-8-3h0m-1 6h0m57 13h0m16 11h0m1-9h0m1 15h0m6-9h0m2-5h0m3 6h0m5 2h0m13-8h0m4 2h0m7 5h0m4-9h0m7 13h0m1 3h0m2-10h0m3-6h0m3 18h0m1-12h0m2-3h0m16 7h0m5 6h0m3-2h0m1-8h0m25 11h0m7-10h0m6-3h0m4 9h0m9-2h0m1 5h0m0-10h0m4 4h0m4-7h0m4 2h0m3 2h0m1-4h0m27 2h0m0-3h0m12 9h0m4-9h0m3 17h0m2-18h0m3 17h0m20-2h0m5-11h0m19-3h0m0 11h0m3 2h0m2-12h0m1-4h0m9 13h0m4 6h0m7-12h0m2-1h0m0 11h0m10-3h0m4-12h0m14 4h0m22 13h0m4-15h0m4 9h0m3-5h0m8-7h0m22 11h0m4-8h0m3 15h0m1-15h0m8 0h0m3 14h0m10-14h0m31 13h0m11-14h0m9 5h0m2-4h0m3 1h0m19 11h0m9-14h0m2 7h0m2 4h0m3 4h0m14-8h0m36 8h0m12 3h0m29 17h0m-29-10h0m-6 8h0m-1-11h0m-2 7h0m-20-9h0m-10 4h0m-4 14h0m-1-10h0m-7 4h0m-21 0h0m-10-11h0m-5 2h0m-1 5h0m-3-6h0m-5-4h0m-11 11h0m-9-8h0m-2 13h0m-5-4h0m-4-3h0m-4 10h0m-36-5h0m-11 3h0m-1-12h0m-3 6h0m-11 3h0m0-10h0m-1 15h0m-14-15h0m-10 12h0m-3-5h0m-10 9h0m0-8h0m-4 4h0m-25-8h0m-7 1h0m-4 9h0m0-4h0m-27-7h0m-4 2h0m-1 4h0m-6-8h0m-11 10h0m-8 1h0m-6-15h0m-17 18h0m-5-15h0m-4 4h0m-2 9h0m-6-1h0m-4-4h0m-1 6h0m-22-5h0m-5-3h0m-8-7h0m-2 11h0m-4-5h0m-1-7h0m-12 9h0m-7-7h0m-24-3h0m-3 9h0m-4 5h0m-5-11h0m-3-3h0m-3 4h0m-4 9h0m-1-6h0m-5 11h0m-2-4h0m-3-7h0m-3 7h0m-12 2h0m-5-6h0m-7 4h0m-5-9h0m-2-6h0m-2 17h0m-3-8h0m-8-1h0m-2-6h0m-5 10h0m-2-11h0m-3 5h0m0 4h0m-5-7h0m11 18h0m4 0h0m19 6h0m112-2h0m6 6h0m1-3h0m4 0h0m8 9h0m5-16h0m8 3h0m4 1h0m6-4h0m6 11h0m2 5h0m2-2h0m3-9h0m11 8h0m1-3h0m2 7h0m4-4h0m15-11h0m1 10h0m9-6h0m4 1h0m3-7h0m1 15h0m0-11h0m3 6h0m2-9h0m5 0h0m2 16h0m3-8h0m2-7h0m10 9h0m5-8h0m2 13h0m3 0h0m7-17h0m1 14h0m19-4h0m1 4h0m5-12h0m20 12h0m5-13h0m23 10h0m9-6h0m8 0h0m1 11h0m6-2h0m7-8h0m1-5h0m3 7h0m5 1h0m6 1h0m4 4h0m5-3h0m7-4h0m4 9h0m5-14h0m7 4h0m10 12h0m3-11h0m18-5h0m24 12h0m7-4h0m5 6h0m64-8h0m15-7h0m9 12h0m20 4h0m29 14h0m-18 1h0m-7 5h0m-4-9h0m-3-6h0m-1 5h0m-5 11h0m0-14h0m-2 4h0m-13 9h0m-8-10h0m-1 13h0m-7-20h0m-10 7h0m-5 3h0m-12 0h0m-20 8h0m-6 0h0m-1-17h0m-2 12h0m-10-1h0m-1-10h0m-5 13h0m-2 3h0m-4-2h0m-4-11h0m-12-1h0m-13 1h0m-5 2h0m-3 4h0m-21 2h0m-11-8h0m-18 6h0m-41 6h0m-8-9h0m-7 3h0m-6 2h0m-6-7h0m-5-4h0m-4 12h0m-3-5h0m-9-1h0m-10-2h0m-2 6h0m-7-10h0m0 14h0m-8 3h0m-3-11h0m-1 4h0m-13-2h0m-15 10h0m-3-8h0m-10-6h0m-2 7h0m-29-13h0m-5 2h0m62 26h0m6 0h0m7-5h0m9 3h0m5 1h0m3-2h0m4-3h0m6 8h0m1-7h0m1 13h0m11-6h0m15-6h0m21-4h0m2 13h0m1 3h0m1-13h0m2-2h0m1 5h0m7 5h0m11-9h0m2 17h0m20 0h0m1-10h0m18-1h0m5-8h0m3 17h0m2-16h0m2 4h0m5 7h0m14 1h0m6 6h0m5-2h0m11-9h0m16 11h0m19-8h0m16 6h0m0-9h0m16-6h0m1 18h0m1-4h0m1-14h0m6 14h0m3-5h0m10-5h0m9 5h0m1 4h0m2 2h0m1-12h0m1 4h0m12-8h0m0 12h0m12 1h0m3-12h0m3 12h0m19-11h0m4 11h0m4 2h0m6-8h0m4 11h0m29 12h0m-11 7h0m-3-5h0m-6-11h0m-6 5h0m-8 0h0m-5 4h0m-13 8h0m-4-14h0m-12 1h0m-2 3h0m-11 3h0m-10 1h0m-1-12h0m-3 9h0m0 3h0m-9 5h0m-8-18h0m-1 12h0m0 3h0m-3-3h0m-5 3h0m-1 4h0m-6-14h0m-4 12h0m-7-3h0m-1-6h0m-3 4h0m-6 3h0m-7 4h0m-3-19h0m-1 10h0m-4 5h0m-6 2h0m-7 1h0m0-10h0m-9-7h0m-15 12h0m0-8h0m-4 0h0m0 7h0m-4-8h0m-2 14h0m-4-4h0m0-8h0m-5 1h0m-1 8h0m-4-10h0m-2 3h0m-3-5h0m-1 17h0m-6-6h0m-1-4h0m-12-10h0m-1 9h0m-1 7h0m-1-13h0m-8 12h0m-8-2h0m-3-11h0m-3 2h0m-2-4h0m0 8h0m-1-2h0m-6-3h0m-1 15h0m-15-18h0m-9 4h0m-5 7h0m-1-9h0m-10 15h0m-9-11h0m-1 5h0m-6-5h0m-2 9h0m5 7h0m4 4h0m8 3h0m6-8h0m3 3h0m5 1h0m7-3h0m4 10h0m7-2h0m10-6h0m9-4h0m1 10h0m8-3h0m0-6h0m13 10h0m1-9h0m16 16h0m6-10h0m4 8h0m2-7h0m4 7h0m0-14h0m11 5h0m0 6h0m1 5h0m1-9h0m5-7h0m0 12h0m5 5h0m1-10h0m0-6h0m1 9h0m5-3h0m2-6h0m5 15h0m2-9h0m3 6h0m5-11h0m6 8h0m3 3h0m4-3h0m3 3h0m4-9h0m4 0h0m8-5h0m3 1h0m4 1h0m8 2h0m22-3h0m51 1h0m40 2h0m-141 16h0m-10 2h0m-10 5h0m-32-7h0m1575 38h0m18-6h0m36 6h0m222-7h0m-4 11h0m-12 0h0m-6-2h0m-20 8h0m-3-7h0m-7 1h0m-14 8h0m-7-3h0m-6 11h0m-15-14h0m-9 6h0m-13-6h0m-68 6h0m-47 0h0m-9-10h0m-9 10h0m-3-8h0m-5 8h0m-4 9h0m-4-17h0m-5 0h0m-4 8h0m-10 2h0m-7-2h0m-6-2h0m0 9h0m-6-13h0m-5-3h0m-2 11h0m18 15h0m6-6h0m4 2h0m4 6h0m10 2h0m7-4h0m6 4h0m6-2h0m6 2h0"/>
<path stroke="#fe9f6d" d="M1554 437h0m-7-4h0m-19 0h0m-82 6h0m-91 13h0m94-11h0m53 1h0m122 14h0m27 16h0m-31-5h0m-34-3h0m-60 2h0m-101-3h0m-40 4h0m-91 29h0m12-14h0m10 14h0m0-5h0m33-5h0m23-6h0m15 17h0m13-11h0m33 7h0m15-4h0m28 3h0m142-9h0m10 14h0m20-5h0m6 7h0m22 0h0m24 1h0m220-10h0m24-10h0m1 17h0m72 15h0m-60 1h0m-14 1h0m-17 2h0m-14-5h0m-15 4h0m-24-12h0m-28 2h0m-3 9h0m-6-2h0m-6-3h0m-4 10h0m-8-7h0m-6-9h0m-2 12h0m-2-3h0m-67-4h0m-2 4h0m-44 8h0m-41-8h0m-35 5h0m-18-15h0m-26 6h0m-19-6h0m-21 9h0m-47 6h0m-9-13h0m-9 9h0m-45-4h0m-42-8h0m-99 3h0m-104 24h0m1 12h0m104-15h0m4 5h0m6-1h0m18-7h0m26 11h0m44 1h0m63-11h0m56-2h0m20 16h0m0-11h0m8 13h0m2-14h0m113-4h0m6 14h0m4-10h0m19-4h0m1 15h0m7-12h0m53-2h0m31 15h0m43-1h0m8-5h0m15 0h0m14-1h0m14 1h0m48-3h0m37-2h0m30 7h0m19 3h0m54-4h0m25 24h0m-4 3h0m-11-17h0m-88 1h0m-70 7h0m-8 4h0m-79 2h0m-22-5h0m-19-1h0m-18 8h0m0-4h0m-16-1h0m-11 1h0m-71-8h0m-16-1h0m-11-4h0m-95 14h0m-21-9h0m-11 4h0m-47-6h0m-31-2h0m-14 6h0m-211-4h0m49 17h0m84 5h0m38 1h0m41-3h0m83 1h0m5 14h0m23 0h0m35-14h0m44 4h0m36-1h0m16 1h0m17 10h0m3-15h0m21 3h0m33 5h0m15-2h0m0 7h0m10-3h0m4-10h0m36 10h0m12-10h0m8 3h0m4 7h0m14 1h0m42 0h0m20 2h0m58-16h0m17 11h0m30 3h0m25 4h0m2-10h0m28 6h0m19 2h0m11-5h0m12-4h0m30 10h0m23 13h0m-11 2h0m-83-11h0m-10 14h0m-14 3h0m-57-13h0m-1 9h0m-70-4h0m-9 1h0m-31-6h0m-39-1h0m-37 14h0m-12-16h0m-20 4h0m-7 6h0m-47-5h0m-17 12h0m-23-4h0m-10-9h0m-75 3h0m-1 7h0m-15-5h0m-2 7h0m-32-13h0m-27-3h0m-2 15h0m-8-12h0m-14 6h0m-15 2h0m-20-5h0m-3-7h0m-69 15h0m-47 1h0m-151 13h0m7-2h0m97-8h0m13 15h0m25 3h0m11-7h0m15 1h0m75-13h0m21 3h0m76 0h0m14 16h0m2-4h0m81 0h0m27-13h0m35 1h0m4 16h0m16-1h0m4-5h0m17-8h0m32 2h0m39-5h0m13 1h0m30 0h0m18 13h0m58-5h0m9 7h0m1-16h0m13 16h0m57-1h0m48-15h0m55 1h0m22 0h0m27 9h0m1-7h0m24 13h0m2 13h0m-46-4h0m-12-5h0m0 6h0m-3-6h0m-17 15h0m0-7h0m-14-5h0m-19 12h0m-8-7h0m-63 3h0m-9 5h0m-3-2h0m-6-6h0m-31-7h0m-8 16h0m-64 1h0m-61-20h0m-5 20h0m-11-12h0m-3-4h0m-30 4h0m-4-3h0m-32-1h0m-63 10h0m-24-2h0m-109-7h0m-11 8h0m-8 4h0m-70-3h0m-142-7h0m-31 2h0m-9 7h0m-40-8h0m-36 12h0m-24-13h0m-10 4h0m-11 2h0m-38 11h0m115 8h0m57 0h0m23-3h0m29 4h0m13 1h0m11-2h0m159-7h0m19 10h0m62-1h0m3-7h0m21 13h0m3-8h0m0 4h0m26-8h0m71-1h0m9 9h0m11-1h0m57-6h0m77-2h0m10 10h0m12-6h0m22 9h0m5-2h0m15-12h0m14-1h0m36-3h0m45 11h0m107-9h0m41 2h0m17 31h0m-170-17h0m-64 16h0m-5-14h0m-23 6h0m-7 0h0m-7 0h0m-63 4h0m-36 4h0m-7-1h0m-36-10h0m-19 7h0m-9-12h0m-20 12h0m-14-6h0m-21-1h0m-20 10h0m-2-2h0m-19 4h0m-30-7h0m-20-5h0m-84 10h0m-6-11h0m-72 10h0m-15-5h0m-13 8h0m-13-1h0m-66-11h0m-7 9h0m-36 2h0m-23-14h0m-3 11h0m-30 3h0m-137-2h0m-5 4h0m-7-3h0m74 16h0m13-4h0m13 5h0m44 6h0m50-1h0m11-5h0m6-10h0m4 8h0m31-6h0m72 6h0m19-7h0m18-2h0m54 14h0m124-14h0m33 16h0m8-6h0m22 2h0m3-7h0m56 9h0m29 4h0m7-14h0m21 8h0m13-8h0m29-2h0m13 0h0m7 16h0m19-19h0m96 3h0m7-3h0m6 4h0m2 2h0m13-4h0m19 18h0m16-17h0m20 10h0m71-11h0m76 16h0m24-8h0m-1 18h0m-7 7h0m-148-8h0m-5 10h0m-2-3h0m-14 1h0m-25-14h0m-5 5h0m-45 10h0m0-15h0m-11 11h0m-11 6h0m-36-16h0m-1 17h0m-100-12h0m-42-6h0m-4 0h0m-5 7h0m-2-7h0m-6 9h0m-17 5h0m-11-12h0m-9 3h0m-5 9h0m-36-5h0m-34 5h0m-10-13h0m-16 14h0m-57-3h0m-137-1h0m-26-2h0m-48-7h0m-41-3h0m-69 2h0m-34 15h0m-36-12h0m-16-2h0m-21-1h0m-67 6h0m24 21h0m6 4h0m48-7h0m5-3h0m36 15h0m10-12h0m77-4h0m29 10h0m51-9h0m18 16h0m6-14h0m6 7h0m11 2h0m100 1h0m53 5h0m21-12h0m6 1h0m115-3h0m34 6h0m12-10h0m13 6h0m21 2h0m7-3h0m7 2h0m17-2h0m14 11h0m15-9h0m31-2h0m45-3h0m93 0h0m30-1h0m14 3h0m22-6h0m2 5h0m35 12h0m43-4h0m30-4h0m25-5h0m-93 27h0m-11-6h0m-34-2h0m-1 5h0m-23 7h0m-1 4h0m-13-16h0m-54 7h0m-5 4h0m-40 2h0m-28-15h0m-19 1h0m-59 5h0m-3 6h0m-9-10h0m-40 4h0m-67 3h0m-3 2h0m-9 2h0m-109 0h0m-3-12h0m-63 7h0m-77 0h0m-23-8h0m-7-1h0m-17 1h0m-11 10h0m-62-6h0m-30 11h0m-53-2h0m-9 3h0m-40-6h0m-29 2h0m-36-4h0m-21-6h0m-6 6h0m-10 2h0m-10 7h0m-14 22h0m18-3h0m11-3h0m25-12h0m36 13h0m14-15h0m2 7h0m29 4h0m11 8h0m0-7h0m59 7h0m44-9h0m12 4h0m41 4h0m10-13h0m14 11h0m17-8h0m231-6h0m16 11h0m10-4h0m28 4h0m83 2h0m15-5h0m31-4h0m4 9h0m41-6h0m1-3h0m4 2h0m134 3h0m47-7h0m24 12h0m23 0h0m9-10h0m6 11h0m19-8h0m41-6h0m18 34h0m-96 0h0m-13 1h0m-61-9h0m-1 7h0m-41 4h0m-10-5h0m-9 5h0m-80-2h0m-21-10h0m-8 10h0m-48-8h0m-5 3h0m-16-5h0m-64 3h0m-28-3h0m-32 6h0m-23-1h0m-9-1h0m-41 3h0m-10-6h0m-10-4h0m-109 13h0m-208-11h0m-45 6h0m-16 4h0m-46-3h0m-2-13h0m-1 10h0m-28 4h0m-10-2h0m-11 2h0m-21-13h0m-11 25h0m10 1h0m4-2h0m11 1h0m57 10h0m33-1h0m2-3h0m3 4h0m12-12h0m43 3h0m1-4h0m4 0h0m13-4h0m3 2h0m26 5h0m302 1h0m4 8h0m17-4h0m49-5h0m4 5h0m8-3h0m18 10h0m64-9h0m16-6h0m7 6h0m11-7h0m13 9h0m4-7h0m101 10h0m19-6h0m8-4h0m7 15h0m16-8h0m19-12h0m20 19h0m25-19h0m16 5h0m17 11h0m32-9h0m36-2h0m8 6h0m9-7h0m14 5h0m20 8h0m-18 3h0m-6 2h0m-60 13h0m-10-11h0m-25 16h0m-21-14h0m-12 8h0m-6 6h0m-12-16h0m-1 15h0m-35-13h0m-19 8h0m-10 6h0m-13-18h0m-4 3h0m-82 4h0m-3-3h0m-21 13h0m-5-17h0m-6 5h0m-6 7h0m-8-5h0m-6-1h0m-19-5h0m-13 17h0m-22-5h0m-10-6h0m-18 9h0m-31-16h0m-38 14h0m-25-16h0m-45 13h0m-3 2h0m-25-7h0m-17 9h0m-293-16h0m-9 17h0m-3-2h0m-9-8h0m-6 6h0m-7-10h0m-22 1h0m-1 9h0m-6 3h0m-1-4h0m-26-8h0m-3 12h0m-4 0h0m-6-10h0m-3-5h0m-32 2h0m-2 8h0m-5 1h0m-2-12h0m-1 15h0m-3 2h0m-3-9h0m28 29h0m8-11h0m6-1h0m8 5h0m11 8h0m16-6h0m53-13h0m4 9h0m123-1h0m131 10h0m129-17h0m42 10h0m12 2h0m11-5h0m19 9h0m11 1h0m11 1h0m9-15h0m1 5h0m48-4h0m40 6h0m49-10h0m2 15h0m20 1h0m43 1h0m2-3h0m6-9h0m3-3h0m11 8h0m23-6h0m16 0h0m72 7h0m3-9h0m7 0h0m42 27h0m-14 7h0m-4-1h0m-41-12h0m-23 15h0m-85-13h0m-4 5h0m-2-9h0m-33 15h0m-5-12h0m-13 8h0m-3-11h0m-5 1h0m-4 1h0m-5-4h0m-2 5h0m-9 7h0m-38-2h0m-5 1h0m-115-5h0m-206-4h0m-105 8h0m-132 3h0m-18 3h0m-17-12h0m-7 11h0m-30-8h0m-1-4h0m-18 15h0m-44-1h0m-5-11h0m-17-5h0m16 27h0m37 5h0m6 6h0m16-6h0m6 3h0m29-2h0m68-5h0m5 8h0m107-8h0m273 8h0m120-15h0m37 9h0m40-4h0m2 8h0m22-8h0m5 5h0m5-7h0m11-3h0m19 5h0m21 3h0m87 6h0m28-14h0m-11 33h0m-16-13h0m0 8h0m-11-7h0m-25 17h0m-19-3h0m-7-10h0m-1 8h0m-11-4h0m-4 8h0m-3-17h0m-52 10h0m-15-10h0m-3 0h0m-6 8h0m-17 3h0m-219 4h0m-275-4h0m-14 0h0m-158-10h0m-3 8h0m-29 4h0m-5-2h0m319 22h0m28-3h0m372-11h0m80 2h0m19 2h0m22 14h0m21-6h0m6-7h0m2 9h0m26 9h0m-51 14h0m-76-11h0m-33-4h0m-347-2h0m-51 17h0m-123 2h0m-2-9h0m248 13h0m80-3h0m268 9h0m35 7h0m-107 5h0m-184 0h0m0 23h0m15 12h0m94 0h0m49-17h0m74 14h0m23-10h0m33 1h0m28 32h0m-36 1h0m-246-16h0m-53 16h0m-59 18h0m90-11h0m14 11h0m49-5h0m27-5h0m251 3h0m107 23h0m-40 2h0m-96-12h0m-125-2h0m-92 10h0m0-8h0m-2 4h0m-20 5h0m-8 2h0m-52-5h0m-40-5h0m-10 2h0m-16 8h0m-80 24h0m8-4h0m61-4h0m18 2h0m65-1h0m39-5h0m19 11h0m12-4h0m2 4h0m58-1h0m33-10h0m154 4h0m-81 17h0m-16 14h0m-42-6h0m-20-5h0m-16-2h0m-17 3h0m-5 9h0m-20-8h0m-57 3h0m-15-13h0m-39 8h0m-2-4h0m-2 2h0m-52 11h0m-88-8h0m-39 24h0m15-9h0m28 14h0m21-18h0m40 9h0m63 5h0m21-12h0m31 9h0m12 5h0m5-12h0m29 5h0m4 8h0m31-6h0m9-6h0m12 5h0m33-6h0m7 0h0m12 7h0m6-6h0m11 2h0m21-1h0m73 10h0m261 19h0m-9-3h0m-71-6h0m-22 10h0m-18-3h0m-17-2h0m-4 8h0m-10-5h0m-3-15h0m-225 9h0m-131 5h0m-4-1h0m-1-10h0m-4 10h0m-23-12h0m-57 17h0m-36-10h0m-72-1h0m-25 7h0m-10 3h0m-13 13h0m96-4h0m79-2h0m221 3h0m23 5h0m75-6h0m27 10h0m58-13h0m8 12h0m13 3h0m19-17h0m6 15h0m5-4h0m47-11h0m14 8h0m62 2h0m5-5h0m15 13h0m10-9h0m9 9h0m61-4h0m61 15h0m-15-2h0m-46 4h0m-23-3h0m-25-3h0m-27 3h0m-10 5h0m-14 0h0m-32-12h0m-18 17h0m0-5h0m-2-9h0m-5 0h0m0 12h0m-20-6h0m-5 5h0m-2 4h0m-14-2h0m-18-15h0m-40 6h0m-9-5h0m-5 10h0m-27 3h0m-142-2h0m-8-13h0m57 26h0m89-8h0m14 6h0m11 3h0m4 6h0m6 3h0m7-7h0m8 6h0m25 1h0m22-12h0m0 14h0m6-11h0m4-3h0m1 6h0m29 0h0m1-9h0m12 12h0m30 2h0m13-2h0m28-2h0m17 1h0m4-1h0m34 3h0m10-11h0m19 1h0m14-5h0m15 6h0m20 8h0m2-5h0m26 8h0m17-8h0m48 19h0m-19 1h0m-13 7h0m-103-7h0m-8-10h0m-20 19h0m-18-9h0m-22 9h0m-5-6h0m-1 5h0m-7 0h0m-7-9h0m-22-4h0m-42 4h0m-88 4h0m-2-3h0m-3 7h0m-5-3h0m-1-5h0m-5 4h0m-1-11h0m-4 7h0m-1 6h0m-3-11h0m-11 9h0m-3 4h0m-8-8h0m-10 0h0m-16-1h0m-11 9h0m-37 1h0m-48-2h0m-73 8h0m39 2h0m40-4h0m40 9h0m2 4h0m24 4h0m29-8h0m0 4h0m17-14h0m2 4h0m1 3h0m4-8h0m8 19h0m9-9h0m5 6h0m11-5h0m0-5h0m2 7h0m6-3h0m25-1h0m17 11h0m1-9h0m12-3h0m2-6h0m11 15h0m28-6h0m11 4h0m2-2h0m11-11h0m11 8h0m27-9h0m0 13h0m20-13h0m12 4h0m8 1h0m13 2h0m38-3h0m27 9h0m20-11h0m35 3h0m26-3h0m34 5h0m18-2h0m4 4h0m-10 20h0m-1 3h0m-16-2h0m-38 3h0m-9-8h0m0 9h0m-26-10h0m-81-4h0m-3 15h0m-2-10h0m-35 4h0m0-6h0m-24 1h0m-105 10h0m-28-2h0m-2-5h0m-10 5h0m-14-10h0m-11 4h0m-28 5h0m-30-3h0m-96 0h0m-30 1h0m-1-7h0m-6 10h0m-51 0h0m-15 5h0m-2-4h0m-33 22h0m1-11h0m5 11h0m8-14h0m3 3h0m4 2h0m19 9h0m16-13h0m7 1h0m6-3h0m2 15h0m1-11h0m16-1h0m3 1h0m5 4h0m34 9h0m5-2h0m1-12h0m39 11h0m54 3h0m11-13h0m14 8h0m78 0h0m7-11h0m6 3h0m1-4h0m7 7h0m34-6h0m70 7h0m4-2h0m17 5h0m1-11h0m27 8h0m10-8h0m23 14h0m4 5h0m21-18h0m43 2h0m41 14h0m36-14h0m4-2h0m29 4h0m34 4h0m4 22h0m-18-3h0m-1-8h0m-13 12h0m-3 0h0m-5-2h0m0 6h0m-8-4h0m-4 4h0m-65-5h0m-116-7h0m-3 15h0m-5-12h0m-5 3h0m-3-3h0m-8 11h0m-13-13h0m-22 9h0m-5-2h0m-1 4h0m-15 0h0m-8-2h0m-14-6h0m-21-7h0m-56-1h0m-51 18h0m-8-14h0m-3 3h0m-1 11h0m-37-18h0m-13 14h0m-12 0h0m-5-11h0m-27 1h0m-12 11h0m0 4h0m-53-2h0m-4-8h0m-19-9h0m-4 2h0m-26 1h0m-19 14h0m-8-16h0m-10 10h0m-15 0h0m-19 6h0m-16-8h0m-1 8h0m-3-4h0m-13 16h0m11 8h0m14-12h0m8 2h0m7 11h0m10-16h0m1 10h0m1-5h0m1 11h0m15-17h0m5 5h0m37 13h0m21-6h0m10-10h0m3 9h0m24 5h0m21-4h0m17 0h0m18 2h0m27-7h0m2-3h0m27 10h0m24-12h0m5 5h0m3 6h0m5-13h0m13 0h0m14 1h0m13 12h0m43 2h0m5-8h0m21 2h0m4 8h0m47-7h0m5-4h0m22-5h0m13 9h0m12-6h0m2-3h0m3 16h0m22-11h0m66 7h0m36-10h0m14 6h0m12-11h0m28 1h0m74 8h0m51 1h0m-7 18h0m-44 9h0m-3-4h0m-32 2h0m-41-3h0m-39-6h0m-25 7h0m-22-9h0m-6 5h0m-15 10h0m-13-14h0m-4 9h0m-6-12h0m-8 3h0m-56 5h0m-14-7h0m-8 10h0m-11-9h0m-4 3h0m-6 0h0m-11 9h0m-18 3h0m-6-10h0m0 3h0m-20-3h0m-5-6h0m-2 11h0m0-9h0m-8 8h0m-91-11h0m-1 15h0m-30-1h0m-3-13h0m-30 1h0m-4 0h0m-12 13h0m-33-8h0m-2 6h0m-12-9h0m-7 10h0m-3 1h0m-6-4h0m-2-8h0m-6 3h0m-21 9h0m-8-4h0m-16-9h0m-3 9h0m-2 4h0m-9-3h0m-19-3h0m-40 1h0m-2-8h0m-10 0h0m-5 9h0m-5 2h0m-18 4h0m-24-6h0m-11 7h0m11 14h0m42-8h0m25 2h0m34 10h0m66-18h0m3 2h0m1 8h0m2 6h0m10-10h0m49-2h0m32 7h0m8-8h0m22 2h0m7 2h0m5 12h0m2-5h0m4 0h0m3 5h0m6-16h0m11 0h0m13 9h0m0 4h0m54-9h0m30-3h0m2-3h0m18 15h0m2-10h0m2 9h0m28-8h0m32 13h0m20-20h0m6 18h0m13-10h0m28-4h0m44 4h0m8-4h0m2 6h0m27 6h0m5-15h0m20 9h0m15 9h0m6-9h0m14-3h0m82 11h0m5-4h0m17-5h0m35-8h0m12 5h0m36 24h0m-3 5h0m-21 3h0m-45-9h0m-57 10h0m-19-18h0m-47 7h0m-10 5h0m-2-4h0m-10-4h0m-2 10h0m-4-14h0m-19 0h0m-15 14h0m-1 5h0m-37-19h0m-35 12h0m-10-2h0m-3 8h0m-27-10h0m-30 2h0m-3-2h0m-8-7h0m-25 18h0m-4-9h0m-4 0h0m-7 2h0m-39-6h0m-11 5h0m-25 5h0m-11-6h0m-51-7h0m-20 15h0m-7-8h0m-13 4h0m-48 4h0m-12-18h0m-28 15h0m-8-14h0m-19 17h0m-9-9h0m0-5h0m-4 1h0m-1 9h0m-5 3h0m-7-4h0m-36-14h0m-72 11h0m-8-11h0m-20 5h0m-32 35h0m25-6h0m3-13h0m6 6h0m35 9h0m11 1h0m8-6h0m19-2h0m64 3h0m12-8h0m2 12h0m16-6h0m25-3h0m26-2h0m2 7h0m23-2h0m27 5h0m15-11h0m2-3h0m17 15h0m49 3h0m10-9h0m14 10h0m10-16h0m2 9h0m10-7h0m15 7h0m21-2h0m19 7h0m23-17h0m61 1h0m30 16h0m2-9h0m61-2h0m9 1h0m15-5h0m3 14h0m8 1h0m7-9h0m0 3h0m16-6h0m7 11h0m68-9h0m51-2h0m2-3h0m0 15h0m18-4h0m8-12h0m15 10h0m137 15h0m-26-6h0m-20 4h0m-79 1h0m-28 14h0m-23-11h0m-32-6h0m-40 13h0m-17-7h0m-42-9h0m-7 5h0m-26 13h0m-5-5h0m-31-7h0m-35 10h0m-9-15h0m-25 5h0m-45-4h0m-3 5h0m-18 3h0m-21 1h0m-5 8h0m-2-14h0m-23 11h0m-20-10h0m-5 0h0m-4-4h0m-5 4h0m-3-2h0m-18 2h0m-3 2h0m-8-5h0m-7 3h0m-1 6h0m-10-11h0m-8 18h0m-20-16h0m-47 2h0m0 12h0m-6-12h0m-5 7h0m-16-9h0m-5 11h0m-10-13h0m-12 0h0m-4 9h0m-17 9h0m-22 0h0m-5-1h0m-13-14h0m-2 11h0m-9-3h0m-55 5h0m-18-17h0m-30 15h0m-1-9h0m-6-5h0m-5 4h0m-4 11h0m-1-15h0m-3 14h0m-33-6h0m-3 10h0m-18-2h0m-1-14h0m-10 13h0m12 12h0m6-3h0m2 10h0m7-1h0m15-12h0m6 0h0m26 17h0m1-18h0m26 9h0m0-10h0m42 18h0m9-9h0m1 8h0m62-4h0m12-2h0m21 5h0m27-4h0m2-12h0m59 10h0m17-5h0m29 8h0m20-11h0m9 9h0m28 3h0m15 6h0m20-14h0m4-4h0m1 17h0m1-8h0m5-2h0m5 8h0m17 2h0m10-14h0m37-1h0m38 6h0m12 1h0m20-10h0m15 17h0m3-7h0m39 4h0m80-5h0m36-4h0m9 2h0m6 3h0m69-3h0m108-5h0m-214 24h0m-11 10h0m-13-6h0m-61-10h0m-11 2h0m-2 4h0m-15-5h0m-7 3h0m-11 2h0m-52 6h0m-50-8h0m-43 13h0m-59-5h0m-8 2h0m-60-8h0m-5-1h0m-15-5h0m-68 9h0m-30-7h0m-6 0h0m-8 1h0m-10 9h0m-16-9h0m-15 4h0m-13 3h0m-18-9h0m-7 9h0m-60 4h0m-13-9h0m-8-3h0m-7 9h0m-22-4h0m-18 0h0m-6-4h0m5 20h0m55-1h0m8 1h0m13 13h0m9-3h0m37 3h0m8-6h0m31 6h0m0-11h0m1-4h0m5 14h0m7-10h0m2-3h0m8 10h0m4-9h0m12-3h0m4 10h0m8 9h0m25-1h0m26-13h0m7 10h0m6-3h0m114-6h0m9 3h0m4 3h0m44 4h0m12 3h0m4-6h0m12 2h0m49-5h0m36-2h0m0 3h0m38-3h0m13-4h0m44 6h0m7-2h0m101-6h0m10-2h0m2 5h0m123 26h0m-152 3h0m-7 2h0m-18-4h0m-97 5h0m-62-13h0m-23 7h0m-28-8h0m-5 11h0m-2-13h0m-20 6h0m-27-5h0m-67 14h0m-5-13h0m-5 7h0m-34 7h0m-13-10h0m-54-7h0m-35 8h0m-22 7h0m-42-4h0m-5 7h0m-2-10h0m-8-7h0m-12 16h0m-14-16h0m-5 4h0m0 7h0m-18-1h0m-1 5h0m-3-4h0m-6-7h0m-47 0h0m-5 8h0m-19-7h0m-4 6h0m-9 2h0m-4-8h0m-24 12h0m44 6h0m30 12h0m49-3h0m22-12h0m87 13h0m6 4h0m10-16h0m2 13h0m3-3h0m20-5h0m5-1h0m6 6h0m7 6h0m6-5h0m10 2h0m49-11h0m3 9h0m10-8h0m40-3h0m8-1h0m7 1h0m128 17h0m26-19h0m7 18h0m29-8h0m38-3h0m5-1h0m11 2h0m36 9h0m21-16h0m857 28h0m-6 5h0m-6-5h0m-7-9h0m-4 7h0m-11 2h0m-6-6h0m-7 11h0m-6-5h0m-15 9h0m-13-4h0m-22 4h0m-744 0h0m-1-6h0m-79 5h0m-49-9h0m-33-6h0m0 15h0m-5-10h0m-6-7h0m-1 14h0m-4-11h0m-158 0h0m-9 0h0m-4 6h0m-13-1h0m-43 2h0m-1 3h0m-2-9h0m-11 9h0m-23 6h0m-1-15h0m-7 10h0m-3-10h0m-2-3h0m-9 11h0m-42-9h0m-68 3h0m-26 12h0m-55-15h0m-2 8h0m-3-1h0m-1-10h0m-27 7h0m15 20h0m3 0h0m70 5h0m41-3h0m26-5h0m12 2h0m2-2h0m46-2h0m4 11h0m7-5h0m8 4h0m16-7h0m6 2h0m16 2h0m28 2h0m2 3h0m2-13h0m5 4h0m10 4h0m45-3h0m44-3h0m2 10h0m5-9h0m28 2h0m13-2h0m22 10h0m4 2h0m44-10h0m14-4h0m3 3h0m78 4h0m20 10h0m26-6h0m5-5h0m27 2h0m14-6h0m631-5h0m7 7h0m47-6h0m16 6h0m13-4h0m71 11h0m27-13h0m0 13h0m8-9h0m0 11h0m7-15h0m2 11h0m17 6h0m11-14h0m-7 25h0m-11-2h0m-6 12h0m-4-8h0m-28-8h0m-21 7h0m-48-10h0m-48 1h0m-6 12h0m-79-10h0m-604 6h0m-16-2h0m-50 8h0m-67 2h0m-1-9h0m-50 2h0m-16-1h0m-4 2h0m-16-9h0m-3 4h0m-79-6h0m-26 14h0m-41 1h0m-2-11h0m-14 0h0m-11-1h0m-16 4h0m-3 4h0m-40 8h0m-12 0h0m-7-8h0m-11 8h0m-34-18h0m0 14h0m-14-10h0m-3 14h0m-14-15h0m-4 5h0m-38 8h0m-11 2h0m-11-8h0m-12 9h0m-6-19h0m-4 1h0m-18 7h0m-13 2h0m-13-6h0m-4 11h0m-11-8h0m80 14h0m2 17h0m52 0h0m19-15h0m46 0h0m27 16h0m27-11h0m2-8h0m5 11h0m30-5h0m23-3h0m21 0h0m5 14h0m0-17h0m5 7h0m14 8h0m22-4h0m5 5h0m17-11h0m21 6h0m3 4h0m24-3h0m3 5h0m30-15h0m12 3h0m82-2h0m38 13h0m20-1h0m46-14h0m8 5h0m50 8h0m687-13h0m5 6h0m111 2h0m4 7h0m-9 8h0m-4 4h0m-829-2h0m-58 5h0m-23 8h0m-17-7h0m-23 6h0m-69-10h0m-26 6h0m-21 4h0m-4 1h0m-17-8h0m-14-11h0m-8 10h0m-82-10h0m-116 3h0m-25 6h0m-36-6h0m-16 2h0m-5 5h0m-8 7h0m-5-9h0m-8-6h0m-21 0h0m-41 12h0m-11 1h0m-19-15h0m-3 7h0m-3-7h0m55 25h0m17 0h0m65 7h0m6 4h0m22 1h0m18-4h0m9-8h0m72-2h0m1 14h0m10-5h0m13-11h0m30 1h0m19 5h0m67 5h0m126-11h0m10 7h0m3 3h0m19-11h0m16 6h0m13-6h0m37 10h0m854-7h0m37 9h0m2 15h0m-9-5h0m0 15h0m-8-6h0m-9 4h0m-840 3h0m-29-1h0m-14-4h0m-30 3h0m-8-13h0m-76-2h0m-53-2h0m-74 19h0m-10-12h0m-5 11h0m-33-9h0m-47 7h0m-6-2h0m-10-4h0m-12-3h0m-100 7h0m-17 2h0m-12-4h0m-5 5h0m-11-11h0m-6-2h0m-8 4h0m-15-6h0m20 24h0m36 6h0m6-6h0m64 9h0m49-6h0m28 4h0m50-9h0m13 3h0m98 12h0m8-17h0m15 5h0m8 0h0m116-6h0m19 12h0m39-8h0m831 7h0m47-11h0m0 17h0m8-15h0m0 30h0m-12 4h0m-11-16h0m0 12h0m-13 4h0m-15-2h0m-23-13h0m-870 3h0m-125 13h0m-8-7h0m-128 6h0m-10 2h0m-9-12h0m-37 8h0m-30-1h0m-16 0h0m-57-7h0m-13 1h0m52 12h0m60 13h0m1-9h0m37 10h0m44-6h0m13 7h0m14-4h0m3-5h0m12 9h0m129-12h0m12 9h0m24-6h0m927-5h0m24 6h0m6 11h0m4-13h0m9 5h0m0 17h0m-2-5h0m-7 11h0m-10-2h0m-2-9h0m-975 18h0m-37-17h0m-3 6h0m-62 9h0m-44-3h0m-3 3h0m-50-17h0m56 21h0m11 17h0m8-11h0m13 2h0m65-6h0m77 12h0m-73 19h0m-22-8h0m-12-4h0m191 46h0m-1774 270h0m24-3h0m16-8h0m12-3h0m259 11h0m6 14h0m-25-6h0m-18 0h0m-3 8h0m-6-12h0m-31 2h0m-23 12h0m-7-6h0m-82-6h0m-3 4h0m-7 10h0m-32-10h0m-20-3h0m-6 1h0m-36-4h0m-18 6h0m0 10h0m-15-12h0m-11 21h0m6 2h0m56 6h0m32-11h0m7 12h0m26-8h0m42 8h0m53-11h0m13 2h0m31 14h0m46-17h0m20 6h0m19 3h0m32 0h0m17 0h0m48 17h0m-225 6h0m-4-2h0m-8 4h0m-4-8h0m-66 10h0m-33-9h0m-15-6h0m-35-1h0m0 10h0m-1-5h0m-44 0h0m15 14h0m98 9h0m6 9h0m20-16h0m48 16h0m34-19h0m18 13h0m63-3h0m253 11h0m-271 8h0m-57 8h0m-55-1h0m146 22h0m132-8h0m7 6h0m20 3h0m73-6h0m76-5h0m149 30h0m-164-18h0m-6 19h0m-91-16h0m-82 10h0m-254-13h0m297 33h0m93-2h0m157-8h0m2 10h0m40-8h0m64 19h0m-3 13h0m-24 3h0m-42-9h0m-55-3h0m-20 9h0m-8-11h0m-5 8h0m-112 5h0m-64-14h0m-12 25h0m55 9h0m190-5h0m110 10h0m-15-1h0m-21-1h0m-58 9h0m-114 20h0m1589 48h0m10-1h0m278-1h0m4 3h0m-22 7h0m-18 1h0m-30 6h0m-4-3h0m-5-3h0m-163 12h0m-11-10h0m-4 9h0m-16-10h0m8 19h0m1-6h0m2 12h0m15 6h0"/>
<path stroke="#fcfdbf" d="M3164 1565h0m-766 167h0m-56 48h0m-34 8h0"/>
</g>
<g stroke="#000" stroke-width="4.3" fill="none">
<path d="M211.2 140.5V1308.7"/>
<path d="M209 1306.5H1820"/>
<path d="M196.5 195.8H209M196.5 416.2H209M196.5 636.7H209M196.5 857.2H209M196.5 1077.7H209M196.5 1298H209"/>
<path d="M423 1308V1320.7M770.8 1308V1320.7M1118.6 1308V1320.7M1466.4 1308V1320.7M1814 1308V1320.7"/>
</g>
<g class="tk" text-anchor="end">
<text x="183.6" y="214">20</text>
<text x="183.6" y="434.4">15</text>
<text x="183.6" y="654.9">10</text>
<text x="183.6" y="875.4">5</text>
<text x="183.6" y="1095.9">0</text>
<text x="183.6" y="1316.2">-5</text>
</g>
<g class="tk" text-anchor="middle">
<text x="423" y="1370.7">-5</text>
<text x="770.8" y="1370.7">0</text>
<text x="1118.6" y="1370.7">5</text>
<text x="1466.4" y="1370.7">10</text>
<text x="1814" y="1370.7">15</text>
</g>
<text class="at" x="1013" y="1435.7" text-anchor="middle">UMAP_1</text>
<text class="at" transform="translate(95.3 725) rotate(-90)" text-anchor="middle">UMAP_2</text>
<rect x="1875.5" y="579.5" width="64" height="319.2" fill="url(#mg)"/>
<g stroke="#fff" stroke-width="1.6" fill="none">
<path d="M1875.5 668.8h12.8M1926.7 668.8h12.8M1875.5 783.5h12.8M1926.7 783.5h12.8M1875.5 898.2h12.8M1926.7 898.2h12.8"/>
</g>
<g class="tk">
<text x="1968.3" y="687">1.0</text>
<text x="1968.3" y="801.7">0.5</text>
<text x="1968.3" y="916.4">0.0</text>
</g>
</svg>
</body>
</html>
